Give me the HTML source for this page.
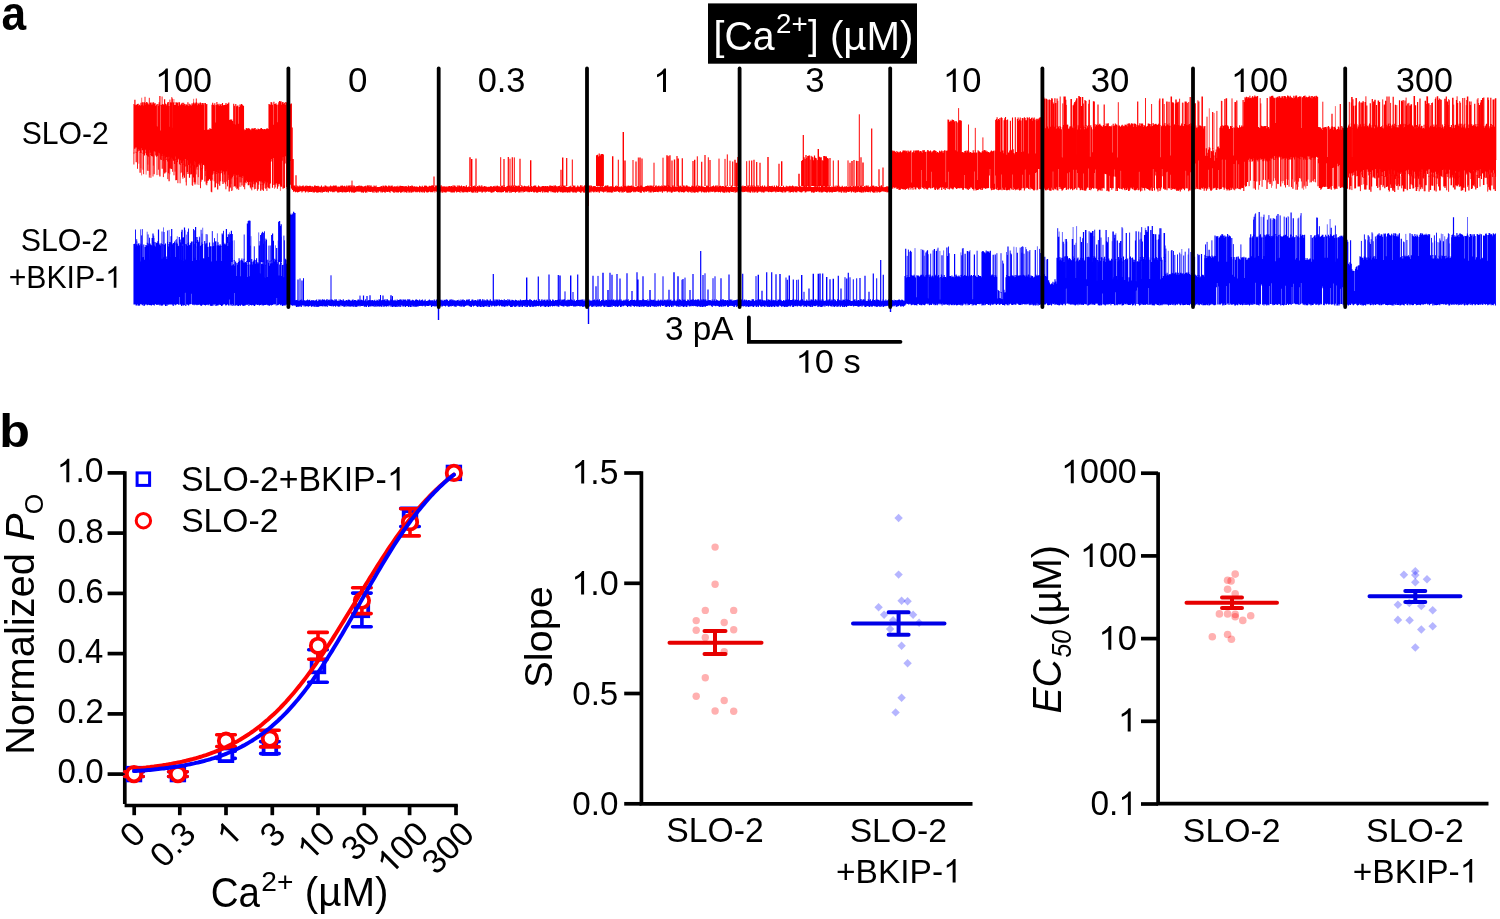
<!DOCTYPE html>
<html><head><meta charset="utf-8"><title>figure</title>
<style>
html,body{margin:0;padding:0;background:#fff;overflow:hidden;}
svg{display:block;will-change:transform;}
text{font-family:"Liberation Sans", sans-serif;font-kerning:none;}
</style></head>
<body>
<svg width="1500" height="919" viewBox="0 0 1500 919">
<rect width="1500" height="919" fill="#fff"/>
<text font-family="Liberation Sans, sans-serif" font-size="100.0" font-weight="bold" fill="#000" transform="matrix(0.44261 0 0 0.48736 1.40 29.52)">a</text><rect x="708" y="3.4" width="209" height="60.3" fill="#000"/><text font-family="Liberation Sans, sans-serif" font-size="100.0" fill="#fff" transform="matrix(0.39263 0 0 0.40445 713.60 49.51)">[Ca</text><text font-family="Liberation Sans, sans-serif" font-size="100.0" fill="#fff" transform="matrix(0.27774 0 0 0.28357 776.00 33.10)">2+</text><text font-family="Liberation Sans, sans-serif" font-size="100.0" fill="#fff" transform="matrix(0.38243 0 0 0.40123 808.10 49.27)">]</text><text font-family="Liberation Sans, sans-serif" font-size="100.0" fill="#fff" transform="matrix(0.40181 0 0 0.40338 829.91 49.63)">(µM)</text><g transform="matrix(0.34068 0 0 0.34300 155.19 92.00)"><path fill="#000" d="M 37.256 -0.000 L 28.467 -0.000 L 28.467 -53.828 C 26.367 -51.904 23.584 -49.933 20.117 -48.009 C 16.650 -46.038 13.574 -44.583 10.889 -43.551 L 10.889 -51.716 C 15.771 -53.922 20.068 -56.597 23.730 -59.741 C 27.393 -62.886 29.980 -65.889 31.494 -68.799 L 37.256 -68.799 Z"/><text font-family="Liberation Sans, sans-serif" font-size="100.0" fill="#000" x="55.615" y="0">00</text></g><text font-family="Liberation Sans, sans-serif" font-size="100.0" fill="#000" transform="matrix(0.34935 0 0 0.34604 347.94 92.06)">0</text><text font-family="Liberation Sans, sans-serif" font-size="100.0" fill="#000" transform="matrix(0.34427 0 0 0.34604 477.66 92.06)">0.3</text><g transform="translate(653.32 92.00)"><path fill="#000" d="M 12.667 -0.000 L 9.679 -0.000 L 9.679 -18.302 C 8.965 -17.647 8.019 -16.977 6.840 -16.323 C 5.661 -15.653 4.615 -15.158 3.702 -14.807 L 3.702 -17.584 C 5.362 -18.334 6.823 -19.243 8.068 -20.312 C 9.313 -21.381 10.193 -22.402 10.708 -23.392 L 12.667 -23.392 Z"/></g><text font-family="Liberation Sans, sans-serif" font-size="100.0" fill="#000" transform="matrix(0.34801 0 0 0.34604 805.37 92.06)">3</text><g transform="matrix(0.34531 0 0 0.34300 942.94 92.00)"><path fill="#000" d="M 37.256 -0.000 L 28.467 -0.000 L 28.467 -53.828 C 26.367 -51.904 23.584 -49.933 20.117 -48.009 C 16.650 -46.038 13.574 -44.583 10.889 -43.551 L 10.889 -51.716 C 15.771 -53.922 20.068 -56.597 23.730 -59.741 C 27.393 -62.886 29.980 -65.889 31.494 -68.799 L 37.256 -68.799 Z"/><text font-family="Liberation Sans, sans-serif" font-size="100.0" fill="#000" x="55.615" y="0">0</text></g><text font-family="Liberation Sans, sans-serif" font-size="100.0" fill="#000" transform="matrix(0.34777 0 0 0.34604 1090.68 92.06)">30</text><g transform="matrix(0.34199 0 0 0.34300 1230.98 92.00)"><path fill="#000" d="M 37.256 -0.000 L 28.467 -0.000 L 28.467 -53.828 C 26.367 -51.904 23.584 -49.933 20.117 -48.009 C 16.650 -46.038 13.574 -44.583 10.889 -43.551 L 10.889 -51.716 C 15.771 -53.922 20.068 -56.597 23.730 -59.741 C 27.393 -62.886 29.980 -65.889 31.494 -68.799 L 37.256 -68.799 Z"/><text font-family="Liberation Sans, sans-serif" font-size="100.0" fill="#000" x="55.615" y="0">00</text></g><text font-family="Liberation Sans, sans-serif" font-size="100.0" fill="#000" transform="matrix(0.34060 0 0 0.34604 1396.00 92.06)">300</text><text font-family="Liberation Sans, sans-serif" font-size="100.0" fill="#000" transform="matrix(0.30167 0 0 0.30508 21.63 144.00)">SLO-2</text><text font-family="Liberation Sans, sans-serif" font-size="100.0" fill="#000" transform="matrix(0.30382 0 0 0.30508 20.72 250.70)">SLO-2</text><g transform="matrix(0.30203 0 0 0.31500 8.63 287.80)"><text font-family="Liberation Sans, sans-serif" font-size="100.0" fill="#000" x="0.000" y="0">+BKIP-</text><path fill="#000" d="M 356.836 -0.000 L 348.047 -0.000 L 348.047 -53.828 C 345.947 -51.904 343.164 -49.933 339.697 -48.009 C 336.230 -46.038 333.154 -44.583 330.469 -43.551 L 330.469 -51.716 C 335.352 -53.922 339.648 -56.597 343.311 -59.741 C 346.973 -62.886 349.561 -65.889 351.074 -68.799 L 356.836 -68.799 Z"/></g><path d="M134.0 104.1V153.5 M134.7 105.1V148.8 M135.4 105.5V147.4 M136.1 104.4V152.7 M136.8 105.1V147.5 M137.5 104.0V151.4 M138.2 103.8V151.3 M138.9 105.8V149.3 M139.6 104.7V150.8 M140.3 105.8V152.7 M141.0 102.7V153.1 M141.7 104.9V148.1 M142.4 102.3V150.3 M143.1 105.4V153.7 M143.8 102.2V154.0 M144.5 102.3V155.5 M145.2 103.1V149.8 M145.9 104.5V153.2 M146.6 102.1V155.0 M147.3 102.4V155.9 M148.0 103.4V156.2 M148.7 104.5V156.7 M149.4 104.8V150.2 M150.1 102.7V152.7 M150.8 102.6V154.9 M151.5 104.6V156.1 M152.2 102.6V156.3 M152.9 104.5V156.6 M153.6 102.3V151.2 M154.3 104.0V151.1 M155.0 103.0V151.8 M155.7 105.9V155.4 M156.4 104.5V156.7 M157.1 126.4V156.3 M157.8 103.9V155.7 M158.5 105.7V152.3 M159.2 102.3V153.0 M159.9 104.8V154.3 M160.6 130.5V159.4 M161.3 104.9V160.0 M162.0 104.4V155.9 M162.7 104.0V154.7 M163.4 104.5V160.7 M164.1 104.6V155.8 M164.8 103.6V155.6 M165.5 103.7V158.3 M166.2 105.5V160.0 M166.9 104.3V157.1 M167.6 102.4V161.6 M168.3 102.1V160.3 M169.0 105.9V156.7 M169.7 126.8V161.1 M170.4 102.3V159.3 M171.1 103.1V157.8 M171.8 102.2V157.0 M172.5 127.8V158.8 M173.2 102.4V160.8 M173.9 102.2V160.7 M174.6 104.9V164.1 M175.3 105.0V156.6 M176.0 102.3V159.9 M176.7 102.4V162.3 M177.4 103.0V161.9 M178.1 102.2V158.6 M178.8 105.7V159.6 M179.5 102.3V164.0 M180.2 105.2V164.9 M180.9 104.4V160.3 M181.6 103.6V163.1 M182.3 102.8V161.4 M183.0 105.0V165.0 M183.7 102.8V160.4 M184.4 104.0V160.5 M185.1 105.7V159.1 M185.8 104.3V166.4 M186.5 104.5V164.8 M187.2 105.3V165.9 M187.9 102.3V160.3 M188.6 106.0V165.0 M189.3 103.7V160.0 M190.0 105.6V163.4 M190.7 104.6V167.5 M191.4 105.7V161.2 M192.1 103.3V165.4 M192.8 104.5V165.6 M193.5 102.5V162.9 M194.2 104.2V166.1 M194.9 102.7V161.3 M195.6 103.6V161.9 M196.3 102.3V167.4 M197.0 102.8V169.6 M197.7 105.3V166.8 M198.4 103.8V164.1 M199.1 102.7V163.6 M199.8 104.5V165.3 M200.5 102.4V170.6 M201.2 103.3V163.5 M201.9 104.9V169.0 M202.6 102.9V168.4 M203.3 104.4V165.0 M204.0 103.0V164.7 M204.7 129.9V165.8 M205.4 103.0V171.1 M206.1 104.5V169.3 M206.8 104.0V164.7 M207.0 129.6V179.9 M207.7 130.0V180.9 M208.4 129.4V180.4 M209.1 130.0V179.2 M209.8 128.3V179.3 M210.5 128.7V180.7 M211.2 128.9V180.1 M211.9 129.3V179.2 M212.0 104.8V169.2 M212.7 102.8V174.7 M213.4 104.8V171.3 M214.1 105.6V173.5 M214.8 103.2V171.0 M215.5 122.5V172.7 M216.2 104.9V174.0 M216.9 102.0V171.9 M217.6 104.3V170.0 M218.3 105.2V173.2 M219.0 103.7V172.9 M219.7 105.8V169.8 M220.4 104.6V173.5 M221.1 104.0V170.6 M221.8 105.9V173.3 M222.5 103.0V174.7 M223.2 104.9V171.6 M223.9 105.4V171.6 M224.6 105.0V174.4 M225.3 104.7V172.8 M226.0 103.0V171.5 M226.7 105.1V171.3 M227.4 104.1V169.6 M228.1 103.6V174.7 M228.8 102.5V174.9 M229.0 120.3V178.3 M229.7 119.9V177.3 M230.4 119.6V178.3 M231.1 119.6V178.7 M231.8 119.6V178.3 M232.5 120.9V177.1 M233.0 123.8V174.3 M233.7 103.7V175.7 M234.4 105.7V178.4 M235.1 124.5V173.7 M235.8 104.0V174.0 M236.5 106.4V175.2 M237.2 105.7V178.6 M237.9 105.5V175.0 M238.6 123.7V174.5 M239.3 106.9V176.9 M240.0 104.6V176.3 M240.7 105.4V176.9 M241.4 103.9V177.0 M242.1 104.5V177.9 M242.8 105.3V176.5 M243.5 106.1V175.5 M244.0 128.9V182.6 M244.7 130.2V184.8 M245.4 130.1V182.3 M246.1 128.5V183.3 M246.8 127.9V180.7 M247.5 128.7V182.1 M248.2 128.5V185.2 M248.9 128.0V185.3 M249.6 128.9V181.9 M250.3 129.4V184.5 M251.0 130.2V181.7 M251.7 128.4V182.6 M252.4 128.4V184.8 M253.1 128.3V184.3 M253.8 128.9V181.5 M254.5 128.3V183.4 M255.2 128.0V184.5 M255.9 129.9V181.7 M256.6 129.2V182.2 M257.3 129.9V182.9 M258.0 128.4V180.7 M258.7 129.0V184.7 M259.4 129.5V180.9 M260.1 129.0V181.4 M260.8 128.2V185.2 M261.5 127.9V181.2 M262.2 128.9V182.4 M262.9 128.9V185.1 M263.6 129.7V185.3 M264.3 128.9V183.6 M265.0 129.1V181.2 M265.7 129.8V181.8 M266.4 129.1V184.7 M267.1 128.0V181.9 M267.8 129.0V182.7 M268.5 129.2V181.2 M269.0 104.0V184.1 M269.7 104.4V188.5 M270.4 104.8V183.5 M271.1 102.0V161.6 M271.8 102.4V158.9 M272.5 104.7V187.7 M273.2 124.8V157.9 M273.9 101.7V184.9 M274.6 104.0V184.6 M275.3 103.9V183.3 M276.0 103.2V184.4 M276.7 104.8V183.1 M277.4 122.2V188.8 M278.1 104.4V186.4 M278.8 102.3V183.9 M279.5 101.0V183.7 M280.2 101.9V185.5 M280.9 101.1V186.8 M281.6 104.7V186.7 M282.3 102.2V160.8 M283.0 102.1V157.0 M283.7 103.9V187.4 M284.4 102.8V186.3 M285.1 104.9V163.6 M285.8 102.1V156.2 M286.5 102.4V186.9 M287.2 103.1V188.9 M287.9 101.6V162.7 M288.6 104.7V189.0 M289.3 102.7V183.6 M290.0 105.0V161.0 M290.7 103.8V184.7 M291.4 103.6V183.0 M291.5 128.1V188.6 M292.2 127.6V188.9 M292.5 160.0V189.9 M293.2 159.1V188.6 M293.5 186.2V191.8 M294.2 185.4V191.4 M294.9 185.6V191.3 M295.6 186.5V192.2 M296.3 185.5V191.6 M297.0 187.2V191.9 M297.7 185.7V192.6 M298.4 186.4V192.1 M299.1 186.7V192.0 M299.8 185.4V191.3 M300.5 186.3V191.3 M301.2 186.3V191.1 M301.9 186.2V192.4 M302.6 185.8V191.5 M303.3 185.4V191.3 M304.0 186.8V191.1 M304.7 186.5V191.3 M305.4 185.8V192.6 M306.1 186.5V191.7 M306.8 185.5V191.3 M307.5 186.0V191.6 M308.2 186.1V192.6 M308.9 186.2V191.5 M309.6 185.7V192.0 M310.3 185.8V191.7 M311.0 185.9V191.9 M311.7 187.3V192.1 M312.4 186.3V191.2 M313.1 186.8V192.4 M313.8 186.7V192.3 M314.5 185.4V192.6 M315.2 185.5V191.5 M315.9 186.2V192.1 M316.6 186.0V192.4 M317.3 186.2V192.8 M318.0 185.8V192.1 M318.7 186.2V192.4 M319.4 187.2V192.0 M320.1 186.6V192.0 M320.8 187.1V192.6 M321.5 185.4V191.6 M322.2 186.8V192.8 M322.9 187.2V191.8 M323.6 186.6V191.9 M324.3 186.9V191.9 M325.0 185.6V191.3 M325.7 185.6V191.6 M326.4 186.3V191.9 M327.1 186.6V192.3 M327.8 186.6V191.2 M328.5 187.3V192.5 M329.2 186.3V191.1 M329.9 187.2V191.3 M330.6 185.4V191.8 M331.3 186.8V191.5 M332.0 185.9V191.6 M332.7 186.7V192.2 M333.4 185.6V191.7 M334.1 185.5V192.3 M334.8 186.0V191.4 M335.5 185.4V191.2 M336.2 185.4V191.4 M336.9 186.6V191.3 M337.6 187.3V192.5 M338.3 186.5V192.5 M339.0 186.7V192.6 M339.7 186.7V191.7 M340.4 186.2V192.0 M341.1 185.6V191.7 M341.8 186.0V192.2 M342.5 185.6V192.6 M343.2 186.8V192.2 M343.9 186.0V191.4 M344.6 185.7V192.3 M345.3 186.6V192.3 M346.0 186.8V192.6 M346.7 185.6V191.9 M347.4 187.2V191.9 M348.1 185.7V191.9 M348.8 185.4V191.1 M349.5 185.6V192.6 M350.2 186.8V191.6 M350.9 185.3V191.5 M351.6 186.3V192.5 M352.3 185.4V192.6 M353.0 187.3V191.8 M353.7 185.6V192.7 M354.4 185.8V192.8 M355.1 187.3V191.9 M355.8 186.5V192.2 M356.5 186.2V191.4 M357.2 185.9V191.2 M357.9 186.0V191.8 M358.6 185.8V191.4 M359.3 185.6V191.7 M360.0 186.5V191.3 M360.7 185.7V191.8 M361.4 185.8V192.4 M362.1 186.0V192.5 M362.8 186.7V192.2 M363.5 186.9V192.8 M364.2 186.1V191.7 M364.9 186.7V191.5 M365.6 185.7V192.7 M366.3 187.2V192.2 M367.0 185.7V192.6 M367.7 185.3V191.1 M368.4 185.5V191.4 M369.1 186.9V192.0 M369.8 185.3V191.6 M370.5 186.3V192.1 M371.2 185.5V192.1 M371.9 187.0V191.0 M372.6 186.7V192.5 M373.3 187.0V191.6 M374.0 185.6V192.8 M374.7 186.3V191.1 M375.4 186.4V191.7 M376.1 185.5V192.5 M376.8 187.3V192.7 M377.5 186.9V191.5 M378.2 187.0V192.4 M378.9 187.0V191.4 M379.6 186.9V191.0 M380.3 186.6V191.6 M381.0 186.6V192.5 M381.7 186.0V191.6 M382.4 187.3V192.4 M383.1 185.6V191.5 M383.8 185.9V192.1 M384.5 187.0V192.3 M385.2 185.6V192.7 M385.9 185.6V191.5 M386.6 186.1V191.7 M387.3 187.1V192.1 M388.0 186.5V192.0 M388.7 185.4V191.2 M389.4 185.7V192.0 M390.1 187.0V192.7 M390.8 185.7V191.1 M391.5 185.7V191.1 M392.2 185.4V191.8 M392.9 186.8V191.5 M393.6 186.8V192.6 M394.3 186.3V192.8 M395.0 186.6V191.2 M395.7 186.4V192.2 M396.4 186.2V192.2 M397.1 186.9V192.4 M397.8 185.8V192.2 M398.5 187.1V192.4 M399.2 186.5V192.0 M399.9 185.7V191.3 M400.6 185.7V192.7 M401.3 186.0V192.6 M402.0 186.0V192.2 M402.7 185.9V191.8 M403.4 186.3V191.0 M404.1 186.3V192.4 M404.8 186.5V191.6 M405.5 186.2V191.9 M406.2 185.9V192.4 M406.9 186.8V192.7 M407.6 187.0V191.2 M408.3 185.4V191.4 M409.0 186.1V192.7 M409.7 187.2V192.3 M410.4 186.1V191.2 M411.1 186.4V192.7 M411.8 185.5V192.5 M412.5 185.7V191.8 M413.2 186.4V192.3 M413.9 186.6V191.6 M414.6 186.3V191.2 M415.3 187.1V192.2 M416.0 186.4V191.5 M416.7 186.6V192.3 M417.4 186.7V192.2 M418.1 186.9V191.1 M418.8 187.2V192.1 M419.5 185.7V192.5 M420.2 186.3V191.0 M420.9 186.7V192.3 M421.6 186.7V191.9 M422.3 185.7V192.5 M423.0 187.1V191.2 M423.7 186.9V192.3 M424.4 185.7V192.7 M425.1 185.6V191.5 M425.8 185.7V191.6 M426.5 185.7V192.2 M427.2 186.9V192.6 M427.9 186.5V192.4 M428.6 187.1V192.0 M429.3 185.7V191.3 M430.0 186.0V191.7 M430.7 186.2V192.3 M431.4 185.4V192.0 M432.1 185.5V192.3 M432.8 185.3V192.2 M433.5 185.8V191.3 M434.2 186.4V191.1 M434.9 187.3V192.6 M435.6 185.5V191.1 M436.3 185.5V191.3 M437.0 185.5V192.0 M437.7 186.8V191.9 M438.4 185.5V191.4 M439.1 186.8V192.1 M439.8 185.4V192.4 M440.5 186.8V191.4 M441.2 185.3V192.6 M441.9 186.5V191.1 M442.6 186.6V192.7 M443.3 186.3V191.5 M444.0 186.9V192.2 M444.7 186.3V192.3 M445.4 186.9V192.4 M446.1 186.4V192.6 M446.8 186.6V191.7 M447.5 187.2V191.4 M448.2 186.2V191.5 M448.9 186.3V191.7 M449.6 186.1V191.8 M450.3 187.1V191.7 M451.0 186.1V192.6 M451.7 186.0V192.5 M452.4 187.1V192.4 M453.1 185.3V192.5 M453.8 186.8V192.2 M454.5 185.6V192.4 M455.2 185.8V191.5 M455.9 186.9V191.1 M456.6 187.1V192.6 M457.3 185.6V192.1 M458.0 187.2V191.5 M458.7 185.6V192.1 M459.4 185.4V192.0 M460.1 186.3V192.8 M460.8 186.3V191.1 M461.5 185.4V191.6 M462.2 187.2V192.4 M462.9 186.2V192.1 M463.6 185.9V192.4 M464.3 186.3V191.7 M465.0 186.4V192.2 M465.7 186.7V191.7 M466.4 185.3V192.0 M467.1 187.3V192.6 M467.8 187.0V192.3 M468.5 186.8V191.2 M469.2 186.1V191.9 M469.9 186.8V191.7 M470.6 187.1V191.1 M471.3 185.7V192.3 M472.0 185.7V192.5 M472.7 187.2V192.7 M473.4 186.1V192.6 M474.1 186.5V192.6 M474.8 185.5V191.0 M475.5 186.2V192.4 M476.2 186.5V191.1 M476.9 187.2V192.7 M477.6 185.9V192.8 M478.3 186.9V191.5 M479.0 185.5V191.7 M479.7 185.4V191.7 M480.4 186.5V191.8 M481.1 186.5V191.2 M481.8 185.3V192.4 M482.5 186.8V192.5 M483.2 186.5V191.0 M483.9 186.8V192.0 M484.6 186.0V191.2 M485.3 186.7V192.4 M486.0 186.3V191.1 M486.7 187.0V192.0 M487.4 187.2V191.3 M488.1 186.8V191.3 M488.8 186.8V192.0 M489.5 186.9V191.4 M490.2 186.4V191.8 M490.9 186.0V192.6 M491.6 186.4V192.7 M492.3 186.7V192.6 M493.0 186.7V191.8 M493.7 186.1V192.3 M494.4 186.8V191.4 M495.1 185.7V191.0 M495.8 186.9V191.1 M496.5 186.2V191.9 M497.2 185.6V192.0 M497.9 186.1V192.6 M498.6 186.4V192.1 M499.3 186.5V191.8 M500.0 186.3V192.5 M500.7 187.3V192.1 M501.4 185.8V192.6 M502.1 185.9V191.9 M502.8 185.4V192.2 M503.5 187.1V192.0 M504.2 185.3V191.1 M504.9 186.9V191.1 M505.6 186.9V192.5 M506.3 187.2V192.2 M507.0 186.0V192.4 M507.7 186.0V192.5 M508.4 185.5V191.3 M509.1 185.4V191.2 M509.8 185.8V192.7 M510.5 186.6V191.4 M511.2 185.5V192.7 M511.9 185.9V191.7 M512.6 186.6V192.1 M513.3 185.4V191.7 M514.0 185.4V192.0 M514.7 187.1V191.8 M515.4 185.6V192.8 M516.1 185.7V191.7 M516.8 186.0V192.1 M517.5 186.6V191.6 M518.2 185.4V191.5 M518.9 185.8V192.7 M519.6 186.0V192.3 M520.3 187.1V191.3 M521.0 187.1V192.4 M521.7 185.3V191.2 M522.4 186.3V191.2 M523.1 187.1V192.6 M523.8 186.2V191.4 M524.5 185.7V192.1 M525.2 186.2V191.1 M525.9 186.3V191.8 M526.6 186.6V191.2 M527.3 186.2V191.5 M528.0 186.6V192.2 M528.7 185.6V191.7 M529.4 187.0V192.2 M530.1 186.7V191.8 M530.8 185.9V191.6 M531.5 186.0V191.9 M532.2 186.6V191.4 M532.9 186.9V191.5 M533.6 186.1V192.3 M534.3 185.6V192.5 M535.0 185.8V192.0 M535.7 185.6V191.6 M536.4 186.9V192.4 M537.1 186.8V192.7 M537.8 187.2V192.6 M538.5 185.4V191.7 M539.2 186.2V191.9 M539.9 186.4V191.8 M540.6 187.2V192.2 M541.3 186.7V191.1 M542.0 186.2V191.6 M542.7 185.9V192.7 M543.4 186.1V191.2 M544.1 186.3V191.7 M544.8 186.3V192.6 M545.5 186.0V192.0 M546.2 186.7V192.2 M546.9 185.9V192.0 M547.6 186.0V192.5 M548.3 186.6V192.4 M549.0 186.4V191.1 M549.7 185.6V191.3 M550.4 185.5V191.2 M551.1 185.9V192.3 M551.8 185.8V191.1 M552.5 186.0V191.9 M553.2 186.8V192.5 M553.9 185.4V191.9 M554.6 186.2V192.5 M555.3 185.3V192.7 M556.0 186.3V191.9 M556.7 186.3V191.4 M557.4 187.3V192.8 M558.1 186.0V192.3 M558.8 186.3V191.6 M559.5 185.8V191.3 M560.2 186.9V192.3 M560.9 185.4V192.2 M561.6 186.3V191.8 M562.3 186.4V192.4 M563.0 185.5V192.7 M563.7 185.4V192.2 M564.4 186.0V191.9 M565.1 185.4V192.6 M565.8 186.9V192.1 M566.5 186.7V191.7 M567.2 187.2V192.7 M567.9 186.9V192.4 M568.6 187.1V191.9 M569.3 186.3V192.5 M570.0 186.8V192.5 M570.7 185.8V191.6 M571.4 187.3V191.4 M572.1 186.5V191.7 M572.8 186.8V192.4 M573.5 185.4V192.6 M574.2 186.0V191.8 M574.9 185.4V192.6 M575.6 187.2V192.6 M576.3 187.3V192.7 M577.0 186.8V191.6 M577.7 185.4V191.7 M578.4 186.6V191.6 M579.1 186.5V191.6 M579.8 187.1V192.1 M580.5 185.3V192.7 M581.2 186.6V192.6 M581.9 185.3V191.2 M582.6 186.8V191.2 M583.3 187.2V192.3 M584.0 186.0V192.8 M584.7 185.3V192.6 M585.4 185.6V191.0 M586.1 185.4V191.1 M586.8 186.7V191.4 M587.5 186.2V191.1 M588.2 185.7V192.1 M588.9 185.6V192.4 M589.6 185.6V192.6 M590.3 186.5V191.4 M591.0 185.3V192.6 M591.7 185.9V191.3 M592.4 187.3V191.4 M593.1 186.6V191.8 M593.8 186.1V192.5 M594.5 186.3V191.8 M595.2 186.1V191.1 M595.9 187.0V192.2 M596.6 186.9V191.9 M597.3 186.5V191.3 M598.0 186.6V192.2 M598.7 186.9V191.3 M599.4 187.1V192.8 M600.1 186.3V191.0 M600.8 185.5V191.5 M601.5 186.9V191.1 M602.2 185.9V191.9 M602.9 186.8V191.3 M603.6 187.2V192.6 M604.3 186.8V191.3 M605.0 186.1V192.1 M605.7 185.5V191.3 M606.4 186.2V191.2 M607.1 185.5V192.5 M607.8 185.3V192.2 M608.5 186.6V192.2 M609.2 186.4V192.6 M609.9 186.6V191.9 M610.6 186.3V192.2 M611.3 186.7V192.7 M612.0 186.1V192.2 M612.7 185.6V192.6 M613.4 186.5V191.0 M614.1 186.9V191.6 M614.8 187.3V191.9 M615.5 186.1V191.5 M616.2 185.6V191.7 M616.9 186.9V191.1 M617.6 185.9V191.1 M618.3 186.3V191.9 M619.0 186.6V191.6 M619.7 187.0V192.5 M620.4 187.2V191.6 M621.1 186.2V191.0 M621.8 186.5V192.6 M622.5 187.2V192.2 M623.2 185.6V192.6 M623.9 185.4V191.3 M624.6 186.1V192.1 M625.3 185.9V191.1 M626.0 185.7V191.5 M626.7 187.1V192.6 M627.4 186.3V192.8 M628.1 185.5V192.7 M628.8 185.7V192.4 M629.5 186.0V192.4 M630.2 185.7V192.7 M630.9 185.9V192.3 M631.6 185.4V191.9 M632.3 185.9V191.2 M633.0 187.2V191.2 M633.7 186.0V192.3 M634.4 187.1V191.4 M635.1 187.2V192.2 M635.8 186.7V191.8 M636.5 187.0V191.0 M637.2 186.1V191.7 M637.9 186.4V191.3 M638.6 185.9V192.0 M639.3 186.8V191.4 M640.0 186.0V192.4 M640.7 185.4V192.8 M641.4 185.4V192.7 M642.1 186.0V191.1 M642.8 186.7V191.3 M643.5 187.2V192.1 M644.2 186.9V192.4 M644.9 186.8V191.3 M645.6 186.2V191.4 M646.3 186.1V192.0 M647.0 186.0V191.1 M647.7 185.4V191.3 M648.4 185.8V191.2 M649.1 186.5V192.6 M649.8 185.4V191.3 M650.5 185.4V192.4 M651.2 185.6V192.5 M651.9 185.7V191.2 M652.6 186.6V191.5 M653.3 185.6V192.6 M654.0 186.8V192.0 M654.7 187.0V192.0 M655.4 186.0V192.0 M656.1 185.3V191.8 M656.8 186.6V191.8 M657.5 186.4V192.0 M658.2 185.9V192.2 M658.9 185.5V191.6 M659.6 186.8V191.5 M660.3 186.1V191.8 M661.0 186.9V191.6 M661.7 185.5V191.4 M662.4 186.1V192.7 M663.1 186.7V191.6 M663.8 185.6V191.1 M664.5 185.5V191.5 M665.2 186.1V191.3 M665.9 185.6V191.1 M666.6 185.8V191.2 M667.3 186.8V192.6 M668.0 185.5V191.8 M668.7 185.3V191.4 M669.4 186.0V191.4 M670.1 186.2V192.3 M670.8 186.5V191.3 M671.5 187.2V192.8 M672.2 185.9V192.6 M672.9 185.3V191.7 M673.6 186.7V191.2 M674.3 185.7V191.7 M675.0 186.8V192.1 M675.7 186.6V191.2 M676.4 187.1V191.4 M677.1 186.0V191.5 M677.8 186.9V191.1 M678.5 185.4V192.0 M679.2 185.7V192.5 M679.9 187.0V191.5 M680.6 185.8V191.5 M681.3 187.0V192.2 M682.0 186.3V192.0 M682.7 186.5V192.1 M683.4 185.4V192.6 M684.1 185.5V192.5 M684.8 186.6V192.1 M685.5 186.7V191.1 M686.2 185.5V191.4 M686.9 185.3V191.1 M687.6 186.3V192.1 M688.3 186.9V192.5 M689.0 186.3V191.2 M689.7 186.9V191.8 M690.4 186.9V192.3 M691.1 187.2V191.3 M691.8 185.7V192.7 M692.5 185.8V191.6 M693.2 185.9V192.5 M693.9 186.4V192.0 M694.6 185.5V192.7 M695.3 186.2V192.5 M696.0 186.6V191.8 M696.7 185.6V192.1 M697.4 187.3V192.6 M698.1 186.2V192.5 M698.8 185.6V191.6 M699.5 185.9V191.5 M700.2 187.1V191.4 M700.9 185.7V191.0 M701.6 186.1V192.4 M702.3 186.3V191.0 M703.0 186.6V192.0 M703.7 186.8V192.2 M704.4 187.0V192.6 M705.1 187.2V192.6 M705.8 187.1V191.8 M706.5 185.7V192.5 M707.2 185.6V191.7 M707.9 186.3V191.4 M708.6 185.9V192.4 M709.3 187.3V191.5 M710.0 186.6V192.3 M710.7 186.2V191.2 M711.4 186.7V191.7 M712.1 186.6V191.5 M712.8 186.0V192.1 M713.5 185.5V191.0 M714.2 187.1V191.8 M714.9 186.3V192.5 M715.6 185.4V191.9 M716.3 185.4V191.5 M717.0 187.2V192.0 M717.7 185.4V191.2 M718.4 187.0V192.2 M719.1 186.0V192.0 M719.8 186.0V191.7 M720.5 185.8V192.6 M721.2 186.2V191.8 M721.9 186.4V191.2 M722.6 186.0V192.2 M723.3 185.9V192.4 M724.0 187.1V192.7 M724.7 186.4V192.8 M725.4 186.1V191.3 M726.1 185.5V192.2 M726.8 186.9V192.6 M727.5 187.1V191.3 M728.2 186.4V191.9 M728.9 187.3V192.5 M729.6 187.1V192.7 M730.3 186.9V191.2 M731.0 186.2V191.8 M731.7 185.4V192.0 M732.4 186.6V192.1 M733.1 187.1V191.8 M733.8 186.9V192.2 M734.5 186.7V191.1 M735.2 186.8V192.7 M735.9 186.2V191.8 M736.6 185.5V192.3 M737.3 186.6V191.3 M738.0 187.0V192.5 M738.7 187.1V192.3 M739.4 185.4V191.7 M740.1 187.1V191.0 M740.8 187.3V191.0 M741.5 186.3V191.7 M742.2 186.6V191.7 M742.9 185.5V192.2 M743.6 186.8V191.8 M744.3 186.1V192.1 M745.0 186.0V191.8 M745.7 185.9V191.4 M746.4 186.6V191.8 M747.1 186.8V191.5 M747.8 185.6V192.3 M748.5 185.6V191.5 M749.2 187.3V192.4 M749.9 185.5V191.8 M750.6 187.0V192.7 M751.3 185.4V191.2 M752.0 186.8V191.6 M752.7 185.4V192.6 M753.4 187.0V191.2 M754.1 185.4V192.6 M754.8 186.3V192.5 M755.5 186.7V191.7 M756.2 186.5V191.3 M756.9 185.3V192.6 M757.6 186.8V192.7 M758.3 185.5V191.7 M759.0 187.1V191.7 M759.7 186.6V191.2 M760.4 186.0V191.8 M761.1 186.1V191.5 M761.8 187.1V192.4 M762.5 185.4V191.8 M763.2 186.7V192.2 M763.9 187.0V192.7 M764.6 185.5V191.7 M765.3 187.0V191.5 M766.0 186.5V191.3 M766.7 186.9V191.5 M767.4 186.2V191.0 M768.1 185.5V192.1 M768.8 186.6V192.2 M769.5 185.9V191.2 M770.2 186.4V192.1 M770.9 186.0V191.7 M771.6 186.3V192.2 M772.3 185.7V191.9 M773.0 186.8V191.3 M773.7 186.8V191.7 M774.4 185.5V191.6 M775.1 187.3V191.5 M775.8 187.1V192.4 M776.5 185.4V191.5 M777.2 186.4V191.7 M777.9 186.2V192.1 M778.6 185.7V192.1 M779.3 187.1V191.1 M780.0 186.7V192.1 M780.7 186.5V191.4 M781.4 186.9V192.3 M782.1 186.9V192.1 M782.8 187.1V192.8 M783.5 185.7V191.3 M784.2 187.2V191.5 M784.9 187.1V192.4 M785.6 187.2V192.3 M786.3 185.8V191.6 M787.0 187.2V191.2 M787.7 186.2V191.2 M788.4 186.9V191.1 M789.1 186.3V192.6 M789.8 185.8V191.4 M790.5 186.3V192.5 M791.2 186.3V191.9 M791.9 186.3V191.9 M792.6 185.6V191.7 M793.3 186.3V192.4 M794.0 186.3V191.4 M794.7 187.2V191.4 M795.4 186.4V192.2 M796.1 185.9V192.1 M796.8 186.9V192.5 M797.5 186.5V191.3 M798.2 187.0V191.1 M798.9 186.6V191.5 M799.6 185.8V191.8 M800.3 186.6V192.2 M801.0 186.2V192.3 M801.7 187.0V192.6 M802.4 186.9V191.7 M803.1 185.5V191.2 M803.8 186.4V191.3 M804.5 185.8V191.1 M805.2 186.6V192.6 M805.9 185.6V192.2 M806.6 185.7V191.6 M807.3 186.8V191.6 M808.0 186.7V191.1 M808.7 185.4V191.6 M809.4 186.3V191.3 M810.1 185.9V191.2 M810.8 186.4V191.3 M811.5 187.1V192.6 M812.2 187.0V192.6 M812.9 186.9V191.7 M813.6 187.1V192.7 M814.3 186.5V192.4 M815.0 185.3V191.7 M815.7 186.2V191.4 M816.4 186.8V191.9 M817.1 185.3V191.5 M817.8 186.2V191.6 M818.5 187.3V191.5 M819.2 185.9V192.3 M819.9 187.1V192.3 M820.6 187.3V191.3 M821.3 185.7V192.6 M822.0 185.6V192.6 M822.7 185.6V192.2 M823.4 186.8V191.3 M824.1 186.3V192.1 M824.8 186.7V191.1 M825.5 185.3V192.0 M826.2 185.7V191.9 M826.9 185.9V192.8 M827.6 186.4V192.3 M828.3 186.7V191.6 M829.0 185.5V191.7 M829.7 186.6V192.6 M830.4 187.1V192.0 M831.1 187.2V191.8 M831.8 186.6V192.5 M832.5 186.9V192.6 M833.2 186.6V192.0 M833.9 185.7V191.5 M834.6 186.9V192.0 M835.3 186.8V192.0 M836.0 185.6V191.6 M836.7 187.2V191.8 M837.4 185.8V191.2 M838.1 186.6V191.1 M838.8 185.4V192.3 M839.5 186.5V191.8 M840.2 186.7V192.2 M840.9 187.1V191.3 M841.6 186.7V192.7 M842.3 185.8V191.4 M843.0 187.1V191.3 M843.7 187.2V192.5 M844.4 186.4V192.4 M845.1 186.5V191.2 M845.8 186.7V192.7 M846.5 186.3V192.5 M847.2 187.1V191.8 M847.9 186.6V191.8 M848.6 186.4V192.0 M849.3 186.2V191.7 M850.0 186.6V191.4 M850.7 185.9V191.0 M851.4 186.8V192.4 M852.1 187.0V191.7 M852.8 186.3V191.0 M853.5 186.0V192.1 M854.2 186.1V192.4 M854.9 186.9V191.3 M855.6 186.2V192.8 M856.3 185.7V191.7 M857.0 186.4V192.3 M857.7 186.1V192.0 M858.4 185.9V191.0 M859.1 186.2V192.1 M859.8 187.2V192.3 M860.5 185.7V192.3 M861.2 186.2V192.4 M861.9 185.5V192.8 M862.6 187.0V191.6 M863.3 186.7V192.5 M864.0 186.7V192.3 M864.7 185.9V191.1 M865.4 187.2V192.2 M866.1 185.5V191.8 M866.8 185.6V191.7 M867.5 186.4V191.9 M868.2 185.5V192.2 M868.9 187.0V191.9 M869.6 187.1V191.3 M870.3 186.2V192.5 M871.0 186.9V191.3 M871.7 185.5V191.3 M872.4 186.1V192.0 M873.1 185.6V192.4 M873.8 185.7V192.7 M874.5 186.8V192.5 M875.2 187.2V191.0 M875.9 186.0V192.5 M876.6 186.5V191.3 M877.3 186.8V192.6 M878.0 186.8V191.1 M878.7 186.9V191.9 M879.4 186.1V192.6 M880.1 185.7V192.2 M880.8 187.2V192.0 M881.5 185.3V191.3 M882.2 187.0V191.6 M882.9 185.9V191.0 M883.6 187.2V191.4 M884.3 187.2V191.7 M885.0 187.0V191.2 M885.7 187.1V192.0 M886.4 186.6V191.6 M887.1 186.2V192.5 M887.8 186.6V192.0 M888.5 186.4V192.3 M889.2 187.0V191.3 M889.9 186.3V192.5 M890.0 186.9V192.7 M890.7 187.7V192.6 M891.4 186.4V194.3 M892.0 151.6V187.6 M892.7 150.6V188.7 M893.4 151.3V187.3 M894.1 150.8V187.6 M894.8 151.2V188.3 M895.5 152.0V187.4 M896.2 152.9V187.6 M896.9 151.0V189.0 M897.6 152.0V188.7 M898.3 152.8V188.3 M899.0 151.7V190.0 M899.7 152.4V189.8 M900.4 151.2V189.7 M901.1 152.4V188.2 M901.8 152.2V189.1 M902.5 151.5V189.0 M903.2 150.2V189.6 M903.9 151.0V188.9 M904.6 150.5V189.3 M905.3 150.4V189.9 M906.0 151.7V188.8 M906.7 150.7V189.1 M907.4 152.7V187.9 M908.1 150.6V188.5 M908.8 151.6V189.8 M909.5 152.1V187.8 M910.2 150.7V187.2 M910.9 150.4V189.5 M911.6 182.4V187.8 M912.3 152.5V187.9 M913.0 151.9V189.7 M913.7 150.4V187.0 M914.4 152.8V187.2 M915.1 150.5V189.3 M915.8 150.6V189.6 M916.5 150.5V187.5 M917.2 150.2V187.2 M917.9 150.7V188.0 M918.6 150.3V189.1 M919.3 152.2V189.5 M920.0 151.0V187.7 M920.7 151.1V188.9 M921.4 151.5V170.1 M922.1 152.9V187.2 M922.8 150.3V188.0 M923.5 150.6V188.3 M924.2 150.1V189.2 M924.9 151.4V187.1 M925.6 152.0V188.4 M926.3 180.9V188.7 M927.0 151.5V189.6 M927.7 150.1V189.6 M928.4 150.4V187.9 M929.1 151.9V187.1 M929.8 150.9V188.1 M930.5 150.4V188.5 M931.2 151.5V171.8 M931.9 152.8V188.2 M932.6 151.6V188.1 M933.3 151.1V187.3 M934.0 150.1V187.4 M934.7 150.6V189.5 M935.4 150.8V189.9 M936.1 151.1V187.4 M936.8 152.8V188.8 M937.5 152.1V189.7 M938.2 152.4V188.7 M938.9 152.7V189.4 M939.6 150.8V187.9 M940.3 151.6V187.5 M941.0 151.4V187.2 M941.7 150.4V190.0 M942.4 152.4V187.6 M943.1 150.9V187.3 M943.8 152.8V189.0 M944.5 150.2V188.1 M945.2 150.5V190.0 M945.9 182.2V187.7 M946.6 150.8V188.3 M947.3 150.4V187.2 M948.0 119.6V188.9 M948.7 119.8V171.7 M949.4 122.1V189.6 M950.1 121.6V187.6 M950.8 120.6V188.6 M951.5 121.2V188.5 M952.2 119.5V188.7 M952.9 119.9V189.6 M953.6 120.1V188.4 M954.3 122.1V187.2 M955.0 121.1V187.2 M955.7 150.3V188.1 M956.4 121.2V189.0 M957.1 151.4V188.2 M957.8 122.4V188.6 M958.5 121.6V188.0 M959.2 120.5V188.0 M959.9 120.1V188.6 M960.6 120.5V187.7 M961.3 120.8V187.9 M962.0 152.3V188.2 M962.7 152.1V189.7 M963.4 152.6V189.8 M964.1 152.8V187.9 M964.8 150.9V174.9 M965.5 150.7V188.6 M966.2 152.6V188.1 M966.9 150.4V189.2 M967.6 151.3V189.2 M968.3 150.2V190.0 M969.0 151.5V188.1 M969.7 152.9V189.1 M970.4 152.1V187.6 M971.1 152.6V187.6 M971.8 152.8V187.7 M972.5 153.0V189.0 M973.2 150.3V189.2 M973.9 152.6V190.4 M974.6 152.4V171.6 M975.3 150.2V188.8 M976.0 152.7V190.4 M976.7 152.5V189.9 M977.4 180.1V190.1 M978.1 150.3V190.1 M978.8 151.2V189.3 M979.5 151.4V188.7 M980.2 152.3V189.1 M980.9 152.6V190.1 M981.6 152.6V188.1 M982.3 150.9V190.1 M983.0 152.1V188.6 M983.7 150.6V187.7 M984.4 150.1V188.3 M985.1 151.3V188.2 M985.8 150.3V189.1 M986.5 151.8V188.0 M987.2 151.3V188.3 M987.9 152.3V188.3 M988.6 152.0V188.0 M989.3 153.0V175.6 M990.0 152.3V169.0 M990.7 151.4V188.5 M991.4 150.5V190.3 M992.1 151.0V188.2 M992.8 151.7V190.0 M993.5 150.7V189.6 M994.2 183.8V189.8 M994.9 151.4V188.9 M995.0 150.4V188.3 M995.7 119.9V175.5 M996.4 119.1V189.0 M997.1 117.3V190.0 M997.8 120.5V187.7 M998.5 118.9V190.2 M999.2 119.9V189.5 M999.9 118.0V190.0 M1000.6 151.7V189.5 M1001.3 117.3V174.4 M1002.0 118.0V190.3 M1002.7 150.6V187.8 M1003.4 153.3V189.5 M1004.1 120.3V189.9 M1004.8 118.3V189.7 M1005.5 117.1V187.6 M1006.2 120.0V189.9 M1006.9 154.7V190.4 M1007.6 119.6V190.1 M1008.3 152.6V190.0 M1009.0 152.6V188.9 M1009.7 150.6V190.2 M1010.4 120.7V187.9 M1011.1 150.5V188.4 M1011.8 149.7V189.5 M1012.5 117.4V174.4 M1013.2 149.3V190.0 M1013.9 152.9V187.6 M1014.6 154.2V188.9 M1015.3 117.2V190.2 M1016.0 152.1V189.1 M1016.7 152.0V189.7 M1017.4 119.0V189.6 M1018.1 117.5V188.3 M1018.8 121.0V189.7 M1019.5 119.5V190.4 M1020.2 117.6V189.9 M1020.9 120.6V190.2 M1021.6 151.9V188.5 M1022.3 118.0V174.7 M1023.0 118.2V188.3 M1023.7 151.5V187.7 M1024.4 117.3V190.4 M1025.1 118.0V169.5 M1025.8 120.2V188.4 M1026.5 120.2V187.8 M1027.2 117.2V187.8 M1027.9 118.1V188.1 M1028.6 153.6V188.9 M1029.3 117.2V174.7 M1030.0 119.1V189.5 M1030.7 119.0V187.6 M1031.4 117.9V188.4 M1032.1 117.5V189.0 M1032.8 120.8V189.3 M1033.5 118.6V190.2 M1034.2 117.5V190.5 M1034.9 119.8V189.7 M1035.6 153.6V173.0 M1036.3 118.7V172.1 M1037.0 120.6V190.3 M1037.7 118.7V189.6 M1038.4 119.6V169.1 M1039.1 118.2V168.9 M1039.8 117.4V188.9 M1040.5 117.3V189.2 M1042.5 97.4V190.9 M1043.2 98.1V188.5 M1043.9 97.6V189.0 M1044.6 98.8V187.8 M1045.3 128.3V190.0 M1046.0 98.5V190.4 M1046.7 99.1V189.6 M1047.4 126.4V189.7 M1048.1 99.8V189.7 M1048.8 128.4V188.1 M1049.5 99.6V190.6 M1050.2 126.8V190.3 M1050.9 99.9V191.0 M1051.6 98.3V187.8 M1052.3 98.5V189.8 M1053.0 125.4V171.5 M1053.7 126.1V190.2 M1054.4 127.1V188.3 M1055.1 128.5V189.0 M1055.8 127.7V189.4 M1056.5 128.9V187.2 M1057.2 125.8V190.2 M1057.9 127.9V190.5 M1058.6 126.6V169.1 M1059.3 128.5V187.1 M1060.0 126.0V188.9 M1060.7 126.9V187.6 M1061.4 129.3V189.3 M1062.1 157.5V190.7 M1062.8 127.5V190.0 M1063.5 125.1V188.8 M1064.2 127.2V188.0 M1064.9 125.5V187.7 M1065.6 128.7V187.6 M1066.3 125.0V190.0 M1067.0 124.6V189.2 M1067.7 124.7V173.2 M1068.4 128.7V189.6 M1069.1 128.6V188.3 M1069.8 126.5V172.3 M1070.5 126.2V189.4 M1071.2 126.3V189.1 M1071.9 126.2V187.9 M1072.6 127.7V190.3 M1073.3 124.8V169.8 M1074.0 128.3V189.5 M1074.7 124.6V189.0 M1075.4 126.8V187.9 M1076.1 126.4V169.8 M1076.8 154.6V189.7 M1077.5 129.4V172.9 M1078.2 125.2V187.7 M1078.9 127.6V187.1 M1079.6 126.3V188.3 M1080.3 126.9V190.2 M1081.0 129.4V190.0 M1081.7 155.2V188.6 M1082.4 126.3V190.1 M1083.1 127.3V190.2 M1083.8 125.6V173.6 M1084.5 129.3V190.4 M1085.2 127.1V190.7 M1085.9 125.1V190.4 M1086.6 128.5V188.7 M1087.3 125.7V187.2 M1088.0 127.5V187.8 M1088.7 125.0V168.6 M1089.4 126.5V189.9 M1090.1 156.8V187.7 M1090.8 125.2V190.2 M1091.5 127.2V189.0 M1092.2 152.3V188.1 M1092.9 129.2V187.8 M1093.6 128.0V188.7 M1094.3 129.0V173.0 M1095.0 123.9V188.3 M1095.7 126.5V169.6 M1096.4 125.1V188.7 M1097.1 124.3V188.8 M1097.8 125.9V191.2 M1098.5 125.0V190.1 M1099.2 124.6V190.2 M1099.9 123.8V188.9 M1100.6 125.3V190.6 M1101.3 125.7V188.4 M1102.0 126.5V190.7 M1102.7 126.8V187.9 M1103.4 124.9V187.7 M1104.1 126.0V188.6 M1104.8 126.7V173.8 M1105.5 126.0V173.9 M1106.2 123.4V174.3 M1106.9 125.7V190.9 M1107.6 123.5V189.9 M1108.3 123.3V191.2 M1109.0 126.4V191.4 M1109.7 126.0V175.8 M1110.4 126.2V188.0 M1111.1 126.8V188.1 M1111.8 125.4V189.7 M1112.5 152.6V188.0 M1113.2 123.7V188.3 M1113.9 126.0V176.4 M1114.6 125.5V169.4 M1115.3 123.5V176.7 M1116.0 124.8V191.1 M1116.7 124.6V188.7 M1117.4 157.5V191.0 M1118.1 125.4V187.7 M1118.8 126.3V188.0 M1119.5 125.6V188.7 M1120.2 126.8V188.7 M1120.9 126.5V170.8 M1121.6 125.6V188.9 M1122.3 124.8V189.6 M1123.0 126.6V187.7 M1123.7 125.7V188.2 M1124.4 126.2V189.4 M1125.1 124.5V190.3 M1125.8 124.9V187.9 M1126.5 125.5V190.1 M1127.2 123.7V189.4 M1127.9 126.5V187.7 M1128.6 123.4V190.9 M1129.3 123.3V190.8 M1130.0 124.3V189.6 M1130.7 125.3V187.7 M1131.4 123.2V187.7 M1132.1 123.5V188.8 M1132.8 123.7V189.3 M1133.5 127.0V187.6 M1134.2 123.4V189.9 M1134.9 123.6V190.6 M1135.6 124.0V190.3 M1136.3 126.8V189.8 M1137.0 124.8V189.8 M1137.7 125.1V188.1 M1138.4 125.7V190.2 M1139.1 125.2V171.8 M1139.8 123.3V189.8 M1140.5 126.1V191.4 M1141.2 123.4V187.5 M1141.9 123.4V190.8 M1142.6 123.6V187.8 M1143.3 126.9V188.1 M1144.0 124.9V188.2 M1144.7 125.8V190.5 M1145.4 126.7V187.7 M1146.1 126.6V187.9 M1146.8 126.5V188.8 M1147.5 126.0V189.1 M1148.2 123.6V188.9 M1148.9 123.4V190.1 M1149.6 124.1V190.4 M1150.3 126.2V188.5 M1151.0 123.9V190.5 M1151.7 126.9V187.5 M1152.4 126.0V190.9 M1153.1 123.1V169.0 M1153.8 124.4V187.9 M1154.5 124.5V190.4 M1155.2 124.1V175.6 M1155.9 123.8V171.8 M1156.6 124.5V188.4 M1157.3 125.0V189.6 M1158.0 124.8V191.5 M1158.7 123.8V187.9 M1159.4 123.5V187.9 M1160.0 125.0V191.1 M1160.7 157.3V189.5 M1161.4 126.2V187.6 M1162.1 125.4V169.1 M1162.8 124.8V176.2 M1163.5 126.0V188.7 M1164.2 124.7V188.4 M1164.9 123.1V189.8 M1165.6 126.3V189.6 M1166.3 125.7V172.2 M1167.0 125.0V190.2 M1167.7 124.2V171.7 M1168.4 125.2V188.2 M1169.1 123.5V187.9 M1169.8 125.4V188.5 M1170.5 155.5V174.7 M1171.2 126.3V190.1 M1171.9 125.7V187.9 M1172.6 126.9V189.2 M1173.3 126.1V188.5 M1174.0 125.0V188.9 M1174.7 124.2V189.3 M1175.4 125.1V188.5 M1176.1 123.7V189.7 M1176.8 124.8V191.0 M1177.5 125.2V190.1 M1178.2 125.3V191.0 M1178.9 124.9V190.3 M1179.6 126.5V189.5 M1180.3 125.9V191.5 M1181.0 125.3V189.2 M1181.7 123.4V189.8 M1182.4 125.9V188.6 M1183.1 126.3V188.2 M1183.8 125.9V189.0 M1184.5 123.9V190.2 M1185.2 125.7V188.4 M1185.9 125.9V170.8 M1186.6 125.1V188.2 M1187.3 125.8V188.5 M1188.0 124.7V175.4 M1188.7 124.7V191.2 M1189.4 123.9V189.9 M1190.1 126.2V190.5 M1190.8 123.2V172.3 M1191.5 126.3V188.9 M1192.2 123.7V190.4 M1192.9 123.7V190.1 M1193.0 128.0V188.1 M1193.7 126.7V161.8 M1194.4 125.4V189.8 M1195.1 127.6V163.4 M1195.8 125.6V189.2 M1196.5 128.1V187.5 M1197.2 127.2V188.7 M1197.9 128.6V189.1 M1198.6 126.7V160.6 M1199.3 125.6V189.4 M1200.0 125.2V189.1 M1200.7 126.1V189.8 M1201.4 126.2V187.8 M1202.1 127.4V188.3 M1202.8 125.9V188.7 M1203.5 128.6V187.2 M1204.2 126.4V190.8 M1204.9 125.9V188.6 M1205.0 160.2V187.7 M1205.7 155.7V188.2 M1206.4 148.2V190.7 M1207.1 156.1V188.1 M1207.8 152.8V189.2 M1208.5 149.4V169.8 M1209.2 147.3V187.2 M1209.9 147.8V188.8 M1210.6 158.1V190.5 M1211.3 150.9V190.8 M1212.0 151.8V189.7 M1212.7 147.9V168.3 M1213.4 150.4V188.6 M1214.1 155.5V187.7 M1214.8 160.7V188.2 M1215.5 152.2V187.6 M1216.2 149.6V190.0 M1216.9 157.9V189.8 M1217.6 146.8V188.1 M1218.3 146.4V170.0 M1219.0 148.3V188.7 M1219.7 148.7V189.5 M1220.0 127.7V188.9 M1220.7 126.2V189.0 M1221.4 125.7V188.7 M1222.1 128.2V159.4 M1222.8 125.2V187.2 M1223.5 126.0V187.5 M1224.2 126.1V189.8 M1224.9 125.1V187.8 M1225.6 125.2V159.8 M1226.3 128.1V189.1 M1227.0 125.3V190.5 M1227.7 125.6V189.5 M1228.4 126.5V189.0 M1229.1 129.0V190.6 M1229.8 128.7V190.2 M1230.5 126.0V187.8 M1231.2 127.0V190.0 M1231.9 126.0V188.4 M1232.6 128.1V187.8 M1233.3 155.5V189.4 M1234.0 127.3V163.9 M1234.7 128.1V190.3 M1235.4 128.8V188.8 M1236.1 126.0V188.7 M1236.8 128.2V160.4 M1237.5 127.3V188.1 M1238.2 127.7V189.0 M1238.9 128.0V164.2 M1239.6 125.2V189.0 M1240.3 127.6V189.4 M1241.0 127.1V188.4 M1241.7 125.6V187.8 M1242.4 126.9V187.9 M1243.1 125.8V187.8 M1243.8 126.6V190.9 M1244.5 125.6V161.8 M1245.0 97.3V159.3 M1245.7 98.2V159.5 M1246.4 96.7V159.8 M1247.1 96.9V160.5 M1247.8 98.4V160.2 M1248.5 97.2V159.8 M1249.2 98.2V161.6 M1249.9 95.7V158.4 M1250.6 97.9V158.9 M1251.3 98.3V159.2 M1252.0 97.3V161.8 M1252.7 96.0V160.9 M1253.4 97.9V158.2 M1254.1 97.0V159.8 M1254.8 95.6V159.2 M1255.5 96.4V160.1 M1256.2 96.4V158.7 M1256.9 96.5V160.3 M1257.6 96.1V160.2 M1258.0 127.8V161.4 M1258.7 127.0V159.5 M1259.4 128.1V158.3 M1260.1 128.4V159.7 M1260.8 127.8V158.4 M1261.5 125.7V159.5 M1262.2 126.2V159.1 M1262.9 126.2V161.2 M1263.6 126.4V161.2 M1264.3 126.1V158.7 M1265.0 126.2V160.4 M1265.7 125.9V158.2 M1266.4 128.2V160.8 M1267.1 125.9V161.6 M1267.8 127.3V161.5 M1268.5 127.0V158.1 M1269.2 128.4V160.7 M1269.9 126.8V160.8 M1270.0 96.5V158.0 M1270.7 97.3V158.0 M1271.4 95.9V158.7 M1272.1 95.8V158.7 M1272.8 95.7V157.8 M1273.5 97.4V159.8 M1274.2 98.3V156.0 M1274.9 97.8V159.9 M1275.6 123.1V158.5 M1276.3 97.8V156.5 M1277.0 97.3V157.7 M1277.7 96.8V159.5 M1278.4 97.7V156.8 M1279.1 96.0V157.5 M1279.8 96.5V156.4 M1280.5 97.8V157.3 M1281.2 97.8V156.8 M1281.9 96.2V159.6 M1282.6 96.2V158.3 M1283.3 98.2V158.7 M1284.0 95.9V158.2 M1284.7 96.0V158.0 M1285.4 96.3V159.9 M1286.1 96.9V157.7 M1286.8 98.4V158.8 M1287.5 95.6V156.9 M1288.2 95.7V160.0 M1288.9 96.5V158.5 M1289.6 97.6V159.6 M1290.3 95.8V159.6 M1291.0 97.5V157.3 M1291.7 97.2V159.2 M1292.4 98.0V158.4 M1293.1 98.5V157.7 M1293.8 95.7V156.9 M1294.5 98.1V159.5 M1295.2 96.5V156.6 M1295.9 95.6V157.3 M1296.6 95.6V157.1 M1297.3 98.2V157.4 M1298.0 96.9V158.1 M1298.7 96.9V157.7 M1299.4 96.2V158.9 M1300.1 97.0V159.3 M1300.8 96.3V156.7 M1301.5 128.0V156.4 M1302.2 97.6V157.1 M1302.9 97.0V157.6 M1303.6 96.1V159.7 M1304.3 95.9V158.4 M1305.0 95.5V158.5 M1305.7 97.6V159.8 M1306.4 96.8V157.7 M1307.1 97.9V159.8 M1307.8 97.0V156.1 M1308.5 96.9V156.5 M1309.2 95.7V159.3 M1309.9 96.8V156.3 M1310.6 98.0V159.7 M1311.3 95.9V159.6 M1312.0 98.5V158.1 M1312.7 96.1V157.0 M1313.4 96.9V157.7 M1314.1 96.9V159.6 M1314.8 96.0V158.1 M1315.5 97.5V158.3 M1316.2 95.8V156.7 M1316.9 96.2V156.9 M1317.6 96.9V157.7 M1318.0 158.5V186.2 M1318.7 126.9V163.2 M1319.4 127.4V187.9 M1320.1 126.9V188.1 M1320.8 128.0V189.7 M1321.5 128.8V188.8 M1322.2 129.9V187.5 M1322.9 127.9V187.0 M1323.6 127.4V186.3 M1324.3 127.4V186.9 M1325.0 126.9V187.1 M1325.7 127.0V186.4 M1326.4 128.4V163.2 M1327.1 126.7V187.1 M1327.8 156.9V189.0 M1328.5 126.1V189.1 M1329.2 127.2V188.7 M1329.9 129.5V188.7 M1330.6 128.7V186.8 M1331.3 127.2V189.7 M1332.0 126.3V186.0 M1332.7 126.7V168.0 M1333.4 129.7V167.5 M1334.1 127.0V188.2 M1334.8 126.8V189.4 M1335.5 127.9V188.8 M1336.2 129.5V187.8 M1336.9 129.4V189.1 M1337.6 128.9V163.8 M1338.3 126.4V166.2 M1339.0 127.2V186.4 M1339.7 129.5V165.0 M1340.4 129.4V188.0 M1341.1 129.8V187.7 M1341.8 126.0V187.0 M1342.5 127.6V186.8 M1343.2 128.1V188.0 M1343.9 129.6V187.2 M1344.6 127.9V186.0 M1345.0 123.7V177.2 M1345.7 123.6V174.0 M1346.4 126.8V171.2 M1347.1 127.9V169.5 M1347.8 127.4V171.8 M1348.5 125.4V177.5 M1349.2 124.6V173.6 M1349.9 126.6V177.8 M1350.6 126.7V178.4 M1351.3 123.6V173.6 M1352.0 157.0V173.1 M1352.7 128.1V175.7 M1353.4 124.7V172.4 M1354.1 123.7V175.0 M1354.8 124.6V171.2 M1355.5 127.0V176.7 M1356.2 128.0V170.7 M1356.9 124.2V176.3 M1357.6 128.5V175.9 M1358.3 126.4V175.0 M1359.0 125.2V176.2 M1359.7 123.8V175.7 M1360.4 124.3V172.6 M1361.1 126.7V171.6 M1361.8 126.8V174.4 M1362.5 126.2V177.3 M1363.2 126.6V170.0 M1363.9 123.8V178.0 M1364.6 126.2V177.4 M1365.3 128.2V176.9 M1366.0 125.1V169.2 M1366.7 127.0V169.4 M1367.4 126.1V169.4 M1368.1 125.6V171.8 M1368.8 127.2V175.4 M1369.5 123.6V177.5 M1370.2 124.7V172.0 M1370.9 125.3V173.7 M1371.6 127.4V170.9 M1372.3 128.1V170.1 M1373.0 125.0V177.4 M1373.7 126.1V176.5 M1374.4 128.3V177.8 M1375.1 124.9V178.6 M1375.8 125.5V169.1 M1376.5 126.8V175.5 M1377.2 127.3V173.1 M1377.9 125.3V176.4 M1378.6 124.0V177.7 M1379.3 126.2V177.6 M1380.0 126.9V169.2 M1380.7 127.0V171.1 M1381.4 126.3V176.1 M1382.1 127.8V172.3 M1382.8 125.5V176.1 M1383.5 128.4V174.8 M1384.2 127.6V171.0 M1384.9 125.1V177.1 M1385.6 128.0V176.3 M1386.3 124.8V177.0 M1387.0 127.3V176.3 M1387.7 125.6V177.5 M1388.4 123.7V169.5 M1389.1 123.5V170.5 M1389.8 126.0V174.0 M1390.5 123.8V175.6 M1391.2 125.5V169.6 M1391.9 128.3V175.7 M1392.6 124.5V174.3 M1393.3 125.5V174.1 M1394.0 126.3V170.5 M1394.7 123.8V175.6 M1395.4 124.8V179.0 M1396.1 127.2V176.2 M1396.8 125.2V176.1 M1397.5 127.2V172.2 M1398.2 127.6V177.7 M1398.9 125.0V172.8 M1399.6 126.7V177.5 M1400.3 124.6V174.0 M1401.0 124.0V172.4 M1401.7 128.3V176.1 M1402.4 128.1V175.2 M1403.1 127.9V173.9 M1403.8 123.7V172.1 M1404.5 126.8V175.3 M1405.2 124.5V173.8 M1405.9 124.1V171.0 M1406.6 127.2V170.0 M1407.3 125.1V172.2 M1408.0 125.2V174.1 M1408.7 124.7V169.7 M1409.4 124.0V175.5 M1410.1 123.5V174.0 M1410.8 123.8V176.6 M1411.5 124.1V175.7 M1412.2 125.2V176.4 M1412.9 125.8V170.4 M1413.6 127.1V170.1 M1414.3 126.5V171.7 M1415.0 128.3V178.4 M1415.7 126.4V174.0 M1416.4 125.0V172.0 M1417.1 127.7V176.8 M1417.8 126.6V175.8 M1418.5 126.6V178.8 M1419.2 124.6V175.7 M1419.9 124.2V171.4 M1420.6 127.5V174.3 M1421.3 125.8V171.7 M1422.0 126.0V169.4 M1422.7 128.5V177.4 M1423.4 128.0V178.4 M1424.1 124.8V176.2 M1424.8 128.4V173.5 M1425.5 124.5V173.5 M1426.2 124.5V170.7 M1426.9 126.1V170.8 M1427.6 124.4V173.9 M1428.3 125.0V169.5 M1429.0 127.4V176.8 M1429.7 127.3V169.3 M1430.4 125.9V172.9 M1431.1 125.4V175.5 M1431.8 127.2V172.5 M1432.5 125.7V175.6 M1433.2 127.1V172.7 M1433.9 124.6V177.2 M1434.6 126.4V171.3 M1435.3 159.2V171.7 M1436.0 127.7V177.5 M1436.7 124.7V174.1 M1437.4 124.0V178.6 M1438.1 127.5V173.7 M1438.8 127.1V174.7 M1439.5 127.2V175.0 M1440.2 127.0V178.6 M1440.9 128.2V175.8 M1441.6 127.9V176.6 M1442.3 124.4V170.1 M1443.0 126.7V177.3 M1443.7 128.4V169.5 M1444.4 125.5V169.1 M1445.1 124.0V169.8 M1445.8 125.1V173.6 M1446.5 127.7V173.9 M1447.2 125.9V173.8 M1447.9 125.1V177.0 M1448.6 125.1V173.5 M1449.3 126.9V169.7 M1450.0 127.2V178.5 M1450.7 127.1V177.2 M1451.4 125.1V175.2 M1452.1 128.2V175.3 M1452.8 123.9V177.6 M1453.5 124.2V172.6 M1454.2 127.9V178.5 M1454.9 125.2V173.8 M1455.6 124.8V171.6 M1456.3 126.8V172.9 M1457.0 124.5V178.7 M1457.7 156.6V176.5 M1458.4 125.5V178.3 M1459.1 123.7V171.5 M1459.8 126.6V176.9 M1460.5 123.8V171.5 M1461.2 127.4V170.8 M1461.9 123.7V171.3 M1462.6 125.8V169.9 M1463.3 127.3V177.9 M1464.0 124.4V170.6 M1464.7 123.8V170.3 M1465.4 128.5V171.2 M1466.1 127.6V172.8 M1466.8 126.0V174.6 M1467.5 128.4V174.2 M1468.2 127.9V175.4 M1468.9 124.6V171.5 M1469.6 124.7V172.3 M1470.3 124.8V173.2 M1471.0 125.2V178.9 M1471.7 123.9V178.4 M1472.4 125.9V171.2 M1473.1 125.6V172.3 M1473.8 124.8V169.9 M1474.5 126.4V170.9 M1475.2 125.8V172.5 M1475.9 123.9V172.2 M1476.6 127.0V170.4 M1477.3 126.2V176.0 M1478.0 124.1V170.4 M1478.7 126.6V177.9 M1479.4 124.2V177.9 M1480.1 124.2V169.1 M1480.8 125.6V176.1 M1481.5 126.8V179.0 M1482.2 124.9V173.4 M1482.9 127.0V173.2 M1483.6 125.9V178.9 M1484.3 127.8V177.3 M1485.0 126.4V177.9 M1485.7 125.6V171.6 M1486.4 124.1V177.7 M1487.1 123.6V171.8 M1487.8 128.1V178.5 M1488.5 126.9V173.7 M1489.2 128.2V169.8 M1489.9 126.3V169.8 M1490.6 124.1V175.6 M1491.3 123.9V172.5 M1492.0 127.0V172.8 M1492.7 124.9V176.9 M1493.4 127.8V170.3 M1494.1 126.9V174.2 M1494.8 126.6V172.9 M1495.5 158.9V176.7" stroke="#ff0000" stroke-width="1.1" fill="none"/><path d="M138.9 148.3V163.7 M140.9 152.1V168.3 M141.7 97.7V105.9 M141.6 147.1V175.4 M146.1 152.2V174.6 M147.9 155.2V164.6 M149.9 151.7V175.1 M159.1 152.0V174.9 M169.8 160.1V174.3 M173.9 99.0V103.2 M181.4 162.1V172.0 M186.0 165.4V182.2 M193.6 98.8V103.5 M196.3 166.4V174.4 M197.2 168.6V184.6 M198.9 162.6V185.0 M205.5 170.1V176.1 M216.3 173.0V182.9 M218.5 172.2V183.9 M224.0 170.6V182.6 M232.6 176.1V190.3 M233.8 174.7V186.9 M236.3 174.2V187.1 M239.4 175.9V186.7 M240.8 175.9V187.0 M241.5 176.0V182.3 M243.8 181.6V187.1 M253.9 180.5V187.4 M261.6 180.2V189.4 M262.4 181.4V190.2 M274.5 183.6V188.8 M280.4 184.5V190.9 M1209.3 108.3V148.3 M1214.1 113.0V156.5 M1253.3 157.2V188.5 M1258.0 160.4V181.5 M1258.6 158.5V189.7 M1260.2 158.7V180.8 M1271.5 157.7V187.8 M1272.2 157.7V185.7 M1274.8 158.9V178.2 M1281.3 155.8V181.3 M1282.7 157.3V183.3 M1286.3 156.7V179.2 M1288.4 159.0V179.8 M1294.6 158.5V182.1 M1298.1 157.1V186.9 M1300.2 158.3V178.7 M1300.7 155.7V178.3 M1303.0 156.6V186.7 M1303.6 158.7V189.8 M1305.0 157.5V186.8 M1305.8 158.8V188.6 M1309.9 155.3V182.6 M1310.7 158.7V182.1 M1335.4 106.1V128.9" stroke="#ff0000" stroke-width="0.6" fill="none"/><path d="M133.9 152.5V164.5 M137.5 150.4V168.8 M143.0 152.7V169.7 M143.6 153.0V174.2 M145.0 96.8V104.1 M147.4 154.9V170.8 M148.9 155.7V171.0 M149.3 97.8V105.8 M149.3 149.2V177.6 M150.9 153.9V177.8 M153.0 155.6V176.5 M153.4 150.2V165.6 M157.0 155.3V175.1 M158.4 151.3V169.7 M162.1 96.5V105.4 M163.4 159.7V177.1 M164.0 154.8V171.8 M165.6 157.3V172.5 M166.0 159.0V172.2 M167.8 160.6V179.1 M169.9 99.6V127.8 M171.1 156.8V168.8 M171.8 97.1V103.2 M172.4 98.5V128.8 M172.6 157.8V171.8 M174.0 159.7V175.3 M175.1 155.6V171.6 M177.9 157.6V183.2 M180.1 163.9V183.3 M181.0 159.3V173.1 M182.5 160.4V177.1 M182.9 164.0V178.7 M183.7 159.4V175.5 M186.3 163.8V185.5 M189.8 162.4V174.5 M190.6 166.5V174.4 M192.2 164.4V185.1 M192.7 164.6V185.9 M195.4 160.9V182.5 M196.3 98.5V103.3 M198.3 163.1V177.2 M200.5 169.6V188.2 M201.1 162.5V181.7 M202.5 167.4V179.7 M206.1 168.3V184.5 M206.8 178.9V185.3 M211.8 178.2V192.3 M212.1 168.2V180.5 M214.2 172.5V181.3 M215.5 171.7V187.0 M217.0 170.9V183.5 M219.2 171.9V181.7 M220.4 172.5V181.3 M222.4 173.7V181.5 M224.7 173.4V182.3 M225.4 171.8V184.2 M225.9 170.5V189.3 M226.8 170.3V181.6 M227.5 168.6V186.4 M229.8 176.3V188.4 M230.9 177.7V183.9 M231.7 177.3V191.0 M235.8 173.0V187.6 M238.7 173.5V189.9 M243.7 174.5V186.8 M244.7 183.8V189.3 M251.1 180.7V188.8 M251.8 181.6V190.3 M254.4 182.4V189.4 M255.7 180.7V188.9 M257.4 181.9V190.8 M262.8 184.1V189.5 M263.5 184.3V190.9 M265.1 180.2V188.1 M265.8 180.8V189.1 M266.3 183.7V188.0 M266.9 180.9V190.9 M267.8 181.7V187.2 M275.3 182.3V187.5 M282.9 156.0V188.6 M283.7 186.4V188.5 M958.6 108.1V122.6 M968.5 124.5V151.2 M975.3 127.9V151.2 M982.9 137.4V153.1 M1052.9 102.1V126.4 M1057.8 100.8V128.9 M1060.2 96.5V127.0 M1062.8 103.4V128.5 M1066.3 104.9V126.0 M1075.4 102.2V127.8 M1094.4 101.7V130.0 M1118.3 102.2V126.4 M1145.5 98.0V127.7 M1151.6 104.0V127.9 M1159.3 100.5V124.5 M1164.2 104.0V125.7 M1179.6 98.7V127.5 M1182.4 102.7V126.9 M1183.0 102.7V127.3 M1186.6 101.6V126.1 M1188.7 102.0V125.7 M1197.9 100.3V129.6 M1207.0 116.7V157.1 M1216.9 110.9V158.9 M1221.4 100.8V126.7 M1221.9 101.0V129.2 M1232.0 98.4V127.0 M1249.1 160.6V186.2 M1250.5 157.9V180.7 M1255.5 159.1V189.8 M1256.3 157.7V181.5 M1259.5 157.3V185.1 M1260.2 98.1V129.4 M1260.8 103.4V128.8 M1262.1 158.1V186.8 M1263.1 160.2V179.9 M1263.7 160.2V179.7 M1265.5 157.2V180.2 M1267.9 160.5V182.5 M1269.1 159.7V182.1 M1270.0 159.8V184.1 M1270.1 157.0V184.0 M1270.8 157.0V182.3 M1273.6 158.8V181.2 M1275.6 157.5V180.5 M1276.3 155.5V188.7 M1277.2 156.7V183.4 M1277.8 158.5V184.1 M1278.3 155.8V184.0 M1283.1 157.7V180.9 M1284.6 157.0V185.2 M1285.5 158.9V187.5 M1289.0 157.5V186.7 M1291.5 158.2V187.1 M1292.4 157.4V179.3 M1295.2 155.6V180.7 M1295.9 156.3V189.8 M1296.5 156.1V184.4 M1298.6 156.7V181.7 M1299.5 157.9V178.0 M1301.4 155.4V181.5 M1302.2 156.1V188.4 M1304.3 157.4V185.7 M1307.9 155.1V179.6 M1311.4 158.6V182.3 M1312.8 156.0V180.9 M1313.3 156.7V180.5 M1313.9 158.6V181.9 M1315.6 157.3V182.3 M1322.8 101.7V128.9 M1346.2 105.3V127.8 M1346.5 170.2V188.3 M1349.3 101.9V125.6 M1351.3 102.4V124.6 M1351.9 172.1V190.1 M1359.0 102.3V126.2 M1359.5 101.2V124.8 M1360.4 171.6V191.1 M1361.8 173.4V184.9 M1363.9 177.0V184.3 M1365.9 96.3V126.1 M1373.0 104.1V126.0 M1376.5 174.5V186.1 M1377.2 172.1V185.2 M1379.2 176.6V186.9 M1380.6 170.1V184.8 M1381.4 175.1V184.9 M1382.7 99.4V126.5 M1382.9 175.1V187.1 M1388.5 168.5V190.0 M1390.6 102.9V124.8 M1392.6 173.3V189.7 M1395.9 175.2V184.6 M1396.8 105.1V126.2 M1397.6 171.2V185.2 M1398.1 176.7V189.8 M1401.7 175.1V188.3 M1406.1 97.6V125.1 M1405.9 170.0V189.0 M1408.9 102.8V125.7 M1415.6 173.0V187.1 M1417.0 175.8V189.2 M1419.2 174.7V191.3 M1421.4 170.7V187.4 M1422.0 168.4V187.0 M1422.7 176.4V188.8 M1424.2 175.2V191.2 M1430.2 105.0V126.9 M1432.5 102.5V126.7 M1435.8 97.4V128.7 M1436.9 173.1V184.2 M1440.2 99.2V128.0 M1443.8 168.5V186.5 M1445.9 101.4V126.1 M1446.7 172.9V190.3 M1448.7 99.1V126.1 M1448.6 172.5V191.8 M1449.4 100.2V127.9 M1453.7 104.6V125.2 M1457.1 96.3V125.5 M1459.3 170.5V186.8 M1459.7 101.1V127.6 M1459.8 175.9V186.6 M1460.6 102.7V124.8 M1464.7 97.9V124.8 M1466.3 105.2V128.6 M1467.7 173.2V186.9 M1469.5 101.4V125.7 M1474.4 169.9V184.4 M1475.0 171.5V187.1 M1477.2 99.4V127.2 M1478.0 98.1V125.1 M1478.6 103.0V127.6 M1480.0 168.1V186.6 M1487.2 170.8V184.3 M1487.7 177.5V191.6 M1488.6 172.7V187.2 M1494.9 99.3V127.6" stroke="#ff0000" stroke-width="0.9" fill="none"/><path d="M134.9 99.7V106.1 M136.2 151.7V162.3 M140.1 151.7V172.7 M154.1 150.1V174.3 M159.9 96.0V105.8 M159.9 153.3V176.4 M162.2 154.9V168.7 M164.6 99.2V104.6 M164.7 154.6V173.5 M168.5 159.3V173.3 M169.1 155.7V181.2 M170.3 158.3V168.4 M171.7 156.0V169.0 M175.9 158.9V180.2 M176.7 161.3V179.9 M184.5 159.5V177.7 M187.2 164.9V172.1 M188.0 159.3V174.1 M189.5 159.0V177.7 M191.6 160.2V174.3 M193.5 161.9V177.4 M194.2 165.1V182.3 M195.0 160.3V184.6 M201.7 168.0V179.7 M204.9 164.8V181.4 M206.8 163.7V183.1 M211.3 179.1V191.8 M215.0 170.0V187.6 M217.7 169.0V189.4 M219.7 168.8V185.8 M223.0 170.6V183.9 M228.8 173.9V180.1 M229.2 177.3V191.5 M230.3 177.3V187.5 M234.5 177.4V186.2 M235.3 172.7V185.9 M237.0 177.6V189.2 M237.8 174.0V188.2 M240.1 175.3V182.4 M242.0 176.9V185.4 M250.4 183.5V187.6 M252.4 183.8V187.3 M258.1 179.7V189.2 M260.7 184.2V190.7 M268.3 180.2V187.3 M268.8 183.1V188.2 M284.4 185.3V187.9 M1054.9 98.2V129.5 M1057.1 98.4V126.8 M1073.2 105.2V125.8 M1074.2 103.6V129.3 M1074.8 101.9V125.6 M1079.8 98.2V127.3 M1081.6 105.9V156.2 M1083.2 103.4V128.3 M1085.0 100.0V128.1 M1085.9 101.0V126.1 M1088.8 103.7V126.0 M1089.3 99.7V127.5 M1098.0 104.5V126.9 M1104.2 104.5V127.0 M1137.7 101.6V126.1 M1159.8 98.6V126.0 M1169.0 101.7V124.5 M1175.4 103.4V126.1 M1178.2 101.7V126.3 M1187.2 102.9V126.8 M1190.2 97.1V127.2 M1193.0 101.1V124.7 M1194.6 103.2V126.4 M1195.3 103.2V128.6 M1198.8 101.4V127.7 M1212.7 111.9V148.9 M1224.9 98.9V126.1 M1236.8 100.5V129.2 M1243.1 99.9V126.8 M1245.0 158.3V185.6 M1245.7 158.5V186.7 M1246.4 158.8V186.0 M1247.6 159.2V182.1 M1254.2 158.8V180.9 M1254.9 158.2V188.6 M1267.2 97.9V126.9 M1267.0 160.6V188.9 M1268.6 157.1V179.6 M1280.7 156.3V186.6 M1287.4 155.9V185.0 M1292.9 156.7V188.8 M1297.3 156.4V189.7 M1306.4 156.7V181.6 M1307.1 158.8V186.1 M1314.8 157.1V179.1 M1332.0 113.7V127.3 M1340.3 103.9V130.4 M1344.6 102.4V128.9 M1344.9 97.3V124.7 M1352.9 99.3V129.1 M1353.6 105.7V125.7 M1355.4 105.4V128.0 M1355.5 175.7V188.1 M1362.4 102.7V127.2 M1364.7 176.4V189.6 M1365.2 175.9V187.6 M1366.8 105.4V128.0 M1366.8 168.4V185.3 M1370.3 103.3V125.7 M1370.9 172.7V191.7 M1371.6 169.9V186.4 M1372.3 99.0V129.1 M1376.5 104.9V127.8 M1377.7 175.4V188.1 M1380.1 168.2V190.2 M1383.4 173.8V185.5 M1384.3 104.4V128.6 M1384.8 176.1V188.3 M1385.6 100.7V129.0 M1387.0 96.6V128.3 M1389.0 96.4V124.5 M1389.3 169.5V191.4 M1391.9 174.7V186.5 M1393.2 96.8V126.5 M1393.8 169.5V187.7 M1394.7 174.6V191.9 M1395.4 104.8V125.8 M1398.9 171.8V184.2 M1399.5 100.3V127.7 M1401.6 100.7V129.3 M1403.1 100.0V128.9 M1405.0 100.5V125.5 M1406.5 105.4V128.2 M1407.3 171.2V190.2 M1412.3 175.4V185.3 M1415.6 105.3V127.4 M1417.6 101.9V127.6 M1417.8 174.8V187.1 M1420.0 98.6V125.2 M1420.7 173.3V189.2 M1424.9 172.5V191.2 M1426.1 169.7V185.3 M1427.0 96.3V127.1 M1427.5 96.5V125.4 M1429.0 175.8V191.8 M1431.2 174.5V185.6 M1431.8 102.9V128.2 M1434.5 170.3V190.5 M1435.4 99.0V160.2 M1436.1 176.5V191.5 M1438.7 173.7V186.4 M1439.3 98.4V128.2 M1439.6 174.0V190.5 M1440.2 177.6V190.6 M1445.0 168.8V187.9 M1445.6 172.6V186.3 M1446.3 96.6V128.7 M1453.4 171.6V187.4 M1456.5 99.9V127.8 M1457.6 103.0V157.6 M1458.3 177.3V184.5 M1461.3 169.8V190.7 M1462.8 98.1V126.8 M1465.5 170.2V191.8 M1466.9 99.9V127.0 M1468.9 170.5V190.6 M1471.0 101.4V126.2 M1472.2 170.2V188.1 M1473.1 171.3V184.9 M1474.0 168.9V186.0 M1474.7 103.8V127.4 M1475.8 171.2V189.5 M1479.5 105.0V125.2 M1483.8 97.5V126.9 M1488.5 100.0V127.9 M1489.3 168.8V189.8 M1490.8 97.8V125.1 M1490.5 174.6V190.6 M1491.9 171.8V185.4 M1495.3 175.7V191.1" stroke="#ff0000" stroke-width="1.2" fill="none"/><path d="M1053.6 103.6V127.1 M1055.7 103.0V128.7 M1064.2 96.6V128.2 M1065.0 96.6V126.5 M1065.6 99.8V129.7 M1071.2 98.9V127.3 M1076.0 100.4V127.4 M1076.8 98.3V155.6 M1079.0 96.0V128.6 M1080.2 97.0V127.9 M1082.5 96.9V127.3 M1093.6 101.3V129.0 M1162.8 98.6V125.8 M1166.9 101.6V126.0 M1171.3 96.5V127.3 M1172.1 102.3V126.7 M1173.2 102.6V127.1 M1176.0 99.5V124.7 M1177.5 102.6V126.2 M1185.3 101.5V126.7 M1193.7 103.9V127.7 M1202.2 96.5V128.4 M1226.4 98.3V129.1 M1235.2 101.9V129.8 M1244.4 102.0V126.6 M1347.3 168.5V188.8 M1349.8 176.8V189.5 M1350.8 177.4V186.0 M1351.9 96.9V158.0 M1355.0 170.2V188.4 M1356.2 97.9V129.0 M1358.3 174.0V186.6 M1359.5 174.7V186.6 M1361.1 102.5V127.7 M1363.1 101.3V127.6 M1365.3 102.0V129.2 M1365.8 168.2V189.5 M1369.5 176.5V189.7 M1373.8 101.6V127.1 M1375.0 99.7V125.9 M1378.4 100.4V125.0 M1379.4 102.1V127.2 M1384.7 105.5V126.1 M1386.4 176.0V186.9 M1387.7 176.5V186.5 M1390.6 174.6V184.4 M1391.1 168.6V188.1 M1393.1 173.1V190.8 M1396.9 175.1V186.1 M1399.6 176.5V186.2 M1402.5 101.4V129.1 M1402.4 174.2V185.6 M1403.6 171.1V191.6 M1404.4 174.3V186.0 M1405.0 172.8V188.7 M1407.9 103.5V126.2 M1410.0 105.5V124.5 M1410.0 173.0V189.1 M1410.9 175.6V184.2 M1411.3 104.2V125.1 M1413.1 169.4V188.5 M1413.5 169.1V188.0 M1414.3 96.1V127.5 M1416.4 171.0V191.1 M1420.0 170.4V184.5 M1425.4 100.8V125.5 M1426.1 104.1V125.5 M1428.8 103.2V128.4 M1430.4 171.9V190.0 M1432.6 174.6V185.8 M1437.5 96.3V125.0 M1438.2 100.0V128.5 M1441.0 99.7V129.2 M1444.4 168.1V186.3 M1445.0 98.7V125.0 M1447.3 101.4V126.9 M1447.9 105.1V126.1 M1451.3 174.2V185.2 M1452.8 97.8V124.9 M1454.9 172.8V189.6 M1456.3 171.9V185.2 M1457.1 177.7V186.2 M1457.6 175.5V185.2 M1460.7 170.5V186.2 M1461.8 170.3V186.7 M1462.6 168.9V190.2 M1463.9 169.6V187.7 M1467.6 96.5V129.4 M1468.2 174.4V185.3 M1470.3 104.9V125.8 M1471.7 177.4V188.9 M1477.2 175.0V188.1 M1480.8 102.4V126.6 M1481.4 100.0V127.8 M1482.2 103.8V125.9 M1482.8 98.1V128.0 M1483.7 177.9V185.0 M1487.9 97.5V129.1 M1493.3 99.6V128.8 M1494.0 173.2V189.3 M1495.6 98.3V159.9" stroke="#ff0000" stroke-width="1.5" fill="none"/><path d="M352.0 180.6V186.0 M500.7 157.2V186.0 M510.0 158.7V186.0 M514.3 157.4V186.0 M572.3 159.5V186.0 M618.3 159.7V186.0 M633.0 160.0V186.0 M638.3 157.5V186.0 M654.0 162.7V186.0 M663.0 157.7V186.0 M669.0 155.8V186.0 M697.3 156.3V186.0 M708.3 157.3V186.0 M719.0 158.6V186.0 M725.0 158.9V186.0 M727.3 154.4V186.0 M730.0 160.7V186.0 M746.7 161.2V186.0 M749.3 160.6V186.0 M804.2 157.3V186.0 M807.7 156.0V186.0 M809.4 155.4V186.0 M810.2 159.6V186.0 M811.1 155.8V186.0 M817.0 160.3V186.0 M833.3 160.5V186.0 M848.0 160.4V186.0 M859.3 114.3V186.0 M588.5 190.0V206.0" stroke="#ff0000" stroke-width="1.0" fill="none"/><path d="M296.0 175.3V186.0 M434.0 176.6V186.0 M476.0 158.5V186.0 M504.0 159.0V186.0 M508.3 157.1V186.0 M512.3 157.3V186.0 M520.0 158.7V186.0 M566.7 157.9V186.0 M561.0 169.8V186.0 M597.5 154.7V186.0 M599.2 153.6V186.0 M600.0 156.1V186.0 M600.8 154.4V186.0 M601.7 153.9V186.0 M602.5 153.9V186.0 M603.3 154.4V186.0 M636.0 161.4V186.0 M642.0 158.6V186.0 M668.0 156.3V186.0 M670.0 155.2V186.0 M672.0 160.4V186.0 M677.0 156.0V186.0 M678.3 158.6V186.0 M682.3 158.2V186.0 M693.0 161.0V186.0 M701.7 161.8V186.0 M705.0 154.9V186.0 M710.0 160.1V186.0 M732.7 161.6V186.0 M751.7 160.5V186.0 M754.0 159.7V186.0 M756.7 162.0V186.0 M760.0 162.7V186.0 M779.0 163.7V186.0 M803.3 135.1V186.0 M801.7 161.0V186.0 M803.4 156.7V186.0 M806.0 155.1V186.0 M808.5 155.7V186.0 M811.9 156.5V186.0 M812.8 157.3V186.0 M813.6 160.2V186.0 M814.5 155.5V186.0 M816.2 158.3V186.0 M819.6 156.7V186.0 M820.4 157.5V186.0 M821.2 157.2V186.0 M823.0 160.7V186.0 M823.8 155.9V186.0 M824.7 156.1V186.0 M826.4 156.4V186.0 M830.0 158.0V186.0 M838.3 160.2V186.0 M850.0 162.7V186.0 M854.0 160.1V186.0 M856.5 160.7V186.0 M858.0 161.1V186.0 M861.0 157.3V186.0 M871.7 128.4V186.0 M879.0 169.2V186.0 M883.0 167.6V186.0" stroke="#ff0000" stroke-width="1.2" fill="none"/><path d="M470.0 157.3V186.0 M471.7 159.1V186.0 M530.7 160.3V186.0 M562.7 157.5V186.0 M596.7 155.2V186.0 M598.3 156.4V186.0 M612.7 156.3V186.0 M623.3 132.1V186.0 M625.0 160.6V186.0 M640.0 157.5V186.0 M667.0 155.3V186.0 M674.5 159.6V186.0 M694.7 159.8V186.0 M735.0 159.7V186.0 M736.5 162.8V186.0 M738.0 157.1V186.0 M768.0 156.9V186.0 M781.7 161.2V186.0 M799.0 173.8V186.0 M802.6 159.9V186.0 M805.1 159.0V186.0 M806.8 157.8V186.0 M815.3 157.7V186.0 M817.9 159.9V186.0 M818.7 160.2V186.0 M822.1 160.3V186.0 M825.5 156.4V186.0 M827.2 157.9V186.0 M828.1 158.5V186.0 M818.3 149.1V186.0 M852.0 161.1V186.0 M863.0 162.4V186.0" stroke="#ff0000" stroke-width="1.4" fill="none"/><path d="M134.0 243.9V304.6 M134.7 243.7V304.6 M135.4 246.8V304.2 M136.1 244.2V305.4 M136.8 241.5V305.6 M137.5 245.4V304.1 M138.2 243.7V305.5 M138.9 243.2V305.7 M139.6 245.3V305.5 M140.3 261.5V304.2 M141.0 243.7V304.1 M141.7 245.8V304.6 M142.4 257.6V305.2 M143.1 256.9V304.1 M143.8 244.5V305.7 M144.5 259.8V305.7 M145.2 247.0V304.2 M145.9 244.9V304.7 M146.6 245.4V304.2 M147.3 242.7V305.3 M148.0 245.8V304.8 M148.7 243.4V304.8 M149.4 259.7V305.1 M150.1 243.6V305.3 M150.8 244.7V304.9 M151.5 245.2V305.6 M152.2 246.3V305.0 M152.9 242.5V304.2 M153.6 241.8V305.1 M154.3 245.5V305.4 M155.0 242.1V304.2 M155.7 246.4V304.0 M156.4 242.7V304.7 M157.1 243.1V305.1 M157.8 241.3V304.4 M158.5 244.5V304.8 M159.2 244.9V304.5 M159.9 243.4V305.6 M160.6 245.4V304.6 M161.3 243.3V305.4 M162.0 258.8V305.7 M162.7 244.0V305.3 M163.4 257.2V304.6 M164.1 245.0V304.3 M164.8 244.6V304.8 M165.5 243.4V305.9 M166.2 256.4V304.6 M166.9 259.1V305.9 M167.6 241.7V304.5 M168.3 246.4V304.8 M169.0 244.1V304.5 M169.7 242.0V304.5 M170.4 242.3V304.6 M171.1 257.0V304.4 M171.8 257.9V304.4 M172.5 244.3V304.7 M173.2 243.0V305.9 M173.9 243.0V304.6 M174.6 241.5V304.2 M175.3 256.9V305.3 M176.0 243.4V304.6 M176.7 242.5V304.4 M177.4 243.7V304.0 M178.1 246.2V304.1 M178.8 245.8V304.9 M179.5 259.3V297.0 M180.2 242.3V304.3 M180.9 242.7V304.7 M181.6 260.1V306.0 M182.3 246.0V304.5 M183.0 243.0V305.5 M183.7 261.1V305.4 M184.4 258.2V304.9 M185.1 259.4V292.8 M185.8 244.0V305.9 M186.5 244.4V304.4 M187.2 245.8V304.3 M187.9 243.3V305.0 M188.6 242.3V305.6 M189.3 245.3V304.5 M190.0 244.8V304.1 M190.7 243.1V304.3 M191.4 241.4V293.8 M192.1 241.4V304.0 M192.8 261.0V305.0 M193.5 241.4V304.3 M194.2 244.1V305.3 M194.9 257.8V304.3 M195.6 246.5V304.8 M196.3 260.1V304.7 M197.0 242.1V305.2 M197.7 241.0V304.7 M198.4 242.3V304.8 M199.1 242.1V305.1 M199.8 260.2V304.1 M200.5 246.1V305.3 M201.2 244.9V305.9 M201.9 242.4V305.2 M202.6 244.0V304.8 M203.3 258.2V304.3 M204.0 258.6V305.0 M204.7 241.1V305.0 M205.4 244.3V305.5 M206.1 243.3V304.4 M206.8 243.2V305.1 M207.5 247.0V304.2 M208.2 256.9V305.3 M208.9 246.7V304.6 M209.6 242.6V304.3 M210.3 246.2V305.4 M211.0 246.2V305.9 M211.7 261.5V305.8 M212.4 246.5V305.7 M213.1 242.4V304.0 M213.8 246.1V305.5 M214.5 246.3V304.6 M215.2 241.4V304.3 M215.9 241.2V305.9 M216.6 260.8V305.4 M217.3 245.4V305.5 M218.0 242.3V305.5 M218.7 245.3V304.7 M219.4 246.1V304.2 M220.1 244.2V305.1 M220.8 245.4V305.0 M221.5 261.1V305.9 M222.2 246.1V305.7 M222.9 245.0V305.1 M223.6 242.2V304.2 M224.3 244.3V304.1 M225.0 243.4V304.5 M225.7 244.8V305.5 M226.4 244.0V305.3 M227.1 242.0V304.5 M227.8 245.9V304.5 M228.5 245.9V305.5 M229.2 242.3V299.6 M229.9 242.8V304.2 M230.0 265.0V305.6 M230.7 260.1V304.2 M231.4 265.6V304.8 M232.1 258.1V305.9 M232.8 265.3V304.1 M233.5 264.3V305.5 M234.2 259.9V293.1 M234.9 265.8V305.8 M235.6 261.6V305.6 M236.3 276.0V305.3 M237.0 263.0V304.7 M237.7 264.7V305.8 M238.4 262.0V305.9 M239.1 258.3V305.6 M239.8 260.7V305.0 M240.5 276.3V305.8 M241.2 260.0V304.3 M241.9 258.5V305.0 M242.6 260.5V305.6 M243.3 262.4V305.9 M244.0 258.8V305.2 M244.7 262.7V305.7 M245.4 262.0V305.3 M246.1 263.0V304.2 M246.8 261.1V304.9 M247.5 277.1V304.7 M248.2 264.9V304.1 M248.9 264.6V306.0 M249.6 276.2V304.4 M250.3 264.4V304.9 M251.0 262.0V304.9 M251.7 258.9V305.4 M252.4 264.4V304.8 M253.1 261.8V305.0 M253.8 260.6V305.6 M254.5 259.5V305.9 M255.2 263.7V305.3 M255.9 259.9V304.3 M256.6 258.3V304.6 M257.3 262.3V305.1 M258.0 263.7V305.1 M258.7 262.6V304.5 M259.4 259.8V305.4 M260.1 273.6V304.9 M260.8 260.1V304.9 M261.5 263.9V304.3 M262.2 264.0V305.6 M262.9 261.1V304.7 M263.6 264.4V305.4 M264.3 277.3V305.0 M265.0 278.1V304.9 M265.7 264.8V304.9 M266.4 261.7V304.6 M267.1 276.9V304.8 M267.8 259.8V305.3 M268.5 262.8V304.9 M269.2 265.7V306.0 M269.9 260.8V305.1 M270.6 263.5V304.8 M271.3 260.2V305.6 M272.0 263.3V304.8 M272.7 258.7V305.0 M273.4 262.7V304.1 M274.1 261.6V304.5 M274.8 258.7V304.3 M275.5 260.1V304.3 M276.2 259.4V305.6 M276.9 261.9V298.1 M277.6 263.5V305.3 M278.3 259.8V305.0 M279.0 275.4V304.1 M279.7 264.4V304.3 M280.4 259.1V305.2 M281.1 262.9V304.3 M281.8 276.1V305.3 M282.5 265.1V305.9 M283.2 264.7V305.4 M283.9 277.2V305.4 M284.6 263.5V305.4 M285.3 258.8V305.5 M286.0 259.7V304.5 M286.7 263.7V304.7 M287.4 259.2V304.8 M288.0 212.1V305.4 M288.7 211.8V304.8 M289.4 212.2V304.7 M290.1 213.7V305.3 M290.8 215.0V304.3 M291.5 214.8V305.0 M292.2 213.5V305.7 M292.9 214.5V305.7 M293.6 211.8V305.2 M294.3 212.7V305.2 M295.0 212.9V305.5 M295.0 300.9V305.7 M295.7 300.3V305.5 M296.4 300.0V306.9 M297.1 300.7V306.8 M297.8 299.8V306.8 M298.5 301.0V306.7 M299.2 300.9V306.6 M299.9 300.3V306.5 M300.6 300.0V305.8 M301.3 299.6V307.0 M302.0 301.0V305.6 M302.7 300.5V305.5 M303.4 299.6V305.3 M304.1 300.1V306.6 M304.8 300.8V305.5 M305.5 301.1V306.4 M306.2 300.1V305.9 M306.9 300.9V306.2 M307.6 299.5V305.9 M308.3 300.5V306.8 M309.0 300.1V306.3 M309.7 299.8V306.0 M310.4 301.1V305.3 M311.1 300.7V306.2 M311.8 300.0V307.0 M312.5 300.8V306.0 M313.2 300.0V305.8 M313.9 300.8V306.7 M314.6 300.5V306.7 M315.3 300.7V305.6 M316.0 300.1V307.0 M316.7 299.5V306.6 M317.4 301.2V306.8 M318.1 300.9V307.0 M318.8 299.4V306.5 M319.5 299.7V306.3 M320.2 299.5V305.9 M320.9 300.5V306.2 M321.6 300.3V306.0 M322.3 299.3V306.2 M323.0 299.6V306.5 M323.7 300.0V305.4 M324.4 299.6V305.9 M325.1 300.3V306.7 M325.8 300.6V306.0 M326.5 299.5V306.0 M327.2 299.2V307.0 M327.9 300.7V305.3 M328.6 299.7V305.4 M329.3 300.2V305.8 M330.0 299.5V306.1 M330.7 300.7V305.9 M331.4 299.6V306.2 M332.1 299.5V305.5 M332.8 299.9V306.2 M333.5 300.6V306.4 M334.2 300.8V305.8 M334.9 299.2V306.1 M335.6 300.3V306.7 M336.3 299.3V305.8 M337.0 300.4V305.7 M337.7 301.1V306.2 M338.4 301.1V306.7 M339.1 299.4V306.1 M339.8 300.9V306.8 M340.5 299.6V305.4 M341.2 300.3V305.3 M341.9 300.1V306.2 M342.6 301.1V305.9 M343.3 299.3V305.8 M344.0 300.6V306.9 M344.7 301.0V306.5 M345.4 301.1V305.7 M346.1 300.1V306.8 M346.8 299.9V305.6 M347.5 301.0V306.2 M348.2 299.7V306.6 M348.9 299.4V306.2 M349.6 300.1V306.5 M350.3 300.7V306.7 M351.0 300.4V305.9 M351.7 300.7V306.4 M352.4 299.7V306.4 M353.1 299.6V305.8 M353.8 301.1V306.9 M354.5 300.0V305.6 M355.2 300.1V306.5 M355.9 300.3V306.9 M356.6 300.9V306.7 M357.3 300.5V306.5 M358.0 299.5V305.4 M358.7 299.6V306.2 M359.4 300.8V305.6 M360.1 299.8V306.5 M360.8 300.4V305.8 M361.5 299.8V305.9 M362.2 300.0V306.0 M362.9 301.1V306.0 M363.6 300.5V305.5 M364.3 300.7V306.8 M365.0 300.4V306.8 M365.7 299.3V306.2 M366.4 301.2V306.9 M367.1 300.9V305.8 M367.8 300.4V305.4 M368.5 300.2V307.0 M369.2 299.9V306.0 M369.9 300.0V306.7 M370.6 300.5V306.2 M371.3 300.2V305.7 M372.0 300.2V306.5 M372.7 299.9V306.1 M373.4 301.1V306.0 M374.1 300.5V307.0 M374.8 299.7V305.6 M375.5 301.0V306.5 M376.2 300.9V306.8 M376.9 299.7V305.4 M377.6 300.2V306.6 M378.3 301.1V306.4 M379.0 299.3V306.1 M379.7 299.4V306.8 M380.4 299.7V306.2 M381.1 301.0V306.2 M381.8 299.9V307.1 M382.5 300.0V305.5 M383.2 300.2V305.7 M383.9 300.0V306.9 M384.6 299.5V306.3 M385.3 301.1V306.2 M386.0 299.3V306.2 M386.7 300.7V306.7 M387.4 299.2V306.0 M388.1 300.4V305.4 M388.8 300.2V306.4 M389.5 301.2V305.6 M390.2 300.3V305.5 M390.9 299.2V306.8 M391.6 300.1V305.7 M392.3 300.0V307.1 M393.0 300.1V307.0 M393.7 300.8V305.9 M394.4 300.5V306.5 M395.1 299.7V306.8 M395.8 300.8V307.0 M396.5 300.7V306.3 M397.2 299.4V306.9 M397.9 300.6V305.5 M398.6 299.9V306.5 M399.3 300.0V306.7 M400.0 299.2V305.4 M400.7 299.6V306.9 M401.4 300.2V305.4 M402.1 299.4V305.4 M402.8 300.9V306.4 M403.5 299.5V306.5 M404.2 299.4V305.8 M404.9 299.9V306.6 M405.6 299.6V307.0 M406.3 300.6V306.1 M407.0 300.7V306.1 M407.7 299.2V305.9 M408.4 299.7V307.0 M409.1 299.3V306.8 M409.8 299.6V305.7 M410.5 301.1V306.9 M411.2 300.2V305.4 M411.9 301.0V306.9 M412.6 299.7V305.4 M413.3 300.0V305.9 M414.0 301.0V306.9 M414.7 300.8V305.7 M415.4 300.0V306.7 M416.1 299.3V306.8 M416.8 299.8V306.7 M417.5 299.9V306.2 M418.2 300.3V306.4 M418.9 300.9V305.7 M419.6 299.4V306.0 M420.3 300.6V306.1 M421.0 300.4V305.6 M421.7 300.0V306.0 M422.4 299.4V306.2 M423.1 301.2V305.3 M423.8 300.6V306.1 M424.5 300.6V305.6 M425.2 299.6V306.7 M425.9 301.2V305.7 M426.6 301.0V305.8 M427.3 301.0V306.1 M428.0 300.4V306.1 M428.7 300.3V306.1 M429.4 299.6V305.6 M430.1 300.5V305.4 M430.8 300.2V305.4 M431.5 300.6V307.0 M432.2 300.3V306.3 M432.9 300.3V305.9 M433.6 301.2V306.1 M434.3 299.4V306.4 M435.0 300.8V305.8 M435.7 300.7V306.5 M436.4 299.4V306.1 M437.1 300.2V306.3 M437.8 299.9V305.8 M438.5 299.4V305.8 M439.2 300.6V306.0 M439.9 299.7V306.3 M440.6 299.8V306.3 M441.3 300.4V305.5 M442.0 299.7V306.8 M442.7 300.8V305.9 M443.4 301.1V305.7 M444.1 299.8V305.7 M444.8 300.0V306.0 M445.5 300.3V306.5 M446.2 299.3V305.7 M446.9 299.7V305.6 M447.6 299.8V305.8 M448.3 300.9V306.4 M449.0 301.1V306.9 M449.7 299.8V306.1 M450.4 299.4V306.0 M451.1 300.4V306.5 M451.8 299.3V305.7 M452.5 300.2V306.1 M453.2 299.7V305.3 M453.9 300.8V306.3 M454.6 300.3V306.6 M455.3 300.6V306.3 M456.0 300.9V307.1 M456.7 300.6V305.8 M457.4 300.1V305.4 M458.1 301.2V305.9 M458.8 299.8V305.5 M459.5 300.7V306.3 M460.2 300.9V305.7 M460.9 299.5V306.8 M461.6 300.8V306.6 M462.3 300.1V305.5 M463.0 299.3V306.4 M463.7 300.5V306.7 M464.4 300.0V306.8 M465.1 301.2V305.7 M465.8 300.8V305.9 M466.5 299.8V305.3 M467.2 299.4V305.6 M467.9 300.2V305.6 M468.6 299.6V305.4 M469.3 299.3V306.3 M470.0 300.9V306.3 M470.7 300.9V306.7 M471.4 300.6V306.9 M472.1 299.5V305.6 M472.8 299.5V305.7 M473.5 300.5V306.5 M474.2 300.8V305.9 M474.9 299.9V305.6 M475.6 299.9V305.4 M476.3 300.5V306.0 M477.0 301.0V306.4 M477.7 299.4V307.1 M478.4 300.7V305.7 M479.1 299.6V306.6 M479.8 299.3V306.2 M480.5 299.3V307.0 M481.2 300.4V307.0 M481.9 301.2V305.6 M482.6 299.3V306.6 M483.3 300.7V306.9 M484.0 299.4V306.9 M484.7 300.4V306.0 M485.4 300.3V305.9 M486.1 300.9V306.4 M486.8 299.6V306.3 M487.5 299.6V305.3 M488.2 300.2V307.0 M488.9 301.1V305.7 M489.6 300.4V307.0 M490.3 299.3V305.4 M491.0 300.4V305.6 M491.7 301.1V306.4 M492.4 301.2V305.7 M493.1 300.4V305.8 M493.8 299.5V305.8 M494.5 301.0V306.4 M495.2 299.6V306.3 M495.9 301.2V305.6 M496.6 299.4V306.2 M497.3 299.8V305.7 M498.0 299.5V305.4 M498.7 301.0V305.3 M499.4 299.4V306.3 M500.1 299.9V305.5 M500.8 300.3V305.6 M501.5 299.8V306.3 M502.2 300.0V306.4 M502.9 300.2V306.2 M503.6 300.4V306.3 M504.3 299.3V306.9 M505.0 300.7V305.8 M505.7 299.9V306.4 M506.4 299.9V305.4 M507.1 301.1V306.2 M507.8 299.3V306.3 M508.5 300.4V305.3 M509.2 299.5V305.6 M509.9 299.8V306.0 M510.6 300.9V307.1 M511.3 300.5V307.1 M512.0 299.8V307.1 M512.7 300.0V306.6 M513.4 300.3V305.4 M514.1 300.4V306.1 M514.8 300.7V306.9 M515.5 299.8V306.7 M516.2 300.0V306.1 M516.9 300.6V306.6 M517.6 301.0V305.3 M518.3 300.3V305.8 M519.0 301.0V306.9 M519.7 300.4V306.7 M520.4 299.4V305.8 M521.1 300.4V306.8 M521.8 300.3V305.5 M522.5 300.2V306.9 M523.2 299.9V305.4 M523.9 300.1V306.1 M524.6 300.3V306.3 M525.3 299.7V306.7 M526.0 300.1V305.3 M526.7 299.4V307.0 M527.4 300.1V307.1 M528.1 300.0V305.7 M528.8 300.6V305.8 M529.5 299.4V306.4 M530.2 299.2V307.0 M530.9 300.2V306.8 M531.6 299.9V305.6 M532.3 300.9V306.5 M533.0 301.0V306.9 M533.7 300.3V306.4 M534.4 299.8V306.0 M535.1 300.3V306.4 M535.8 300.5V306.6 M536.5 299.7V306.3 M537.2 301.1V305.9 M537.9 300.9V305.7 M538.6 300.7V306.2 M539.3 299.3V305.8 M540.0 301.0V305.7 M540.7 300.8V307.0 M541.4 299.6V306.1 M542.1 301.0V306.3 M542.8 299.4V305.8 M543.5 300.5V305.8 M544.2 300.0V306.8 M544.9 299.5V306.3 M545.6 301.1V307.0 M546.3 300.5V305.9 M547.0 299.5V306.6 M547.7 299.8V305.7 M548.4 300.8V307.0 M549.1 301.1V306.4 M549.8 299.6V306.0 M550.5 299.8V306.5 M551.2 300.9V305.6 M551.9 301.0V306.0 M552.6 299.6V306.6 M553.3 299.8V306.0 M554.0 300.8V306.1 M554.7 300.8V306.2 M555.4 300.0V305.8 M556.1 300.4V305.4 M556.8 300.0V306.3 M557.5 300.1V305.8 M558.2 299.5V306.7 M558.9 301.0V306.7 M559.6 299.6V305.3 M560.3 301.2V305.5 M561.0 299.4V305.7 M561.7 300.6V306.1 M562.4 299.8V306.3 M563.1 299.4V306.0 M563.8 299.5V306.7 M564.5 299.3V305.8 M565.2 301.1V305.7 M565.9 300.2V306.0 M566.6 300.3V306.3 M567.3 300.2V306.7 M568.0 299.5V306.0 M568.7 300.1V306.4 M569.4 300.1V306.3 M570.1 299.4V305.4 M570.8 299.6V306.0 M571.5 299.6V305.9 M572.2 299.9V305.5 M572.9 300.4V306.0 M573.6 300.7V306.4 M574.3 299.5V306.6 M575.0 301.0V306.6 M575.7 300.9V306.6 M576.4 299.9V306.1 M577.1 300.3V306.2 M577.8 300.3V305.8 M578.5 299.9V306.1 M579.2 299.7V306.1 M579.9 300.2V306.4 M580.6 299.7V306.2 M581.3 299.7V306.2 M582.0 299.5V305.9 M582.7 299.6V307.0 M583.4 300.9V306.8 M584.1 299.4V306.2 M584.8 301.1V306.6 M585.5 300.6V306.5 M586.2 300.5V306.7 M586.9 300.6V306.5 M587.6 300.7V306.4 M588.3 299.7V306.5 M589.0 299.5V306.7 M589.7 300.5V306.3 M590.4 300.5V305.7 M591.1 300.6V305.7 M591.8 300.8V307.0 M592.5 300.6V306.8 M593.2 299.9V306.3 M593.9 300.1V306.5 M594.6 299.4V305.4 M595.3 300.4V306.4 M596.0 300.6V305.4 M596.7 300.1V307.1 M597.4 299.6V306.0 M598.1 300.1V306.5 M598.8 300.8V306.5 M599.5 299.3V306.3 M600.2 301.0V305.7 M600.9 301.2V307.1 M601.6 300.0V306.1 M602.3 299.9V305.5 M603.0 300.6V305.8 M603.7 299.4V306.6 M604.4 300.5V306.9 M605.1 300.7V305.4 M605.8 299.7V306.6 M606.5 299.9V305.8 M607.2 301.0V307.0 M607.9 299.5V306.6 M608.6 300.5V307.1 M609.3 299.8V306.8 M610.0 300.0V306.9 M610.7 300.6V306.8 M611.4 299.4V305.8 M612.1 300.0V307.1 M612.8 300.5V305.5 M613.5 299.6V305.9 M614.2 300.9V305.9 M614.9 299.7V306.4 M615.6 300.2V306.7 M616.3 300.2V305.9 M617.0 299.5V306.5 M617.7 300.2V307.0 M618.4 300.3V306.3 M619.1 299.6V305.7 M619.8 299.6V305.5 M620.5 300.8V307.1 M621.2 299.6V306.7 M621.9 301.1V306.3 M622.6 300.7V305.5 M623.3 300.4V306.3 M624.0 299.8V305.8 M624.7 300.7V305.4 M625.4 300.2V305.3 M626.1 299.3V305.8 M626.8 300.2V306.0 M627.5 300.1V307.1 M628.2 299.3V305.9 M628.9 300.9V306.3 M629.6 300.9V306.0 M630.3 300.0V306.6 M631.0 300.1V306.7 M631.7 299.8V305.4 M632.4 300.3V305.4 M633.1 300.0V305.9 M633.8 299.9V306.2 M634.5 299.7V306.7 M635.2 300.9V306.0 M635.9 299.9V306.1 M636.6 299.8V306.5 M637.3 301.1V306.2 M638.0 301.1V306.5 M638.7 299.8V306.3 M639.4 300.6V307.1 M640.1 300.0V305.4 M640.8 300.2V306.7 M641.5 300.3V306.5 M642.2 299.9V306.6 M642.9 299.3V306.0 M643.6 299.3V306.7 M644.3 300.1V306.6 M645.0 300.6V306.1 M645.7 300.1V305.9 M646.4 300.0V306.5 M647.1 300.9V305.8 M647.8 299.2V307.0 M648.5 300.7V306.8 M649.2 300.4V306.4 M649.9 301.1V305.8 M650.6 299.5V306.9 M651.3 299.9V305.5 M652.0 299.8V306.0 M652.7 300.3V306.2 M653.4 299.9V306.1 M654.1 299.4V306.8 M654.8 300.6V306.7 M655.5 300.4V306.0 M656.2 300.9V307.1 M656.9 300.4V305.5 M657.6 300.8V306.3 M658.3 299.5V306.6 M659.0 301.0V306.1 M659.7 300.6V305.5 M660.4 299.7V306.8 M661.1 301.0V305.5 M661.8 299.8V305.5 M662.5 300.3V306.1 M663.2 300.4V306.0 M663.9 301.0V305.6 M664.6 299.8V305.5 M665.3 300.6V306.7 M666.0 299.8V306.7 M666.7 300.6V307.1 M667.4 299.4V306.2 M668.1 301.0V306.3 M668.8 299.8V306.2 M669.5 300.8V307.0 M670.2 299.9V305.3 M670.9 299.5V306.0 M671.6 301.1V307.0 M672.3 300.8V305.6 M673.0 300.6V306.7 M673.7 300.6V305.7 M674.4 299.5V305.3 M675.1 301.2V305.8 M675.8 300.5V305.4 M676.5 301.1V306.4 M677.2 299.4V305.9 M677.9 299.9V306.5 M678.6 301.0V306.8 M679.3 299.2V305.6 M680.0 299.4V307.1 M680.7 300.0V305.5 M681.4 300.7V306.0 M682.1 301.1V306.5 M682.8 299.2V305.9 M683.5 299.9V307.1 M684.2 300.0V306.4 M684.9 299.4V306.4 M685.6 300.4V305.7 M686.3 301.0V307.0 M687.0 301.0V306.8 M687.7 299.4V305.6 M688.4 299.8V305.3 M689.1 301.0V306.3 M689.8 300.8V306.5 M690.5 300.1V306.0 M691.2 299.6V306.3 M691.9 300.1V305.6 M692.6 299.5V306.0 M693.3 299.3V306.2 M694.0 300.5V305.5 M694.7 300.0V305.9 M695.4 299.4V306.0 M696.1 300.2V306.6 M696.8 299.7V306.1 M697.5 299.5V306.8 M698.2 299.3V306.2 M698.9 299.4V306.2 M699.6 300.6V306.5 M700.3 300.9V306.7 M701.0 300.6V306.9 M701.7 299.5V305.8 M702.4 300.4V306.9 M703.1 299.6V306.8 M703.8 299.3V306.4 M704.5 300.3V306.1 M705.2 299.5V307.0 M705.9 299.5V306.0 M706.6 301.0V306.1 M707.3 300.6V305.9 M708.0 300.7V305.3 M708.7 300.1V305.5 M709.4 300.3V305.4 M710.1 299.9V305.3 M710.8 300.6V305.4 M711.5 301.1V306.0 M712.2 299.4V306.9 M712.9 301.0V305.4 M713.6 300.8V305.8 M714.3 299.4V305.4 M715.0 301.0V305.9 M715.7 301.0V306.3 M716.4 299.6V305.4 M717.1 300.8V306.0 M717.8 300.1V305.8 M718.5 301.0V306.1 M719.2 301.0V306.9 M719.9 300.6V306.4 M720.6 299.5V305.9 M721.3 299.9V306.7 M722.0 300.6V306.7 M722.7 299.2V305.5 M723.4 299.5V306.4 M724.1 300.1V306.2 M724.8 300.5V306.2 M725.5 300.0V306.2 M726.2 300.3V305.4 M726.9 300.7V305.5 M727.6 299.9V306.7 M728.3 300.7V306.9 M729.0 300.4V305.7 M729.7 299.5V305.9 M730.4 299.4V305.4 M731.1 300.6V305.9 M731.8 299.6V305.4 M732.5 300.9V306.1 M733.2 300.6V305.7 M733.9 300.3V307.0 M734.6 300.2V306.7 M735.3 299.9V305.6 M736.0 300.2V305.4 M736.7 299.7V307.0 M737.4 299.5V305.9 M738.1 299.5V305.4 M738.8 300.7V305.3 M739.5 300.5V305.6 M740.2 299.4V306.2 M740.9 300.3V306.3 M741.6 299.4V306.3 M742.3 300.2V306.2 M743.0 301.0V305.7 M743.7 300.3V306.6 M744.4 299.6V305.9 M745.1 299.7V305.4 M745.8 300.7V306.7 M746.5 299.7V306.6 M747.2 301.1V306.1 M747.9 300.2V306.4 M748.6 299.9V307.1 M749.3 300.1V306.1 M750.0 301.0V306.8 M750.7 300.6V306.1 M751.4 300.9V306.0 M752.1 299.2V306.6 M752.8 299.3V306.4 M753.5 299.2V306.9 M754.2 300.9V305.5 M754.9 300.7V306.2 M755.6 300.2V305.4 M756.3 300.1V307.0 M757.0 301.1V306.5 M757.7 299.5V305.8 M758.4 300.5V307.0 M759.1 299.9V305.6 M759.8 299.2V305.6 M760.5 299.5V306.2 M761.2 301.2V306.7 M761.9 299.7V306.8 M762.6 299.8V306.1 M763.3 300.9V306.2 M764.0 300.0V306.1 M764.7 300.8V306.9 M765.4 300.5V305.3 M766.1 300.5V306.5 M766.8 299.2V305.8 M767.5 300.9V306.7 M768.2 299.6V307.1 M768.9 299.6V306.0 M769.6 300.0V307.0 M770.3 301.1V306.2 M771.0 299.5V306.5 M771.7 300.2V307.1 M772.4 300.7V306.4 M773.1 299.7V306.0 M773.8 300.3V306.5 M774.5 300.5V307.1 M775.2 299.9V305.4 M775.9 300.8V306.5 M776.6 300.8V305.9 M777.3 301.1V306.8 M778.0 299.4V306.7 M778.7 300.0V306.6 M779.4 299.4V305.5 M780.1 299.9V305.4 M780.8 299.8V306.0 M781.5 300.5V306.8 M782.2 301.0V306.5 M782.9 301.0V306.1 M783.6 300.0V306.2 M784.3 300.6V307.0 M785.0 300.9V307.0 M785.7 299.7V306.3 M786.4 299.7V306.8 M787.1 299.5V307.0 M787.8 301.0V306.5 M788.5 299.5V305.9 M789.2 299.3V306.3 M789.9 300.5V305.4 M790.6 300.0V306.4 M791.3 300.0V305.4 M792.0 300.0V305.3 M792.7 299.6V307.0 M793.4 299.5V306.9 M794.1 299.4V305.6 M794.8 300.7V306.3 M795.5 299.7V306.0 M796.2 299.4V306.2 M796.9 300.5V305.4 M797.6 300.1V306.4 M798.3 299.6V305.8 M799.0 300.8V305.7 M799.7 300.5V306.0 M800.4 300.2V306.4 M801.1 299.6V306.5 M801.8 300.0V305.8 M802.5 299.3V305.5 M803.2 300.4V305.3 M803.9 300.5V307.1 M804.6 300.7V306.0 M805.3 300.7V306.1 M806.0 300.9V306.6 M806.7 299.4V307.0 M807.4 300.4V305.4 M808.1 300.8V305.7 M808.8 301.1V306.3 M809.5 300.6V306.3 M810.2 300.7V306.8 M810.9 299.4V306.9 M811.6 299.6V305.6 M812.3 299.8V306.9 M813.0 300.5V306.2 M813.7 300.4V305.5 M814.4 301.1V305.9 M815.1 299.5V306.2 M815.8 299.2V306.1 M816.5 300.3V305.5 M817.2 301.1V305.4 M817.9 299.5V307.1 M818.6 300.8V306.6 M819.3 300.5V306.4 M820.0 299.8V305.7 M820.7 300.7V306.9 M821.4 300.6V306.9 M822.1 299.2V306.3 M822.8 299.3V306.8 M823.5 300.4V305.8 M824.2 301.1V305.6 M824.9 300.8V306.7 M825.6 300.6V305.3 M826.3 300.6V305.9 M827.0 299.4V305.8 M827.7 300.5V305.7 M828.4 300.2V306.4 M829.1 299.2V305.7 M829.8 299.4V305.5 M830.5 301.1V306.2 M831.2 300.4V305.9 M831.9 299.4V306.7 M832.6 300.6V305.3 M833.3 300.0V306.4 M834.0 301.2V306.5 M834.7 299.3V306.9 M835.4 300.0V306.0 M836.1 301.0V305.4 M836.8 301.2V306.7 M837.5 299.3V306.8 M838.2 299.4V306.5 M838.9 299.7V306.3 M839.6 300.3V305.3 M840.3 300.2V306.9 M841.0 300.8V306.1 M841.7 300.5V305.6 M842.4 300.4V306.9 M843.1 299.6V305.4 M843.8 300.1V306.9 M844.5 299.8V307.0 M845.2 301.0V306.1 M845.9 299.3V306.6 M846.6 300.5V307.0 M847.3 299.4V306.0 M848.0 299.5V305.4 M848.7 300.0V306.1 M849.4 299.9V305.5 M850.1 300.5V305.8 M850.8 300.9V305.9 M851.5 301.0V306.0 M852.2 300.8V305.8 M852.9 301.0V305.4 M853.6 300.0V306.6 M854.3 299.8V305.8 M855.0 299.3V305.9 M855.7 300.9V306.1 M856.4 300.4V305.9 M857.1 300.2V306.0 M857.8 300.7V306.4 M858.5 299.9V306.7 M859.2 300.6V306.6 M859.9 300.4V306.2 M860.6 299.3V306.0 M861.3 299.3V305.4 M862.0 301.1V306.8 M862.7 299.7V305.7 M863.4 299.3V305.5 M864.1 300.2V305.8 M864.8 299.4V306.8 M865.5 300.8V307.1 M866.2 300.9V306.5 M866.9 300.7V306.3 M867.6 301.0V306.1 M868.3 299.2V306.1 M869.0 299.9V306.8 M869.7 300.8V306.9 M870.4 299.3V305.8 M871.1 300.8V306.2 M871.8 301.0V306.7 M872.5 299.6V306.6 M873.2 300.7V305.9 M873.9 300.2V305.6 M874.6 299.9V306.2 M875.3 300.7V306.5 M876.0 299.5V306.0 M876.7 300.2V306.9 M877.4 299.4V306.8 M878.1 299.9V305.9 M878.8 299.8V306.3 M879.5 300.9V306.4 M880.2 300.0V307.0 M880.9 300.6V305.7 M881.6 301.2V306.4 M882.3 301.0V305.4 M883.0 299.5V306.8 M883.7 301.1V307.1 M884.4 300.4V305.9 M885.1 301.1V305.7 M885.8 299.4V306.3 M886.5 301.0V305.7 M887.2 300.2V305.9 M887.9 300.4V305.6 M888.6 299.2V305.8 M889.3 300.3V306.9 M890.0 300.6V305.9 M890.7 301.1V307.1 M891.4 300.0V306.7 M892.1 299.9V306.4 M892.8 300.2V306.6 M893.5 300.9V305.4 M894.2 299.8V306.2 M894.9 301.2V305.4 M895.6 299.9V305.6 M896.3 300.7V307.1 M897.0 299.9V305.9 M897.7 300.5V306.4 M898.4 299.9V306.0 M899.1 299.3V305.6 M899.8 300.0V305.3 M900.5 300.4V306.4 M901.2 300.3V306.6 M901.9 299.5V305.8 M902.6 299.9V306.1 M903.3 300.6V306.7 M904.0 300.9V305.7 M904.7 300.4V305.8 M905.0 275.9V304.8 M905.7 277.5V304.4 M906.4 277.5V303.6 M907.1 275.2V303.8 M907.8 276.8V303.9 M908.5 277.2V304.6 M909.2 277.1V303.7 M909.9 277.0V304.2 M910.6 275.8V303.7 M911.3 275.0V305.3 M912.0 275.6V304.7 M912.7 275.4V304.7 M913.4 276.0V304.1 M914.1 274.8V304.9 M914.8 276.6V305.3 M915.5 277.5V305.0 M916.2 297.3V304.9 M916.9 275.3V305.4 M917.6 275.8V304.1 M918.3 275.6V303.8 M919.0 276.2V304.3 M919.7 276.9V304.9 M920.4 275.5V304.6 M921.1 274.7V305.3 M921.8 274.8V305.2 M922.5 276.7V303.9 M923.2 274.8V304.9 M923.9 276.2V304.4 M924.6 277.1V305.2 M925.3 276.3V304.6 M926.0 274.9V303.7 M926.7 274.7V303.8 M927.4 276.8V303.7 M928.1 298.5V304.4 M928.8 274.8V303.6 M929.5 276.8V305.2 M930.2 274.5V304.3 M930.9 276.3V305.0 M931.6 277.2V304.9 M932.3 275.4V303.7 M933.0 276.3V303.8 M933.7 277.3V304.7 M934.4 275.4V304.0 M935.1 276.0V305.2 M935.8 274.7V304.9 M936.5 274.9V303.7 M937.2 276.8V305.3 M937.9 276.1V304.5 M938.6 275.1V303.7 M939.3 277.4V303.6 M940.0 299.5V304.6 M940.7 277.1V303.5 M941.4 274.6V304.3 M942.1 275.7V305.5 M942.8 277.4V303.5 M943.5 277.0V304.4 M944.2 274.9V305.0 M944.9 277.1V303.9 M945.6 277.0V304.5 M946.3 277.4V304.4 M947.0 276.6V304.2 M947.7 276.2V305.0 M948.4 274.9V304.2 M949.1 276.1V305.4 M949.8 276.1V304.4 M950.5 276.1V304.0 M951.2 277.3V305.0 M951.9 275.6V305.2 M952.6 277.1V304.7 M953.3 276.5V304.2 M954.0 277.5V305.2 M954.7 274.9V304.9 M955.4 276.5V303.9 M956.1 274.6V304.9 M956.8 275.7V305.5 M957.5 276.6V305.0 M958.2 276.6V304.2 M958.9 275.6V305.1 M959.6 276.6V304.7 M960.3 277.3V304.7 M961.0 275.1V305.5 M961.7 274.8V304.4 M962.4 277.3V305.4 M963.1 276.0V303.5 M963.8 276.1V304.8 M964.5 275.1V303.6 M965.2 275.2V304.1 M965.9 275.9V305.2 M966.6 275.8V303.6 M967.3 276.5V303.7 M968.0 276.0V305.3 M968.7 276.5V304.4 M969.4 275.1V305.0 M970.1 276.3V304.3 M970.8 275.4V304.0 M971.5 275.1V304.1 M972.2 276.1V305.4 M972.9 299.3V304.1 M973.6 274.9V305.3 M974.3 275.8V304.6 M975.0 275.4V304.7 M975.7 275.7V305.3 M976.4 277.1V305.2 M977.1 277.2V304.0 M977.8 276.9V304.0 M978.5 274.9V304.1 M979.2 276.0V304.2 M979.9 276.0V304.3 M980.6 276.0V303.7 M981.3 277.3V303.7 M982.0 251.7V305.4 M982.7 251.0V304.8 M983.4 251.3V305.2 M984.1 252.3V303.5 M984.8 252.5V305.3 M985.5 253.4V304.8 M986.2 250.6V304.1 M986.9 252.5V304.0 M987.6 251.2V303.9 M988.3 251.4V305.1 M989.0 251.4V304.9 M989.7 253.0V303.8 M990.4 250.8V305.4 M991.0 276.1V303.5 M991.7 274.8V304.4 M992.4 274.6V304.7 M993.1 275.7V304.6 M993.8 275.3V304.6 M994.5 276.9V303.7 M995.2 275.3V303.7 M995.9 275.6V304.5 M996.6 276.9V304.9 M997.0 289.8V303.5 M997.7 298.5V304.0 M998.4 290.3V303.5 M999.1 290.9V304.4 M999.8 298.0V304.9 M1000.5 298.6V304.1 M1001.2 292.0V304.0 M1001.9 299.1V303.8 M1002.6 299.3V305.0 M1003.3 302.7V305.1 M1004.0 289.7V304.7 M1004.7 292.4V305.4 M1005.4 292.3V304.3 M1006.0 277.3V304.1 M1006.7 275.0V304.6 M1007.4 275.5V305.2 M1008.1 276.0V303.7 M1008.8 276.1V305.2 M1009.5 276.5V304.2 M1010.2 276.3V303.7 M1010.9 275.7V303.7 M1011.6 274.9V304.7 M1012.3 275.4V305.0 M1013.0 275.4V304.9 M1013.7 276.3V304.0 M1014.4 277.3V304.5 M1015.1 275.1V304.0 M1015.8 276.9V305.1 M1016.5 275.3V303.6 M1017.2 275.8V303.8 M1017.9 276.2V303.8 M1018.6 275.5V304.5 M1019.3 275.9V305.0 M1020.0 275.1V304.8 M1020.7 275.5V305.1 M1021.4 276.3V303.8 M1022.1 275.6V304.8 M1022.8 275.3V303.9 M1023.5 274.7V304.1 M1024.2 275.5V304.3 M1024.9 275.5V304.4 M1025.6 277.1V304.3 M1026.3 275.6V304.4 M1027.0 275.6V303.7 M1027.7 276.8V304.2 M1028.4 274.6V303.5 M1029.1 277.2V304.6 M1029.8 275.5V305.3 M1030.5 277.5V304.7 M1031.2 275.5V303.8 M1031.9 276.3V305.1 M1032.6 276.0V304.0 M1033.3 277.5V305.4 M1034.0 277.2V305.2 M1034.7 276.6V304.4 M1035.4 274.8V305.4 M1036.1 274.7V303.5 M1036.8 276.0V305.3 M1037.5 275.8V303.6 M1038.2 275.0V305.5 M1038.9 276.1V304.1 M1039.6 275.1V305.0 M1040.3 276.2V304.1 M1041.0 276.1V304.7 M1041.7 275.0V304.2 M1042.0 257.1V304.0 M1042.7 256.8V305.2 M1043.4 275.3V304.0 M1044.1 274.3V304.1 M1044.8 256.7V304.8 M1045.5 275.9V304.3 M1046.2 276.4V303.6 M1046.9 259.4V303.6 M1047.6 258.9V305.0 M1048.0 280.9V305.2 M1048.7 280.3V305.3 M1049.4 282.6V305.0 M1050.1 284.0V304.9 M1050.8 284.9V303.8 M1051.5 283.5V305.4 M1052.2 283.8V303.6 M1052.9 281.7V304.2 M1053.6 284.8V303.9 M1054.3 282.6V303.5 M1055.0 279.3V304.9 M1055.7 281.5V304.0 M1056.4 283.8V304.6 M1057.0 257.7V304.5 M1057.7 258.1V305.1 M1058.4 261.5V304.7 M1059.1 260.5V305.4 M1059.8 256.9V305.1 M1060.5 259.4V303.7 M1061.2 257.7V304.7 M1061.9 260.4V304.5 M1062.6 257.7V305.3 M1063.3 259.6V303.8 M1064.0 262.0V304.2 M1064.7 256.5V303.6 M1065.4 256.3V305.2 M1066.1 278.0V288.6 M1066.8 257.3V303.8 M1067.5 256.3V303.6 M1068.2 259.4V303.6 M1068.9 258.2V304.2 M1069.6 258.0V303.7 M1070.3 259.1V304.4 M1071.0 260.0V304.8 M1071.7 260.5V304.3 M1072.4 281.2V304.6 M1073.1 256.5V304.2 M1073.8 259.3V304.7 M1074.5 257.9V304.8 M1075.2 261.4V305.5 M1075.9 277.9V305.0 M1076.6 260.4V304.3 M1077.3 258.4V304.2 M1078.0 257.4V305.2 M1078.7 261.2V303.7 M1079.4 259.7V304.5 M1080.1 260.2V304.7 M1080.8 257.8V303.8 M1081.5 258.4V304.7 M1082.2 257.9V304.7 M1082.9 259.4V304.7 M1083.6 257.8V305.1 M1084.3 260.9V303.8 M1085.0 259.7V304.1 M1085.7 279.0V304.3 M1086.4 279.5V304.6 M1087.1 257.0V286.0 M1087.8 257.3V305.4 M1088.5 256.7V305.2 M1089.2 257.8V304.2 M1089.9 257.1V304.9 M1090.6 258.9V303.9 M1091.3 260.8V303.5 M1092.0 261.8V304.8 M1092.7 256.1V304.2 M1093.4 257.4V304.5 M1094.1 256.4V304.8 M1094.8 256.6V305.1 M1095.5 257.7V303.7 M1096.2 259.3V303.7 M1096.9 280.7V303.6 M1097.6 259.9V303.8 M1098.3 261.5V305.3 M1099.0 257.7V305.3 M1099.7 256.8V305.5 M1100.4 260.7V304.4 M1101.1 257.7V305.4 M1101.8 257.1V305.1 M1102.5 280.1V293.6 M1103.2 258.6V304.1 M1103.9 260.8V304.7 M1104.6 256.7V304.7 M1105.3 261.7V305.4 M1106.0 259.2V304.4 M1106.7 256.6V304.6 M1107.4 259.7V304.4 M1108.1 258.7V304.3 M1108.8 258.5V304.5 M1109.5 260.5V303.9 M1110.2 261.1V303.5 M1110.9 260.2V305.3 M1111.6 258.8V304.0 M1112.3 259.7V303.9 M1113.0 279.2V304.1 M1113.7 277.2V304.1 M1114.4 260.7V305.2 M1115.1 260.5V305.3 M1115.8 259.0V292.2 M1116.5 276.1V304.8 M1117.2 279.5V305.2 M1117.9 261.4V304.4 M1118.6 257.0V303.9 M1119.3 260.3V304.5 M1120.0 259.2V304.4 M1120.7 276.1V304.3 M1121.4 258.1V303.6 M1122.1 276.9V305.4 M1122.8 261.5V305.2 M1123.5 256.4V305.1 M1124.2 259.9V303.6 M1124.9 280.0V304.2 M1125.6 258.9V304.2 M1126.3 260.6V303.6 M1127.0 260.1V304.5 M1127.7 258.6V304.2 M1128.4 281.4V304.9 M1129.1 277.3V304.7 M1129.8 257.7V304.9 M1130.5 256.5V304.7 M1131.2 280.5V303.7 M1131.9 258.1V304.2 M1132.6 257.5V305.5 M1133.3 259.4V305.0 M1134.0 261.9V304.6 M1134.7 259.8V303.6 M1135.4 260.3V305.4 M1136.1 281.3V290.4 M1136.8 261.7V303.9 M1137.5 261.3V287.5 M1138.2 261.6V303.9 M1138.9 259.6V304.5 M1139.6 261.4V305.5 M1140.3 257.1V305.1 M1141.0 260.1V303.6 M1141.7 278.9V304.4 M1142.4 256.3V303.9 M1143.1 257.1V304.9 M1143.8 258.9V304.7 M1144.5 277.1V304.4 M1145.2 259.7V305.1 M1145.9 256.2V304.6 M1146.6 276.8V304.1 M1147.3 256.8V304.2 M1148.0 259.1V305.0 M1148.7 257.2V288.0 M1149.4 279.1V304.8 M1150.1 259.8V304.3 M1150.8 279.1V304.7 M1151.5 261.9V303.8 M1152.2 258.5V305.3 M1152.9 257.0V305.2 M1153.6 260.2V305.2 M1154.3 258.3V305.5 M1155.0 259.8V304.6 M1155.7 261.6V303.7 M1156.4 256.9V303.9 M1157.1 259.7V305.1 M1157.8 258.1V305.1 M1158.5 260.6V305.1 M1159.2 261.7V305.4 M1159.9 260.2V303.6 M1160.6 279.2V305.2 M1161.3 257.5V304.6 M1162.0 259.8V305.2 M1162.7 278.0V304.4 M1163.4 276.0V304.4 M1164.1 256.9V303.7 M1164.8 261.1V304.2 M1165.0 272.9V304.7 M1165.7 273.9V304.1 M1166.4 275.4V304.3 M1167.1 272.8V304.7 M1167.8 274.8V304.6 M1168.5 275.5V305.5 M1169.2 274.6V305.0 M1169.9 274.0V304.2 M1170.6 274.6V305.0 M1171.3 273.6V304.6 M1172.0 272.8V303.7 M1172.7 273.3V304.9 M1173.4 274.3V303.9 M1174.1 273.3V305.2 M1174.8 274.1V303.7 M1175.5 272.6V305.3 M1176.2 274.6V304.4 M1176.9 272.6V304.0 M1177.6 275.0V304.7 M1178.3 272.7V303.8 M1179.0 275.1V303.7 M1179.7 274.2V304.5 M1180.4 272.8V305.3 M1181.1 272.7V304.7 M1181.8 273.8V303.6 M1182.5 273.6V304.7 M1183.2 273.2V305.2 M1183.9 274.9V304.9 M1184.6 274.1V305.1 M1185.3 273.1V305.1 M1186.0 272.7V303.9 M1186.7 272.5V304.4 M1187.4 273.7V305.0 M1188.1 272.5V304.9 M1188.8 272.6V304.7 M1189.5 274.1V305.2 M1190.2 274.9V303.8 M1190.9 274.7V304.2 M1191.6 272.9V305.1 M1192.3 273.8V304.2 M1193.0 275.8V305.0 M1193.7 277.2V305.1 M1194.4 274.9V305.3 M1195.1 274.5V305.5 M1195.8 275.3V304.5 M1196.5 275.7V304.2 M1197.2 277.0V303.5 M1197.9 275.1V304.8 M1198.6 276.9V304.6 M1199.3 275.3V305.2 M1200.0 277.4V304.3 M1200.7 276.6V303.9 M1201.4 276.1V304.7 M1202.1 274.7V303.6 M1202.8 274.8V305.2 M1203.5 275.3V305.2 M1204.2 276.8V305.2 M1204.9 276.6V303.8 M1205.0 258.3V305.0 M1205.7 256.2V305.3 M1206.4 258.1V304.1 M1207.1 256.0V305.0 M1207.8 257.3V305.2 M1208.5 256.2V303.7 M1209.2 255.8V305.4 M1209.9 255.9V305.0 M1210.6 256.7V304.4 M1211.3 258.1V303.7 M1212.0 255.6V304.6 M1212.7 256.5V304.0 M1213.4 257.4V304.7 M1214.1 256.3V305.3 M1214.8 255.5V305.2 M1215.0 235.4V285.9 M1215.7 256.1V304.8 M1216.4 236.3V287.2 M1217.1 236.7V283.0 M1217.8 236.0V304.5 M1218.5 261.6V286.6 M1219.2 237.8V304.6 M1219.9 236.8V304.4 M1220.6 235.4V304.4 M1221.3 235.6V303.6 M1222.0 234.1V303.6 M1222.7 234.6V305.4 M1223.4 235.8V304.6 M1224.1 237.7V305.3 M1224.8 235.6V303.6 M1225.5 236.7V304.9 M1226.2 236.6V285.9 M1226.9 261.8V304.6 M1227.6 234.1V303.6 M1228.3 237.0V303.6 M1229.0 235.2V305.0 M1229.7 236.1V283.2 M1230.4 236.4V303.7 M1231.1 256.9V304.7 M1231.8 237.9V285.9 M1232.0 259.2V304.7 M1232.7 274.7V304.5 M1233.4 257.2V304.2 M1234.1 257.1V304.3 M1234.8 276.8V305.4 M1235.5 259.7V305.4 M1236.2 257.2V304.8 M1236.9 256.7V304.4 M1237.6 278.6V305.3 M1238.3 256.6V303.6 M1239.0 258.5V304.6 M1239.7 259.3V304.0 M1240.4 259.7V305.0 M1241.1 257.4V303.9 M1241.8 257.6V304.7 M1242.5 257.3V305.2 M1243.2 257.8V303.8 M1243.9 256.7V305.1 M1244.6 278.1V303.6 M1245.3 257.5V304.9 M1246.0 257.6V303.8 M1246.7 259.9V305.1 M1247.4 259.5V304.4 M1248.1 258.2V304.7 M1248.8 257.7V304.4 M1249.5 258.3V305.5 M1250.0 237.6V305.1 M1250.7 234.3V303.7 M1251.4 256.2V304.7 M1252.1 237.4V303.8 M1252.8 236.3V305.0 M1253.5 234.3V303.8 M1254.2 235.2V304.3 M1254.9 257.8V304.2 M1255.6 257.5V282.8 M1256.3 237.2V304.5 M1257.0 236.5V304.9 M1257.7 237.3V304.5 M1258.4 256.1V305.0 M1259.1 236.2V305.4 M1259.8 234.7V303.7 M1260.5 234.2V304.2 M1261.2 237.9V284.0 M1261.9 236.7V285.6 M1262.6 259.0V304.7 M1263.3 237.7V304.2 M1264.0 256.1V305.5 M1264.7 234.8V304.0 M1265.4 236.5V304.4 M1266.1 235.2V304.4 M1266.8 234.3V305.5 M1267.5 234.5V304.7 M1268.2 235.0V304.8 M1268.9 234.2V305.2 M1269.6 235.8V286.0 M1270.3 236.6V303.9 M1271.0 237.8V303.9 M1271.7 236.1V283.2 M1272.4 236.6V304.4 M1273.1 235.6V305.3 M1273.8 235.7V304.6 M1274.5 237.6V305.1 M1275.2 261.3V303.9 M1275.9 234.1V304.5 M1276.6 235.9V304.2 M1277.3 236.6V304.9 M1278.0 258.3V304.6 M1278.7 234.9V303.8 M1279.4 257.8V303.9 M1280.1 234.6V304.5 M1280.8 236.1V305.4 M1281.5 236.8V288.7 M1282.2 236.4V305.0 M1282.9 236.5V305.1 M1283.6 235.6V305.4 M1284.3 235.7V304.3 M1285.0 234.7V305.1 M1285.7 234.7V285.7 M1286.4 237.9V305.0 M1287.1 236.3V304.1 M1287.8 236.2V303.6 M1288.5 237.6V305.1 M1289.2 237.5V303.9 M1289.9 238.0V304.3 M1290.6 234.5V304.3 M1291.3 234.8V304.7 M1292.0 237.6V287.0 M1292.7 236.6V304.1 M1293.4 236.0V283.8 M1294.1 237.7V303.6 M1294.8 236.9V303.6 M1295.5 259.5V304.3 M1296.2 235.3V304.2 M1296.9 258.0V304.3 M1297.6 236.6V304.3 M1298.3 236.2V304.3 M1299.0 237.5V305.0 M1299.7 260.6V287.2 M1300.4 234.2V304.3 M1301.1 235.8V282.9 M1301.8 235.8V303.6 M1302.5 234.8V303.6 M1303.2 235.1V304.7 M1303.9 237.7V304.6 M1304.6 234.8V303.6 M1305.0 258.0V305.2 M1305.7 260.1V303.9 M1306.4 259.8V305.0 M1307.1 258.0V305.4 M1307.8 259.7V304.9 M1308.5 259.5V303.6 M1309.2 259.6V304.2 M1309.9 258.4V304.6 M1310.6 260.3V303.5 M1311.0 235.1V305.4 M1311.7 261.8V304.4 M1312.4 237.8V305.0 M1313.1 259.6V305.0 M1313.8 236.8V303.7 M1314.5 235.5V303.7 M1315.2 235.3V303.8 M1315.9 237.5V305.1 M1316.6 234.7V304.5 M1317.3 237.3V304.4 M1318.0 234.1V303.8 M1318.7 235.3V305.3 M1319.4 237.2V304.8 M1320.1 236.5V303.6 M1320.8 237.1V304.4 M1321.5 236.0V304.3 M1322.2 234.7V286.6 M1322.9 234.7V288.3 M1323.6 237.3V304.9 M1324.3 236.7V305.2 M1325.0 257.7V303.7 M1325.7 234.8V303.8 M1326.4 236.2V304.5 M1327.1 236.6V303.8 M1327.8 257.7V303.7 M1328.5 234.7V304.5 M1329.2 237.4V304.5 M1329.9 236.1V304.0 M1330.6 234.3V288.0 M1331.3 235.3V304.5 M1332.0 236.0V304.7 M1332.7 236.2V303.9 M1333.4 235.3V283.5 M1334.1 234.7V304.4 M1334.8 237.9V305.5 M1335.5 261.7V303.8 M1336.2 234.2V285.4 M1336.9 237.7V305.4 M1337.6 258.5V305.4 M1338.3 237.0V304.0 M1339.0 238.0V305.4 M1339.7 236.2V304.3 M1340.4 236.6V288.8 M1341.1 235.4V303.9 M1341.8 235.9V304.0 M1342.5 237.0V287.2 M1343.2 235.4V305.2 M1343.9 237.5V303.7 M1344.6 234.4V303.8 M1345.0 239.2V303.7 M1345.7 240.0V303.9 M1346.4 265.4V304.2 M1347.1 239.8V305.3 M1347.8 241.8V304.3 M1348.5 263.7V305.4 M1349.2 265.2V304.0 M1349.9 262.2V304.9 M1350.6 240.2V305.0 M1351.3 263.8V303.7 M1352.0 269.3V303.6 M1352.7 271.0V304.5 M1353.4 270.8V305.3 M1354.1 271.0V304.5 M1354.8 291.1V303.9 M1355.5 268.7V303.8 M1356.2 267.0V303.7 M1356.9 266.2V305.1 M1357.6 269.7V305.4 M1358.3 265.4V304.9 M1359.0 265.2V304.7 M1359.7 268.9V303.8 M1360.0 256.3V303.7 M1360.7 257.0V305.1 M1361.4 258.2V304.2 M1362.1 257.5V305.4 M1362.8 257.9V304.8 M1363.5 259.7V305.4 M1364.2 256.5V304.8 M1364.9 256.7V304.9 M1365.6 258.5V305.4 M1366.3 257.6V303.8 M1367.0 259.7V304.6 M1367.7 257.7V304.1 M1368.4 257.2V304.3 M1369.1 259.1V303.6 M1369.8 258.0V304.5 M1370.5 256.3V305.3 M1371.2 259.8V305.0 M1371.9 259.5V303.5 M1372.6 258.1V304.4 M1373.3 257.0V305.3 M1374.0 256.1V304.0 M1374.7 258.6V304.6 M1375.4 256.5V305.0 M1376.1 259.1V304.6 M1376.8 259.3V304.1 M1377.0 235.8V304.0 M1377.7 234.6V304.2 M1378.4 234.5V304.5 M1379.1 233.3V304.7 M1379.8 235.7V305.2 M1380.5 235.7V303.8 M1381.2 234.3V305.3 M1381.9 234.5V304.9 M1382.6 236.8V304.1 M1383.3 260.1V304.5 M1384.0 233.5V304.1 M1384.7 234.2V303.7 M1385.4 233.6V304.8 M1386.1 256.3V305.0 M1386.8 236.6V304.9 M1387.5 234.0V305.3 M1388.2 233.1V305.0 M1388.9 233.7V304.8 M1389.6 235.1V304.8 M1390.3 236.0V304.9 M1391.0 235.3V304.6 M1391.7 233.7V305.2 M1392.4 259.9V305.4 M1393.1 235.2V304.3 M1393.8 233.2V305.5 M1394.5 236.1V303.9 M1395.2 233.2V304.5 M1395.9 233.8V305.1 M1396.6 236.2V303.5 M1397.3 236.6V304.9 M1398.0 234.5V305.1 M1398.7 236.5V305.0 M1399.4 233.2V303.7 M1400.0 257.7V305.5 M1400.7 257.1V305.2 M1401.4 258.7V304.2 M1402.1 256.1V305.1 M1402.8 258.4V304.0 M1403.5 258.5V305.0 M1404.2 256.4V305.4 M1404.9 255.5V303.8 M1405.6 256.4V303.9 M1406.3 256.4V303.6 M1407.0 256.0V305.1 M1407.7 256.6V305.3 M1408.4 255.3V303.6 M1409.1 257.2V304.3 M1409.8 256.6V304.1 M1410.0 233.3V305.3 M1410.7 259.1V304.3 M1411.4 255.2V304.4 M1412.1 233.9V305.1 M1412.8 235.4V305.3 M1413.5 236.3V304.9 M1414.2 236.9V304.0 M1414.9 233.9V303.7 M1415.6 236.0V303.9 M1416.3 236.9V305.2 M1417.0 234.5V304.7 M1417.7 235.8V305.0 M1418.4 255.9V304.7 M1419.1 236.9V304.2 M1419.8 234.8V304.9 M1420.5 233.2V305.2 M1421.2 234.9V304.5 M1421.9 233.2V303.9 M1422.6 233.8V304.5 M1423.3 235.3V304.8 M1424.0 234.8V304.2 M1424.7 234.5V303.9 M1425.4 235.1V304.3 M1426.1 233.8V303.6 M1426.8 234.9V303.8 M1427.5 235.4V304.4 M1428.2 234.0V303.8 M1428.9 235.6V304.4 M1429.6 234.2V305.2 M1430.0 257.6V303.7 M1430.7 255.2V303.9 M1431.4 256.2V303.7 M1432.1 258.6V303.5 M1432.8 255.1V305.4 M1433.5 258.8V303.8 M1434.2 258.3V305.3 M1434.9 258.4V304.5 M1435.6 255.2V305.1 M1436.3 257.2V305.2 M1437.0 258.8V305.1 M1437.7 258.2V305.1 M1438.4 258.9V304.6 M1439.1 255.7V304.4 M1439.8 256.9V305.2 M1440.5 258.1V303.8 M1441.2 258.8V304.3 M1441.9 255.6V304.1 M1442.6 256.0V304.0 M1443.3 256.9V304.6 M1444.0 256.6V304.2 M1444.7 256.1V303.7 M1445.4 258.6V304.7 M1446.1 255.8V304.8 M1446.8 258.0V304.4 M1447.5 257.4V303.7 M1448.2 257.5V304.3 M1448.9 256.6V305.4 M1449.6 258.2V305.4 M1450.3 257.9V303.8 M1451.0 256.5V304.6 M1451.7 257.7V303.7 M1452.0 235.1V304.9 M1452.7 234.5V303.9 M1453.4 233.4V304.3 M1454.1 236.9V305.1 M1454.8 235.3V303.7 M1455.5 236.4V304.1 M1456.2 236.5V305.1 M1456.9 233.1V303.9 M1457.6 235.7V304.2 M1458.3 234.8V305.2 M1459.0 236.9V303.8 M1459.7 233.5V305.0 M1460.4 233.4V304.4 M1461.1 234.7V303.8 M1461.8 234.0V305.0 M1462.5 235.0V303.9 M1463.2 236.8V303.6 M1463.9 235.7V304.7 M1464.6 258.6V305.4 M1465.3 236.1V303.6 M1466.0 236.3V304.9 M1466.7 235.8V304.3 M1467.4 233.6V305.3 M1468.1 235.5V304.8 M1468.8 260.8V304.1 M1469.5 236.9V303.5 M1470.2 234.0V304.9 M1470.9 233.9V303.5 M1471.6 235.6V304.4 M1472.3 256.5V305.2 M1473.0 234.3V304.3 M1473.7 236.5V303.9 M1474.4 234.2V304.2 M1475.1 236.0V305.3 M1475.8 259.4V304.7 M1476.5 257.3V304.1 M1477.2 234.0V304.1 M1477.9 234.5V304.9 M1478.6 235.0V305.1 M1479.3 235.0V304.1 M1480.0 233.8V304.7 M1480.7 259.3V304.6 M1481.4 234.3V303.7 M1482.1 258.5V304.4 M1482.8 257.8V304.9 M1483.5 235.5V303.6 M1484.2 235.5V304.0 M1484.9 235.9V304.2 M1485.6 233.7V304.7 M1486.3 233.4V304.1 M1487.0 235.0V304.0 M1487.7 260.7V305.3 M1488.4 235.0V304.7 M1489.1 233.0V304.2 M1489.8 233.2V304.6 M1490.5 234.8V303.7 M1491.2 234.1V305.3 M1491.9 234.8V303.9 M1492.6 236.3V305.1 M1493.3 233.3V305.2 M1494.0 233.9V303.9 M1494.7 235.0V303.6 M1495.4 233.6V305.5" stroke="#0000ff" stroke-width="1.1" fill="none"/><path d="M140.5 229.3V262.5 M147.2 231.7V243.7 M154.1 238.0V246.5 M163.5 227.4V258.2 M169.1 229.9V245.1 M176.5 239.0V243.5 M177.3 236.3V244.7 M185.1 230.2V260.4 M186.4 234.6V245.4 M199.3 236.5V243.1 M202.0 233.6V243.4 M202.7 227.7V245.0 M207.5 234.4V248.0 M217.4 233.3V246.4 M229.4 232.4V243.3 M234.2 240.3V260.9 M251.0 236.2V263.0 M258.7 232.4V263.6 M268.4 245.6V263.8 M275.4 245.3V261.1 M278.2 240.5V260.8 M915.0 248.1V277.6 M921.1 249.0V275.7 M924.6 255.7V278.1 M937.2 249.4V277.8 M939.9 250.9V300.5 M943.6 250.4V278.0 M960.9 252.4V276.1 M970.0 250.1V277.3 M1006.5 252.0V276.0 M1013.9 246.7V277.3 M1016.3 247.2V276.3 M1023.3 246.9V275.7 M1025.7 247.0V278.1 M1037.4 246.3V276.8 M1059.1 231.5V261.5 M1062.4 232.0V258.7 M1063.9 243.7V263.0 M1065.3 239.1V257.3 M1073.1 227.0V257.5 M1075.0 244.8V262.4 M1075.9 242.8V278.9 M1076.6 226.1V261.4 M1087.3 243.1V258.0 M1093.9 236.1V257.4 M1098.3 240.1V262.5 M1112.2 241.2V260.7 M1115.9 233.2V260.0 M1122.7 228.3V262.5 M1139.7 239.6V262.4 M1140.4 232.3V258.1 M1145.3 227.8V260.7 M1157.0 239.8V260.7 M1161.3 228.3V258.5 M1168.3 250.8V276.5 M1180.9 254.2V273.7 M1181.8 249.0V274.8 M1188.2 254.5V273.5 M1254.8 214.4V258.8 M1261.1 216.7V238.9 M1270.4 218.9V237.6 M1272.2 219.9V237.6 M1276.0 219.7V235.1 M1288.0 216.1V237.2 M1288.6 216.9V238.6 M1298.8 217.6V238.5 M1300.5 215.5V235.2 M1327.3 224.3V237.6 M1330.1 219.0V237.1 M1367.7 240.3V258.7 M1372.7 233.5V259.1 M1376.2 238.8V260.1 M1405.8 233.9V257.4 M1432.7 242.5V256.1 M1434.8 240.7V259.4 M1437.8 242.1V259.2 M1441.3 233.6V259.8 M1442.8 234.0V257.0 M1444.7 236.3V257.1 M1446.0 239.4V256.8 M1446.8 239.0V259.0 M1447.5 237.5V258.4 M1449.6 243.4V259.2 M1467.5 217.0V234.6" stroke="#0000ff" stroke-width="0.6" fill="none"/><path d="M135.5 229.5V247.8 M136.7 239.2V242.5 M141.6 235.4V246.8 M142.3 229.1V258.6 M148.1 234.4V246.8 M149.5 237.7V260.7 M153.7 235.6V242.8 M162.0 231.5V259.8 M164.1 232.0V246.0 M167.6 230.5V242.7 M175.9 239.9V244.4 M181.5 231.8V261.1 M187.8 231.8V244.3 M188.5 228.5V243.3 M193.5 229.0V242.4 M199.6 237.3V261.2 M201.1 229.8V245.9 M206.2 234.1V244.3 M212.3 231.1V247.5 M214.5 238.1V247.3 M223.5 230.8V243.2 M232.2 240.8V259.1 M244.2 234.5V259.8 M250.2 245.7V265.4 M254.3 246.3V260.5 M260.0 241.2V274.6 M263.6 243.7V265.4 M264.5 231.3V278.3 M265.1 241.3V279.1 M265.9 238.6V265.8 M271.5 235.0V261.2 M281.0 236.8V263.9 M283.9 235.6V278.2 M284.4 240.3V264.5 M907.2 255.9V276.2 M908.4 249.6V278.2 M909.1 251.9V278.1 M911.3 251.9V276.0 M923.8 250.4V277.2 M926.8 251.3V275.7 M928.1 254.2V299.5 M930.7 253.6V277.3 M933.1 250.3V277.3 M938.0 247.7V277.1 M948.5 246.5V275.9 M962.4 248.5V278.3 M963.2 248.1V277.0 M968.9 251.5V277.5 M977.1 250.7V278.2 M996.9 253.2V290.8 M1001.0 253.2V293.0 M1002.7 260.6V300.3 M1003.5 263.5V303.7 M1007.4 254.9V276.5 M1010.2 250.5V277.3 M1010.8 253.3V276.7 M1011.5 254.3V275.9 M1020.2 247.6V276.1 M1021.6 246.9V277.3 M1021.9 252.7V276.6 M1022.6 246.3V276.3 M1024.0 253.7V276.5 M1026.4 249.2V276.6 M1027.8 251.2V277.8 M1029.2 251.5V278.2 M1029.9 250.0V276.5 M1039.6 248.9V276.1 M1057.7 228.2V259.1 M1074.3 244.9V258.9 M1080.3 236.8V261.2 M1082.7 238.2V260.4 M1089.1 231.2V258.8 M1094.7 229.7V257.6 M1101.0 237.5V258.7 M1103.0 244.8V259.6 M1108.3 237.1V259.7 M1114.5 238.0V261.7 M1119.4 242.8V261.3 M1122.0 227.2V277.9 M1129.6 232.6V258.7 M1138.7 231.5V260.6 M1141.7 227.1V279.9 M1142.5 241.5V257.3 M1152.9 234.0V258.0 M1165.0 253.7V273.9 M1165.9 248.6V274.9 M1171.3 250.8V274.6 M1173.5 251.0V275.3 M1174.8 254.9V275.1 M1177.5 254.4V276.0 M1179.7 252.6V275.2 M1183.7 255.5V275.9 M1185.2 251.7V274.1 M1188.8 248.4V273.6 M1190.9 252.0V275.7 M1192.8 258.7V276.8 M1194.6 256.8V275.9 M1197.8 253.9V276.1 M1198.6 255.2V277.9 M1199.3 254.8V276.3 M1204.8 254.8V277.6 M1205.5 244.4V257.2 M1207.1 241.9V257.0 M1211.9 240.3V256.6 M1233.4 244.1V258.2 M1240.9 244.4V258.4 M1253.6 219.6V235.3 M1255.6 213.4V258.5 M1263.3 217.1V238.7 M1264.0 214.6V257.1 M1267.4 219.7V235.5 M1268.9 215.1V235.2 M1270.8 218.3V238.8 M1276.7 215.7V236.9 M1280.2 215.4V235.6 M1284.2 216.6V236.7 M1298.1 218.4V237.2 M1301.1 213.1V236.8 M1316.6 217.5V235.7 M1317.5 217.7V238.3 M1319.4 226.2V238.2 M1335.4 225.5V262.7 M1361.4 240.9V259.2 M1364.4 234.4V257.5 M1365.4 239.4V259.5 M1369.2 236.6V260.1 M1369.7 242.3V259.0 M1370.5 244.0V257.3 M1371.2 239.2V260.8 M1372.0 232.3V260.5 M1373.2 241.2V258.0 M1375.4 236.5V257.5 M1403.6 241.5V259.5 M1404.1 242.2V257.4 M1406.9 240.0V257.0 M1431.5 237.9V257.2 M1434.4 235.3V259.3 M1436.5 232.7V258.2 M1439.1 242.5V256.7 M1439.8 238.4V257.9 M1440.5 240.5V259.1 M1448.4 233.3V258.5 M1449.0 234.0V257.6 M1451.6 237.3V258.7" stroke="#0000ff" stroke-width="0.9" fill="none"/><path d="M152.2 237.9V247.3 M153.0 233.4V243.5 M158.5 229.6V245.5 M171.1 236.3V258.0 M171.7 229.1V258.9 M179.3 236.9V260.3 M180.1 239.5V243.3 M182.1 229.8V247.0 M183.0 237.6V244.0 M183.8 237.2V262.1 M184.5 227.5V259.2 M194.8 230.3V258.8 M195.6 227.1V247.5 M197.0 237.1V243.1 M197.6 240.0V242.0 M222.2 233.5V247.1 M222.7 235.1V246.0 M226.4 229.0V245.0 M227.2 237.1V243.0 M228.3 234.2V246.9 M248.3 235.1V265.9 M259.4 245.5V260.8 M266.4 239.8V262.7 M270.1 245.4V261.8 M272.6 233.6V259.7 M273.4 240.7V263.7 M276.7 248.0V262.9 M280.2 234.0V260.1 M905.7 248.7V278.5 M910.5 250.8V276.8 M922.7 249.7V277.7 M926.0 252.4V275.9 M927.5 250.3V277.8 M934.4 249.0V276.4 M936.4 251.1V275.9 M942.0 255.3V276.7 M946.9 247.4V277.6 M947.9 256.0V277.2 M949.0 253.3V277.1 M954.6 254.1V275.9 M961.9 255.3V275.8 M965.1 253.7V276.2 M967.4 251.0V277.5 M969.3 251.6V276.1 M974.4 254.6V276.8 M993.2 254.8V276.7 M995.2 254.6V276.3 M1008.0 246.4V277.0 M1017.3 252.7V276.8 M1035.3 250.0V275.8 M1040.8 252.9V277.1 M1063.2 241.7V260.6 M1066.3 239.1V279.0 M1066.6 241.4V258.3 M1081.5 241.9V259.4 M1083.5 232.0V258.8 M1096.7 244.5V281.7 M1106.1 230.0V260.2 M1106.6 241.2V257.6 M1107.4 242.3V260.7 M1117.3 240.5V280.5 M1126.3 233.0V261.6 M1135.5 240.5V261.3 M1136.1 231.2V282.3 M1141.2 238.8V261.1 M1150.8 230.1V280.1 M1152.3 226.0V259.5 M1158.7 239.2V261.6 M1171.9 250.1V273.8 M1201.5 254.0V277.1 M1209.1 249.7V256.8 M1254.2 216.7V236.2 M1259.2 212.0V237.2 M1273.3 218.3V236.6 M1274.6 218.8V238.6 M1278.0 214.0V259.3 M1286.4 217.5V238.9 M1291.1 212.6V235.8 M1293.3 218.3V237.0 M1331.2 227.8V236.3 M1368.2 235.3V258.2 M1401.3 238.7V259.7 M1443.4 241.3V257.9 M1453.5 217.2V234.4" stroke="#0000ff" stroke-width="1.2" fill="none"/><path d="M1058.6 236.8V262.5 M1072.5 239.0V282.2 M1085.7 230.0V280.0 M1090.5 232.6V259.9 M1091.4 234.8V261.8 M1092.0 232.7V262.8 M1092.8 230.9V257.1 M1099.2 239.9V258.7 M1099.7 229.7V257.8 M1113.1 231.6V280.2 M1115.0 234.7V261.5 M1120.8 240.9V277.1 M1144.7 235.1V278.1 M1145.9 230.0V257.2 M1146.7 231.7V277.8 M1148.2 226.2V260.1 M1153.6 233.9V261.2 M1155.6 234.3V262.6 M1159.2 234.6V262.7 M1160.1 228.2V261.2 M1164.3 233.1V257.9 M1164.8 245.4V262.1" stroke="#0000ff" stroke-width="1.5" fill="none"/><path d="M300.0 278.4V301.0 M303.5 278.2V301.0 M331.0 275.3V301.0 M360.0 295.6V301.0 M380.5 295.0V301.0 M392.5 296.1V301.0 M565.0 291.4V301.0 M573.0 292.0V301.0 M598.0 275.9V301.0 M655.0 273.2V301.0 M663.0 276.3V301.0 M682.0 279.8V301.0 M685.0 277.6V301.0 M705.0 273.3V301.0 M713.0 278.2V301.0 M715.0 276.3V301.0 M756.0 276.1V301.0 M786.0 277.5V301.0 M796.7 279.9V301.0 M798.3 279.6V301.0 M845.0 277.2V301.0 M850.0 277.3V301.0 M853.3 279.3V301.0 M856.7 278.3V301.0 M876.7 278.3V301.0 M804.0 291.8V301.0 M230.6 234.0V262.0 M261.6 233.3V262.0 M262.4 231.8V262.0" stroke="#0000ff" stroke-width="1.0" fill="none"/><path d="M298.0 279.6V301.0 M302.0 280.5V301.0 M363.5 295.5V301.0 M367.0 296.0V301.0 M370.0 295.2V301.0 M383.0 295.5V301.0 M493.3 274.1V301.0 M538.3 276.5V301.0 M549.0 274.6V301.0 M558.3 275.0V301.0 M577.7 274.5V301.0 M593.0 275.7V301.0 M610.0 272.8V301.0 M612.0 274.7V301.0 M617.0 274.1V301.0 M620.0 278.6V301.0 M627.0 273.3V301.0 M637.0 272.2V301.0 M638.0 279.6V301.0 M643.0 276.2V301.0 M683.0 278.9V301.0 M693.0 274.1V301.0 M703.0 274.9V301.0 M721.0 278.2V301.0 M729.0 274.6V301.0 M596.0 286.3V301.0 M632.0 290.9V301.0 M669.0 289.8V301.0 M690.0 289.9V301.0 M708.0 289.4V301.0 M700.7 251.0V301.0 M742.7 273.8V301.0 M766.7 272.2V301.0 M771.7 272.2V301.0 M776.0 274.2V301.0 M787.3 279.7V301.0 M793.3 279.5V301.0 M822.7 273.6V301.0 M830.0 279.2V301.0 M838.3 275.8V301.0 M846.7 278.4V301.0 M848.3 272.7V301.0 M860.0 278.0V301.0 M865.0 275.8V301.0 M873.3 273.4V301.0 M883.3 274.7V301.0 M762.0 290.8V301.0 M809.0 288.4V301.0 M841.0 288.4V301.0 M869.0 291.7V301.0 M880.7 260.0V301.0 M248.3 220.9V262.0 M229.8 234.5V262.0 M231.4 230.7V262.0 M232.2 234.1V262.0 M279.6 221.1V262.0 M280.4 225.9V262.0 M281.2 224.2V262.0" stroke="#0000ff" stroke-width="1.2" fill="none"/><path d="M391.0 295.3V301.0 M526.7 277.5V301.0 M560.0 275.4V301.0 M570.7 275.5V301.0 M603.0 272.7V301.0 M674.0 272.2V301.0 M678.0 276.2V301.0 M608.0 289.9V301.0 M650.0 290.1V301.0 M758.3 274.8V301.0 M780.0 274.1V301.0 M789.3 275.6V301.0 M801.7 274.9V301.0 M813.3 273.8V301.0 M818.3 273.8V301.0 M820.0 273.6V301.0 M826.7 277.0V301.0 M833.3 278.7V301.0 M247.5 223.6V262.0 M249.1 220.6V262.0 M249.9 220.8V262.0 M260.8 234.9V262.0 M263.2 232.7V262.0 M278.8 221.7V262.0" stroke="#0000ff" stroke-width="1.4" fill="none"/><path d="M438.5 306.0V320.0 M588.5 306.0V324.0 M890.5 306.0V312.0" stroke="#0000ff" stroke-width="1.4" fill="none"/><line x1="288.4" y1="68.5" x2="288.4" y2="307" stroke="#000" stroke-width="3.8" stroke-linecap="round"/><line x1="438.7" y1="68.5" x2="438.7" y2="307" stroke="#000" stroke-width="3.8" stroke-linecap="round"/><line x1="587" y1="68.5" x2="587" y2="307" stroke="#000" stroke-width="3.8" stroke-linecap="round"/><line x1="739.6" y1="68.5" x2="739.6" y2="307" stroke="#000" stroke-width="3.8" stroke-linecap="round"/><line x1="890.2" y1="68.5" x2="890.2" y2="307" stroke="#000" stroke-width="3.8" stroke-linecap="round"/><line x1="1042.4" y1="68.5" x2="1042.4" y2="307" stroke="#000" stroke-width="3.8" stroke-linecap="round"/><line x1="1193" y1="68.5" x2="1193" y2="307" stroke="#000" stroke-width="3.8" stroke-linecap="round"/><line x1="1345.2" y1="68.5" x2="1345.2" y2="307" stroke="#000" stroke-width="3.8" stroke-linecap="round"/><path d="M748.9 317.4 V341.8 H900.5" fill="none" stroke="#000" stroke-width="3.8" stroke-linecap="round" stroke-linejoin="miter"/><text font-family="Liberation Sans, sans-serif" font-size="100.0" fill="#000" transform="matrix(0.33315 0 0 0.33232 665.03 340.20)">3 pA</text><g transform="matrix(0.34496 0 0 0.32627 795.54 372.68)"><path fill="#000" d="M 37.256 -0.000 L 28.467 -0.000 L 28.467 -53.828 C 26.367 -51.904 23.584 -49.933 20.117 -48.009 C 16.650 -46.038 13.574 -44.583 10.889 -43.551 L 10.889 -51.716 C 15.771 -53.922 20.068 -56.597 23.730 -59.741 C 27.393 -62.886 29.980 -65.889 31.494 -68.799 L 37.256 -68.799 Z"/><text font-family="Liberation Sans, sans-serif" font-size="100.0" fill="#000" x="55.615" y="0">0 s</text></g><text font-family="Liberation Sans, sans-serif" font-size="100.0" font-weight="bold" fill="#000" transform="matrix(0.50208 0 0 0.46298 -0.71 446.55)">b</text><path d="M124.8 471.2 V804" fill="none" stroke="#000" stroke-width="3.7"/><path d="M124.6 805.5 H457.8" fill="none" stroke="#000" stroke-width="3.7"/><line x1="107.6" y1="774.1" x2="124.8" y2="774.1" stroke="#000" stroke-width="3.7"/><text font-family="Liberation Sans, sans-serif" font-size="100.0" fill="#000" transform="matrix(0.33155 0 0 0.34463 57.50 783.46)">0.0</text><line x1="107.6" y1="713.9" x2="124.8" y2="713.9" stroke="#000" stroke-width="3.7"/><text font-family="Liberation Sans, sans-serif" font-size="100.0" fill="#000" transform="matrix(0.33441 0 0 0.34463 57.49 723.22)">0.2</text><line x1="107.6" y1="653.6" x2="124.8" y2="653.6" stroke="#000" stroke-width="3.7"/><text font-family="Liberation Sans, sans-serif" font-size="100.0" fill="#000" transform="matrix(0.32910 0 0 0.34463 57.51 662.98)">0.4</text><line x1="107.6" y1="593.4" x2="124.8" y2="593.4" stroke="#000" stroke-width="3.7"/><text font-family="Liberation Sans, sans-serif" font-size="100.0" fill="#000" transform="matrix(0.33279 0 0 0.34463 57.50 602.74)">0.6</text><line x1="107.6" y1="533.1" x2="124.8" y2="533.1" stroke="#000" stroke-width="3.7"/><text font-family="Liberation Sans, sans-serif" font-size="100.0" fill="#000" transform="matrix(0.33267 0 0 0.34463 57.50 542.50)">0.8</text><line x1="107.6" y1="472.9" x2="124.8" y2="472.9" stroke="#000" stroke-width="3.7"/><g transform="matrix(0.33731 0 0 0.34300 56.73 482.30)"><path fill="#000" d="M 37.256 -0.000 L 28.467 -0.000 L 28.467 -53.828 C 26.367 -51.904 23.584 -49.933 20.117 -48.009 C 16.650 -46.038 13.574 -44.583 10.889 -43.551 L 10.889 -51.716 C 15.771 -53.922 20.068 -56.597 23.730 -59.741 C 27.393 -62.886 29.980 -65.889 31.494 -68.799 L 37.256 -68.799 Z"/><text font-family="Liberation Sans, sans-serif" font-size="100.0" fill="#000" x="55.615" y="0">.0</text></g><line x1="134.2" y1="805" x2="134.2" y2="815.2" stroke="#000" stroke-width="3.7"/><line x1="179.8" y1="805" x2="179.8" y2="815.2" stroke="#000" stroke-width="3.7"/><line x1="226.0" y1="805" x2="226.0" y2="815.2" stroke="#000" stroke-width="3.7"/><line x1="272.3" y1="805" x2="272.3" y2="815.2" stroke="#000" stroke-width="3.7"/><line x1="318.0" y1="805" x2="318.0" y2="815.2" stroke="#000" stroke-width="3.7"/><line x1="364.3" y1="805" x2="364.3" y2="815.2" stroke="#000" stroke-width="3.7"/><line x1="409.6" y1="805" x2="409.6" y2="815.2" stroke="#000" stroke-width="3.7"/><line x1="456.0" y1="805" x2="456.0" y2="815.2" stroke="#000" stroke-width="3.7"/><text font-family="Liberation Sans, sans-serif" font-size="34" text-anchor="end" fill="#000" transform="translate(147.31 835.96) rotate(-45)">0</text><text font-family="Liberation Sans, sans-serif" font-size="34" text-anchor="end" fill="#000" transform="translate(197.52 835.76) rotate(-45)">0.3</text><g transform="translate(243.31 835.23) rotate(-45)"><path fill="#000" d="M -6.242 -0.000 L -9.230 -0.000 L -9.230 -18.302 C -9.944 -17.647 -10.891 -16.977 -12.069 -16.323 C -13.248 -15.653 -14.294 -15.158 -15.207 -14.807 L -15.207 -17.584 C -13.547 -18.334 -12.086 -19.243 -10.841 -20.312 C -9.596 -21.381 -8.716 -22.402 -8.201 -23.392 L -6.242 -23.392 Z"/></g><text font-family="Liberation Sans, sans-serif" font-size="34" text-anchor="end" fill="#000" transform="translate(287.32 835.96) rotate(-45)">3</text><g transform="translate(337.01 835.66) rotate(-45)"><path fill="#000" d="M -25.151 -0.000 L -28.140 -0.000 L -28.140 -18.302 C -28.854 -17.647 -29.800 -16.977 -30.979 -16.323 C -32.157 -15.653 -33.203 -15.158 -34.116 -14.807 L -34.116 -17.584 C -32.456 -18.334 -30.995 -19.243 -29.750 -20.312 C -28.505 -21.381 -27.625 -22.402 -27.110 -23.392 L -25.151 -23.392 Z"/><text font-family="Liberation Sans, sans-serif" font-size="34" fill="#000" x="-18.909" y="0">0</text></g><text font-family="Liberation Sans, sans-serif" font-size="34" text-anchor="end" fill="#000" transform="translate(382.01 835.66) rotate(-45)">30</text><g transform="translate(430.31 835.86) rotate(-45)"><path fill="#000" d="M -44.061 -0.000 L -47.049 -0.000 L -47.049 -18.302 C -47.763 -17.647 -48.709 -16.977 -49.888 -16.323 C -51.066 -15.653 -52.112 -15.158 -53.025 -14.807 L -53.025 -17.584 C -51.365 -18.334 -49.904 -19.243 -48.659 -20.312 C -47.414 -21.381 -46.534 -22.402 -46.020 -23.392 L -44.061 -23.392 Z"/><text font-family="Liberation Sans, sans-serif" font-size="34" fill="#000" x="-37.818" y="0">00</text></g><text font-family="Liberation Sans, sans-serif" font-size="34" text-anchor="end" fill="#000" transform="translate(476.11 835.86) rotate(-45)">300</text><text font-family="Liberation Sans, sans-serif" font-size="100.0" fill="#000" transform="matrix(0.38532 0 0 0.42372 210.74 906.89)">Ca</text><text font-family="Liberation Sans, sans-serif" font-size="100.0" fill="#000" transform="matrix(0.28159 0 0 0.26782 261.28 890.70)">2+</text><text font-family="Liberation Sans, sans-serif" font-size="100.0" fill="#000" transform="matrix(0.40335 0 0 0.40123 304.80 906.37)">(µM)</text><text font-family="Liberation Sans, sans-serif" font-size="100.0" fill="#000" transform="matrix(0 -0.39893 0.39760 0 33.81 754.77)">Normalized</text><text font-family="Liberation Sans, sans-serif" font-size="100.0" font-style="italic" fill="#000" transform="matrix(0 -0.41595 0.40408 0 33.50 541.18)">P</text><text font-family="Liberation Sans, sans-serif" font-size="100.0" fill="#000" transform="matrix(0 -0.26223 0.26553 0 43.34 514.14)">O</text><rect x="137.1" y="472.9" width="12.5" height="12.5" fill="none" stroke="#0000ff" stroke-width="3"/><circle cx="143.4" cy="520.7" r="7.2" fill="none" stroke="#ff0000" stroke-width="3"/><g transform="matrix(0.33837 0 0 0.34200 181.06 490.60)"><text font-family="Liberation Sans, sans-serif" font-size="100.0" fill="#000" x="0.000" y="0">SLO-2+BKIP-</text><path fill="#000" d="M 645.850 -0.000 L 637.061 -0.000 L 637.061 -53.828 C 634.961 -51.904 632.178 -49.933 628.711 -48.009 C 625.244 -46.038 622.168 -44.583 619.482 -43.551 L 619.482 -51.716 C 624.365 -53.922 628.662 -56.597 632.324 -59.741 C 635.986 -62.886 638.574 -65.889 640.088 -68.799 L 645.850 -68.799 Z"/></g><text font-family="Liberation Sans, sans-serif" font-size="100.0" fill="#000" transform="matrix(0.33638 0 0 0.33898 181.17 531.97)">SLO-2</text><path d="M134.0 771.7 V776.5 M124.7 771.7 H143.3 M124.7 776.5 H143.3" stroke="#0000ff" stroke-width="3.6" stroke-linecap="round" fill="none"/><path d="M177.9 771.7 V776.5 M168.6 771.7 H187.2 M168.6 776.5 H187.2" stroke="#0000ff" stroke-width="3.6" stroke-linecap="round" fill="none"/><path d="M226.0 751.2 V758.4 M216.7 751.2 H235.3 M216.7 758.4 H235.3" stroke="#0000ff" stroke-width="3.6" stroke-linecap="round" fill="none"/><path d="M269.9 741.6 V753.6 M260.6 741.6 H279.2 M260.6 753.6 H279.2" stroke="#0000ff" stroke-width="3.6" stroke-linecap="round" fill="none"/><path d="M318.0 649.7 V682.2 M308.7 649.7 H327.3 M308.7 682.2 H327.3" stroke="#0000ff" stroke-width="3.6" stroke-linecap="round" fill="none"/><path d="M361.9 593.1 V626.8 M352.6 593.1 H371.2 M352.6 626.8 H371.2" stroke="#0000ff" stroke-width="3.6" stroke-linecap="round" fill="none"/><path d="M410.0 508.4 V526.5 M400.7 508.4 H419.3 M400.7 526.5 H419.3" stroke="#0000ff" stroke-width="3.6" stroke-linecap="round" fill="none"/><rect x="127.7" y="767.8" width="12.6" height="12.6" fill="#fff" stroke="#0000ff" stroke-width="3.8"/><rect x="171.6" y="767.8" width="12.6" height="12.6" fill="#fff" stroke="#0000ff" stroke-width="3.8"/><rect x="219.7" y="748.5" width="12.6" height="12.6" fill="#fff" stroke="#0000ff" stroke-width="3.8"/><rect x="263.6" y="741.3" width="12.6" height="12.6" fill="#fff" stroke="#0000ff" stroke-width="3.8"/><rect x="311.7" y="659.7" width="12.6" height="12.6" fill="#fff" stroke="#0000ff" stroke-width="3.8"/><rect x="355.6" y="603.6" width="12.6" height="12.6" fill="#fff" stroke="#0000ff" stroke-width="3.8"/><rect x="403.7" y="511.2" width="12.6" height="12.6" fill="#fff" stroke="#0000ff" stroke-width="3.8"/><rect x="447.6" y="466.6" width="12.6" height="12.6" fill="#fff" stroke="#0000ff" stroke-width="3.8"/><path d="M134.0 771.7 V776.5 M124.7 771.7 H143.3 M124.7 776.5 H143.3" stroke="#ff0000" stroke-width="3.6" stroke-linecap="round" fill="none"/><path d="M177.9 771.7 V776.5 M168.6 771.7 H187.2 M168.6 776.5 H187.2" stroke="#ff0000" stroke-width="3.6" stroke-linecap="round" fill="none"/><path d="M226.0 734.8 V746.5 M216.7 734.8 H235.3 M216.7 746.5 H235.3" stroke="#ff0000" stroke-width="3.6" stroke-linecap="round" fill="none"/><path d="M269.9 730.2 V746.9 M260.6 730.2 H279.2 M260.6 746.9 H279.2" stroke="#ff0000" stroke-width="3.6" stroke-linecap="round" fill="none"/><path d="M318.0 632.4 V659.2 M308.7 632.4 H327.3 M308.7 659.2 H327.3" stroke="#ff0000" stroke-width="3.6" stroke-linecap="round" fill="none"/><path d="M361.9 587.7 V613.6 M352.6 587.7 H371.2 M352.6 613.6 H371.2" stroke="#ff0000" stroke-width="3.6" stroke-linecap="round" fill="none"/><path d="M410.0 508.7 V535.9 M400.7 508.7 H419.3 M400.7 535.9 H419.3" stroke="#ff0000" stroke-width="3.6" stroke-linecap="round" fill="none"/><circle cx="134.0" cy="774.1" r="7.2" fill="#fff" stroke="#ff0000" stroke-width="3.8"/><circle cx="177.9" cy="774.1" r="7.2" fill="#fff" stroke="#ff0000" stroke-width="3.8"/><circle cx="226.0" cy="740.7" r="7.2" fill="#fff" stroke="#ff0000" stroke-width="3.8"/><circle cx="269.9" cy="738.6" r="7.2" fill="#fff" stroke="#ff0000" stroke-width="3.8"/><circle cx="318.0" cy="645.8" r="7.2" fill="#fff" stroke="#ff0000" stroke-width="3.8"/><circle cx="361.9" cy="600.6" r="7.2" fill="#fff" stroke="#ff0000" stroke-width="3.8"/><circle cx="410.0" cy="522.3" r="7.2" fill="#fff" stroke="#ff0000" stroke-width="3.8"/><circle cx="453.9" cy="472.9" r="7.2" fill="#fff" stroke="#ff0000" stroke-width="3.8"/><polyline points="134.0,768.8 136.0,768.6 138.0,768.4 140.0,768.2 142.0,768.0 144.0,767.8 146.0,767.6 148.0,767.3 150.0,767.1 152.0,766.8 154.0,766.6 156.0,766.3 158.0,766.0 160.0,765.7 162.0,765.4 164.0,765.1 166.0,764.8 168.0,764.4 170.0,764.1 172.0,763.7 174.0,763.3 176.0,762.9 178.0,762.5 180.0,762.1 182.0,761.7 184.0,761.2 186.0,760.8 188.0,760.3 190.0,759.8 192.0,759.3 194.0,758.7 196.0,758.2 198.0,757.6 200.0,757.0 202.0,756.4 204.0,755.7 206.0,755.1 208.0,754.4 210.0,753.7 212.0,752.9 214.0,752.2 216.0,751.4 218.0,750.6 220.0,749.8 222.0,748.9 224.0,748.0 226.0,747.1 228.0,746.1 230.0,745.1 232.0,744.1 234.0,743.1 236.0,742.0 238.0,740.9 240.0,739.7 242.0,738.5 244.0,737.3 246.0,736.0 248.0,734.7 250.0,733.4 252.0,732.0 254.0,730.6 256.0,729.1 258.0,727.6 260.0,726.1 262.0,724.5 264.0,722.8 266.0,721.1 268.0,719.4 270.0,717.6 272.0,715.8 274.0,714.0 276.0,712.1 278.0,710.1 280.0,708.1 282.0,706.0 284.0,703.9 286.0,701.8 287.9,699.6 289.9,697.3 291.9,695.0 293.9,692.7 295.9,690.3 297.9,687.8 299.9,685.4 301.9,682.8 303.9,680.2 305.9,677.6 307.9,674.9 309.9,672.2 311.9,669.5 313.9,666.7 315.9,663.8 317.9,660.9 319.9,658.0 321.9,655.1 323.9,652.1 325.9,649.0 327.9,646.0 329.9,642.9 331.9,639.8 333.9,636.6 335.9,633.5 337.9,630.3 339.9,627.0 341.9,623.8 343.9,620.6 345.9,617.3 347.9,614.0 349.9,610.7 351.9,607.5 353.9,604.2 355.9,600.9 357.9,597.6 359.9,594.3 361.9,591.0 363.9,587.7 365.9,584.4 367.9,581.2 369.9,577.9 371.9,574.7 373.9,571.5 375.9,568.3 377.9,565.1 379.9,562.0 381.9,558.9 383.9,555.8 385.9,552.8 387.9,549.7 389.9,546.7 391.9,543.8 393.9,540.9 395.9,538.0 397.9,535.2 399.9,532.4 401.9,529.6 403.9,526.9 405.9,524.3 407.9,521.7 409.9,519.1 411.9,516.6 413.9,514.1 415.9,511.6 417.9,509.3 419.9,506.9 421.9,504.6 423.9,502.4 425.9,500.2 427.9,498.1 429.9,496.0 431.9,493.9 433.9,491.9 435.9,490.0 437.9,488.1 439.9,486.2 441.9,484.4 443.9,482.7 445.9,481.0 447.9,479.3 449.9,477.7 451.9,476.1 453.9,474.5" fill="none" stroke="#ff0000" stroke-width="4" stroke-linejoin="round" stroke-linecap="round"/><polyline points="134.0,771.1 136.0,771.0 138.0,770.8 140.0,770.7 142.0,770.5 144.0,770.4 146.0,770.2 148.0,770.0 150.0,769.9 152.0,769.7 154.0,769.5 156.0,769.3 158.0,769.1 160.0,768.8 162.0,768.6 164.0,768.4 166.0,768.1 168.0,767.9 170.0,767.6 172.0,767.3 174.0,767.0 176.0,766.7 178.0,766.4 180.0,766.1 182.0,765.7 184.0,765.4 186.0,765.0 188.0,764.6 190.0,764.2 192.0,763.8 194.0,763.4 196.0,762.9 198.0,762.5 200.0,762.0 202.0,761.5 204.0,761.0 206.0,760.4 208.0,759.9 210.0,759.3 212.0,758.7 214.0,758.1 216.0,757.4 218.0,756.8 220.0,756.1 222.0,755.3 224.0,754.6 226.0,753.8 228.0,753.0 230.0,752.2 232.0,751.3 234.0,750.4 236.0,749.4 238.0,748.5 240.0,747.5 242.0,746.4 244.0,745.4 246.0,744.3 248.0,743.1 250.0,741.9 252.0,740.7 254.0,739.4 256.0,738.1 258.0,736.8 260.0,735.4 262.0,734.0 264.0,732.5 266.0,730.9 268.0,729.4 270.0,727.7 272.0,726.1 274.0,724.3 276.0,722.5 278.0,720.7 280.0,718.8 282.0,716.9 284.0,714.9 286.0,712.9 287.9,710.8 289.9,708.6 291.9,706.4 293.9,704.1 295.9,701.8 297.9,699.5 299.9,697.0 301.9,694.5 303.9,692.0 305.9,689.4 307.9,686.8 309.9,684.1 311.9,681.3 313.9,678.5 315.9,675.6 317.9,672.7 319.9,669.8 321.9,666.8 323.9,663.7 325.9,660.6 327.9,657.5 329.9,654.3 331.9,651.1 333.9,647.8 335.9,644.5 337.9,641.2 339.9,637.8 341.9,634.5 343.9,631.0 345.9,627.6 347.9,624.2 349.9,620.7 351.9,617.2 353.9,613.7 355.9,610.2 357.9,606.7 359.9,603.1 361.9,599.6 363.9,596.1 365.9,592.6 367.9,589.1 369.9,585.6 371.9,582.1 373.9,578.7 375.9,575.2 377.9,571.8 379.9,568.4 381.9,565.0 383.9,561.7 385.9,558.4 387.9,555.1 389.9,551.9 391.9,548.7 393.9,545.5 395.9,542.4 397.9,539.4 399.9,536.3 401.9,533.4 403.9,530.4 405.9,527.6 407.9,524.7 409.9,522.0 411.9,519.2 413.9,516.6 415.9,514.0 417.9,511.4 419.9,508.9 421.9,506.4 423.9,504.1 425.9,501.7 427.9,499.4 429.9,497.2 431.9,495.0 433.9,492.9 435.9,490.9 437.9,488.8 439.9,486.9 441.9,485.0 443.9,483.1 445.9,481.3 447.9,479.6 449.9,477.9 451.9,476.3 453.9,474.7" fill="none" stroke="#0000ff" stroke-width="4" stroke-linejoin="round" stroke-linecap="round"/><path d="M641.4 471.3 V803.8 H972.5" fill="none" stroke="#000" stroke-width="3.7"/><line x1="624.2" y1="803.8" x2="641.4" y2="803.8" stroke="#000" stroke-width="3.7"/><line x1="624.2" y1="693.5" x2="641.4" y2="693.5" stroke="#000" stroke-width="3.7"/><line x1="624.2" y1="583.3" x2="641.4" y2="583.3" stroke="#000" stroke-width="3.7"/><line x1="624.2" y1="473.0" x2="641.4" y2="473.0" stroke="#000" stroke-width="3.7"/><g transform="matrix(0.33649 0 0 0.34300 571.64 483.50)"><path fill="#000" d="M 37.256 -0.000 L 28.467 -0.000 L 28.467 -53.828 C 26.367 -51.904 23.584 -49.933 20.117 -48.009 C 16.650 -46.038 13.574 -44.583 10.889 -43.551 L 10.889 -51.716 C 15.771 -53.922 20.068 -56.597 23.730 -59.741 C 27.393 -62.886 29.980 -65.889 31.494 -68.799 L 37.256 -68.799 Z"/><text font-family="Liberation Sans, sans-serif" font-size="100.0" fill="#000" x="55.615" y="0">.5</text></g><g transform="matrix(0.34133 0 0 0.34300 571.38 594.50)"><path fill="#000" d="M 37.256 -0.000 L 28.467 -0.000 L 28.467 -53.828 C 26.367 -51.904 23.584 -49.933 20.117 -48.009 C 16.650 -46.038 13.574 -44.583 10.889 -43.551 L 10.889 -51.716 C 15.771 -53.922 20.068 -56.597 23.730 -59.741 C 27.393 -62.886 29.980 -65.889 31.494 -68.799 L 37.256 -68.799 Z"/><text font-family="Liberation Sans, sans-serif" font-size="100.0" fill="#000" x="55.615" y="0">.0</text></g><text font-family="Liberation Sans, sans-serif" font-size="100.0" fill="#000" transform="matrix(0.33153 0 0 0.33615 572.20 704.67)">0.5</text><text font-family="Liberation Sans, sans-serif" font-size="100.0" fill="#000" transform="matrix(0.33231 0 0 0.32768 572.30 814.88)">0.0</text><text font-family="Liberation Sans, sans-serif" font-size="100.0" fill="#000" transform="matrix(0 -0.39752 0.38514 0 551.91 687.71)">Slope</text><text font-family="Liberation Sans, sans-serif" font-size="100.0" fill="#000" transform="matrix(0.33710 0 0 0.34180 666.37 841.57)">SLO-2</text><text font-family="Liberation Sans, sans-serif" font-size="100.0" fill="#000" transform="matrix(0.33638 0 0 0.33757 849.67 841.67)">SLO-2</text><g transform="matrix(0.33499 0 0 0.34012 836.06 882.50)"><text font-family="Liberation Sans, sans-serif" font-size="100.0" fill="#000" x="0.000" y="0">+BKIP-</text><path fill="#000" d="M 356.836 -0.000 L 348.047 -0.000 L 348.047 -53.828 C 345.947 -51.904 343.164 -49.933 339.697 -48.009 C 336.230 -46.038 333.154 -44.583 330.469 -43.551 L 330.469 -51.716 C 335.352 -53.922 339.648 -56.597 343.311 -59.741 C 346.973 -62.886 349.561 -65.889 351.074 -68.799 L 356.836 -68.799 Z"/></g><circle cx="715.1" cy="547.1" r="3.7" fill="#ff0000" fill-opacity="0.31"/><circle cx="715.1" cy="584.3" r="3.7" fill="#ff0000" fill-opacity="0.31"/><circle cx="705.3" cy="610.4" r="3.7" fill="#ff0000" fill-opacity="0.31"/><circle cx="733.7" cy="610.4" r="3.7" fill="#ff0000" fill-opacity="0.31"/><circle cx="696.2" cy="620.6" r="3.7" fill="#ff0000" fill-opacity="0.31"/><circle cx="724.2" cy="622.5" r="3.7" fill="#ff0000" fill-opacity="0.31"/><circle cx="696.2" cy="630.3" r="3.7" fill="#ff0000" fill-opacity="0.31"/><circle cx="733.7" cy="629.7" r="3.7" fill="#ff0000" fill-opacity="0.31"/><circle cx="705.3" cy="637.5" r="3.7" fill="#ff0000" fill-opacity="0.31"/><circle cx="724.2" cy="651.6" r="3.7" fill="#ff0000" fill-opacity="0.31"/><circle cx="705.3" cy="677.7" r="3.7" fill="#ff0000" fill-opacity="0.31"/><circle cx="696.2" cy="696.3" r="3.7" fill="#ff0000" fill-opacity="0.31"/><circle cx="724.2" cy="700.5" r="3.7" fill="#ff0000" fill-opacity="0.31"/><circle cx="715.1" cy="711" r="3.7" fill="#ff0000" fill-opacity="0.31"/><circle cx="733.7" cy="711.3" r="3.7" fill="#ff0000" fill-opacity="0.31"/><path d="M898.6 513.8 L902.8000000000001 518 L898.6 522.2 L894.4 518 Z" fill="#0000ff" fill-opacity="0.29"/><path d="M898.6 570.4 L902.8000000000001 574.6 L898.6 578.8000000000001 L894.4 574.6 Z" fill="#0000ff" fill-opacity="0.29"/><path d="M901.6 596.5 L905.8000000000001 600.7 L901.6 604.9000000000001 L897.4 600.7 Z" fill="#0000ff" fill-opacity="0.29"/><path d="M907.6 597.0 L911.8000000000001 601.2 L907.6 605.4000000000001 L903.4 601.2 Z" fill="#0000ff" fill-opacity="0.29"/><path d="M878.6 603.0 L882.8000000000001 607.2 L878.6 611.4000000000001 L874.4 607.2 Z" fill="#0000ff" fill-opacity="0.29"/><path d="M884.1 610.5 L888.3000000000001 614.7 L884.1 618.9000000000001 L879.9 614.7 Z" fill="#0000ff" fill-opacity="0.29"/><path d="M913.1 610.5 L917.3000000000001 614.7 L913.1 618.9000000000001 L908.9 614.7 Z" fill="#0000ff" fill-opacity="0.29"/><path d="M919.1 618.5 L923.3000000000001 622.7 L919.1 626.9000000000001 L914.9 622.7 Z" fill="#0000ff" fill-opacity="0.29"/><path d="M893.1 616.0 L897.3000000000001 620.2 L893.1 624.4000000000001 L888.9 620.2 Z" fill="#0000ff" fill-opacity="0.29"/><path d="M890.1 624.8 L894.3000000000001 629 L890.1 633.2 L885.9 629 Z" fill="#0000ff" fill-opacity="0.29"/><path d="M901.6 641.5999999999999 L905.8000000000001 645.8 L901.6 650.0 L897.4 645.8 Z" fill="#0000ff" fill-opacity="0.29"/><path d="M907.6 659.0999999999999 L911.8000000000001 663.3 L907.6 667.5 L903.4 663.3 Z" fill="#0000ff" fill-opacity="0.29"/><path d="M901.6 693.5999999999999 L905.8000000000001 697.8 L901.6 702.0 L897.4 697.8 Z" fill="#0000ff" fill-opacity="0.29"/><path d="M895.6 708.1999999999999 L899.8000000000001 712.4 L895.6 716.6 L891.4 712.4 Z" fill="#0000ff" fill-opacity="0.29"/><path d="M669.5 642.8 H761.5 M715 631 V654 M704.5 631 H725.5 M704.5 654 H725.5" stroke="#e60000" stroke-width="4" stroke-linecap="round" fill="none"/><path d="M853 623.5 H944.5 M898.6 612.2 V634.8 M888.6 612.2 H908.6 M888.6 634.8 H908.6" stroke="#0000e6" stroke-width="4" stroke-linecap="round" fill="none"/><path d="M1158.1 472.2 V803.6 H1488.5" fill="none" stroke="#000" stroke-width="3.7"/><line x1="1141" y1="804.0" x2="1158.1" y2="804.0" stroke="#000" stroke-width="3.7"/><line x1="1141" y1="721.3" x2="1158.1" y2="721.3" stroke="#000" stroke-width="3.7"/><line x1="1141" y1="638.6" x2="1158.1" y2="638.6" stroke="#000" stroke-width="3.7"/><line x1="1141" y1="555.9" x2="1158.1" y2="555.9" stroke="#000" stroke-width="3.7"/><line x1="1141" y1="473.2" x2="1158.1" y2="473.2" stroke="#000" stroke-width="3.7"/><g transform="matrix(0.34045 0 0 0.34300 1061.09 483.30)"><path fill="#000" d="M 37.256 -0.000 L 28.467 -0.000 L 28.467 -53.828 C 26.367 -51.904 23.584 -49.933 20.117 -48.009 C 16.650 -46.038 13.574 -44.583 10.889 -43.551 L 10.889 -51.716 C 15.771 -53.922 20.068 -56.597 23.730 -59.741 C 27.393 -62.886 29.980 -65.889 31.494 -68.799 L 37.256 -68.799 Z"/><text font-family="Liberation Sans, sans-serif" font-size="100.0" fill="#000" x="55.615" y="0">000</text></g><g transform="matrix(0.34068 0 0 0.34300 1079.99 567.00)"><path fill="#000" d="M 37.256 -0.000 L 28.467 -0.000 L 28.467 -53.828 C 26.367 -51.904 23.584 -49.933 20.117 -48.009 C 16.650 -46.038 13.574 -44.583 10.889 -43.551 L 10.889 -51.716 C 15.771 -53.922 20.068 -56.597 23.730 -59.741 C 27.393 -62.886 29.980 -65.889 31.494 -68.799 L 37.256 -68.799 Z"/><text font-family="Liberation Sans, sans-serif" font-size="100.0" fill="#000" x="55.615" y="0">00</text></g><g transform="matrix(0.34531 0 0 0.34300 1098.44 649.70)"><path fill="#000" d="M 37.256 -0.000 L 28.467 -0.000 L 28.467 -53.828 C 26.367 -51.904 23.584 -49.933 20.117 -48.009 C 16.650 -46.038 13.574 -44.583 10.889 -43.551 L 10.889 -51.716 C 15.771 -53.922 20.068 -56.597 23.730 -59.741 C 27.393 -62.886 29.980 -65.889 31.494 -68.799 L 37.256 -68.799 Z"/><text font-family="Liberation Sans, sans-serif" font-size="100.0" fill="#000" x="55.615" y="0">0</text></g><g transform="translate(1118.02 731.60)"><path fill="#000" d="M 12.667 -0.000 L 9.679 -0.000 L 9.679 -18.302 C 8.965 -17.647 8.019 -16.977 6.840 -16.323 C 5.661 -15.653 4.615 -15.158 3.702 -14.807 L 3.702 -17.584 C 5.362 -18.334 6.823 -19.243 8.068 -20.312 C 9.313 -21.381 10.193 -22.402 10.708 -23.392 L 12.667 -23.392 Z"/></g><g transform="matrix(0.33405 0 0 0.34300 1090.50 815.00)"><text font-family="Liberation Sans, sans-serif" font-size="100.0" fill="#000" x="0.000" y="0">0.</text><path fill="#000" d="M 120.654 -0.000 L 111.865 -0.000 L 111.865 -53.828 C 109.766 -51.904 106.982 -49.933 103.516 -48.009 C 100.049 -46.038 96.973 -44.583 94.287 -43.551 L 94.287 -51.716 C 99.170 -53.922 103.467 -56.597 107.129 -59.741 C 110.791 -62.886 113.379 -65.889 114.893 -68.799 L 120.654 -68.799 Z"/></g><text font-family="Liberation Sans, sans-serif" font-size="100.0" font-style="italic" fill="#000" transform="matrix(0 -0.39303 0.40678 0 1060.60 713.61)">EC</text><text font-family="Liberation Sans, sans-serif" font-size="100.0" font-style="italic" fill="#000" transform="matrix(0 -0.24779 0.26836 0 1070.54 657.46)">50</text><text font-family="Liberation Sans, sans-serif" font-size="100.0" fill="#000" transform="matrix(0 -0.39258 0.40016 0 1061.20 626.63)">(µM)</text><text font-family="Liberation Sans, sans-serif" font-size="100.0" fill="#000" transform="matrix(0.33781 0 0 0.33898 1182.87 841.67)">SLO-2</text><text font-family="Liberation Sans, sans-serif" font-size="100.0" fill="#000" transform="matrix(0.33853 0 0 0.33898 1366.06 841.67)">SLO-2</text><g transform="matrix(0.33470 0 0 0.34012 1352.77 882.50)"><text font-family="Liberation Sans, sans-serif" font-size="100.0" fill="#000" x="0.000" y="0">+BKIP-</text><path fill="#000" d="M 356.836 -0.000 L 348.047 -0.000 L 348.047 -53.828 C 345.947 -51.904 343.164 -49.933 339.697 -48.009 C 336.230 -46.038 333.154 -44.583 330.469 -43.551 L 330.469 -51.716 C 335.352 -53.922 339.648 -56.597 343.311 -59.741 C 346.973 -62.886 349.561 -65.889 351.074 -68.799 L 356.836 -68.799 Z"/></g><circle cx="1235.2" cy="574.1" r="3.8" fill="#ff0000" fill-opacity="0.31"/><circle cx="1227.6" cy="580.2" r="3.8" fill="#ff0000" fill-opacity="0.31"/><circle cx="1231.1" cy="580.9" r="3.8" fill="#ff0000" fill-opacity="0.31"/><circle cx="1227.6" cy="589.2" r="3.8" fill="#ff0000" fill-opacity="0.31"/><circle cx="1235.2" cy="593.7" r="3.8" fill="#ff0000" fill-opacity="0.31"/><circle cx="1219.4" cy="613.9" r="3.8" fill="#ff0000" fill-opacity="0.31"/><circle cx="1227.6" cy="613.9" r="3.8" fill="#ff0000" fill-opacity="0.31"/><circle cx="1235.2" cy="614.4" r="3.8" fill="#ff0000" fill-opacity="0.31"/><circle cx="1235.2" cy="616.8" r="3.8" fill="#ff0000" fill-opacity="0.31"/><circle cx="1242.8" cy="620.4" r="3.8" fill="#ff0000" fill-opacity="0.31"/><circle cx="1250.7" cy="615.8" r="3.8" fill="#ff0000" fill-opacity="0.31"/><circle cx="1212.3" cy="636.7" r="3.8" fill="#ff0000" fill-opacity="0.31"/><circle cx="1227.6" cy="634.5" r="3.8" fill="#ff0000" fill-opacity="0.31"/><circle cx="1231.4" cy="639.2" r="3.8" fill="#ff0000" fill-opacity="0.31"/><path d="M1403.9 570.5 L1408.2 574.8 L1403.9 579.0999999999999 L1399.6000000000001 574.8 Z" fill="#0000ff" fill-opacity="0.29"/><path d="M1415.3 566.9000000000001 L1419.6 571.2 L1415.3 575.5 L1411.0 571.2 Z" fill="#0000ff" fill-opacity="0.29"/><path d="M1415.3 570.8000000000001 L1419.6 575.1 L1415.3 579.4 L1411.0 575.1 Z" fill="#0000ff" fill-opacity="0.29"/><path d="M1427 574.9000000000001 L1431.3 579.2 L1427 583.5 L1422.7 579.2 Z" fill="#0000ff" fill-opacity="0.29"/><path d="M1415.3 578.0 L1419.6 582.3 L1415.3 586.5999999999999 L1411.0 582.3 Z" fill="#0000ff" fill-opacity="0.29"/><path d="M1397.9 600.4000000000001 L1402.2 604.7 L1397.9 609.0 L1393.6000000000001 604.7 Z" fill="#0000ff" fill-opacity="0.29"/><path d="M1409.3 598.6 L1413.6 602.9 L1409.3 607.1999999999999 L1405.0 602.9 Z" fill="#0000ff" fill-opacity="0.29"/><path d="M1421.3 601.6 L1425.6 605.9 L1421.3 610.1999999999999 L1417.0 605.9 Z" fill="#0000ff" fill-opacity="0.29"/><path d="M1432.7 606.0 L1437.0 610.3 L1432.7 614.5999999999999 L1428.4 610.3 Z" fill="#0000ff" fill-opacity="0.29"/><path d="M1397.9 615.6 L1402.2 619.9 L1397.9 624.1999999999999 L1393.6000000000001 619.9 Z" fill="#0000ff" fill-opacity="0.29"/><path d="M1409.6 616.0 L1413.8999999999999 620.3 L1409.6 624.5999999999999 L1405.3 620.3 Z" fill="#0000ff" fill-opacity="0.29"/><path d="M1421.3 625.2 L1425.6 629.5 L1421.3 633.8 L1417.0 629.5 Z" fill="#0000ff" fill-opacity="0.29"/><path d="M1432.7 622.0 L1437.0 626.3 L1432.7 630.5999999999999 L1428.4 626.3 Z" fill="#0000ff" fill-opacity="0.29"/><path d="M1415.3 643.2 L1419.6 647.5 L1415.3 651.8 L1411.0 647.5 Z" fill="#0000ff" fill-opacity="0.29"/><path d="M1186.5 602.8 H1277 M1232 597.5 V608 M1222.0 597.5 H1242.0 M1222.0 608 H1242.0" stroke="#e60000" stroke-width="4" stroke-linecap="round" fill="none"/><path d="M1369.5 596.3 H1460.5 M1415.3 591 V602 M1405.3 591 H1425.3 M1405.3 602 H1425.3" stroke="#0000e6" stroke-width="4" stroke-linecap="round" fill="none"/>
</svg>
</body></html>
